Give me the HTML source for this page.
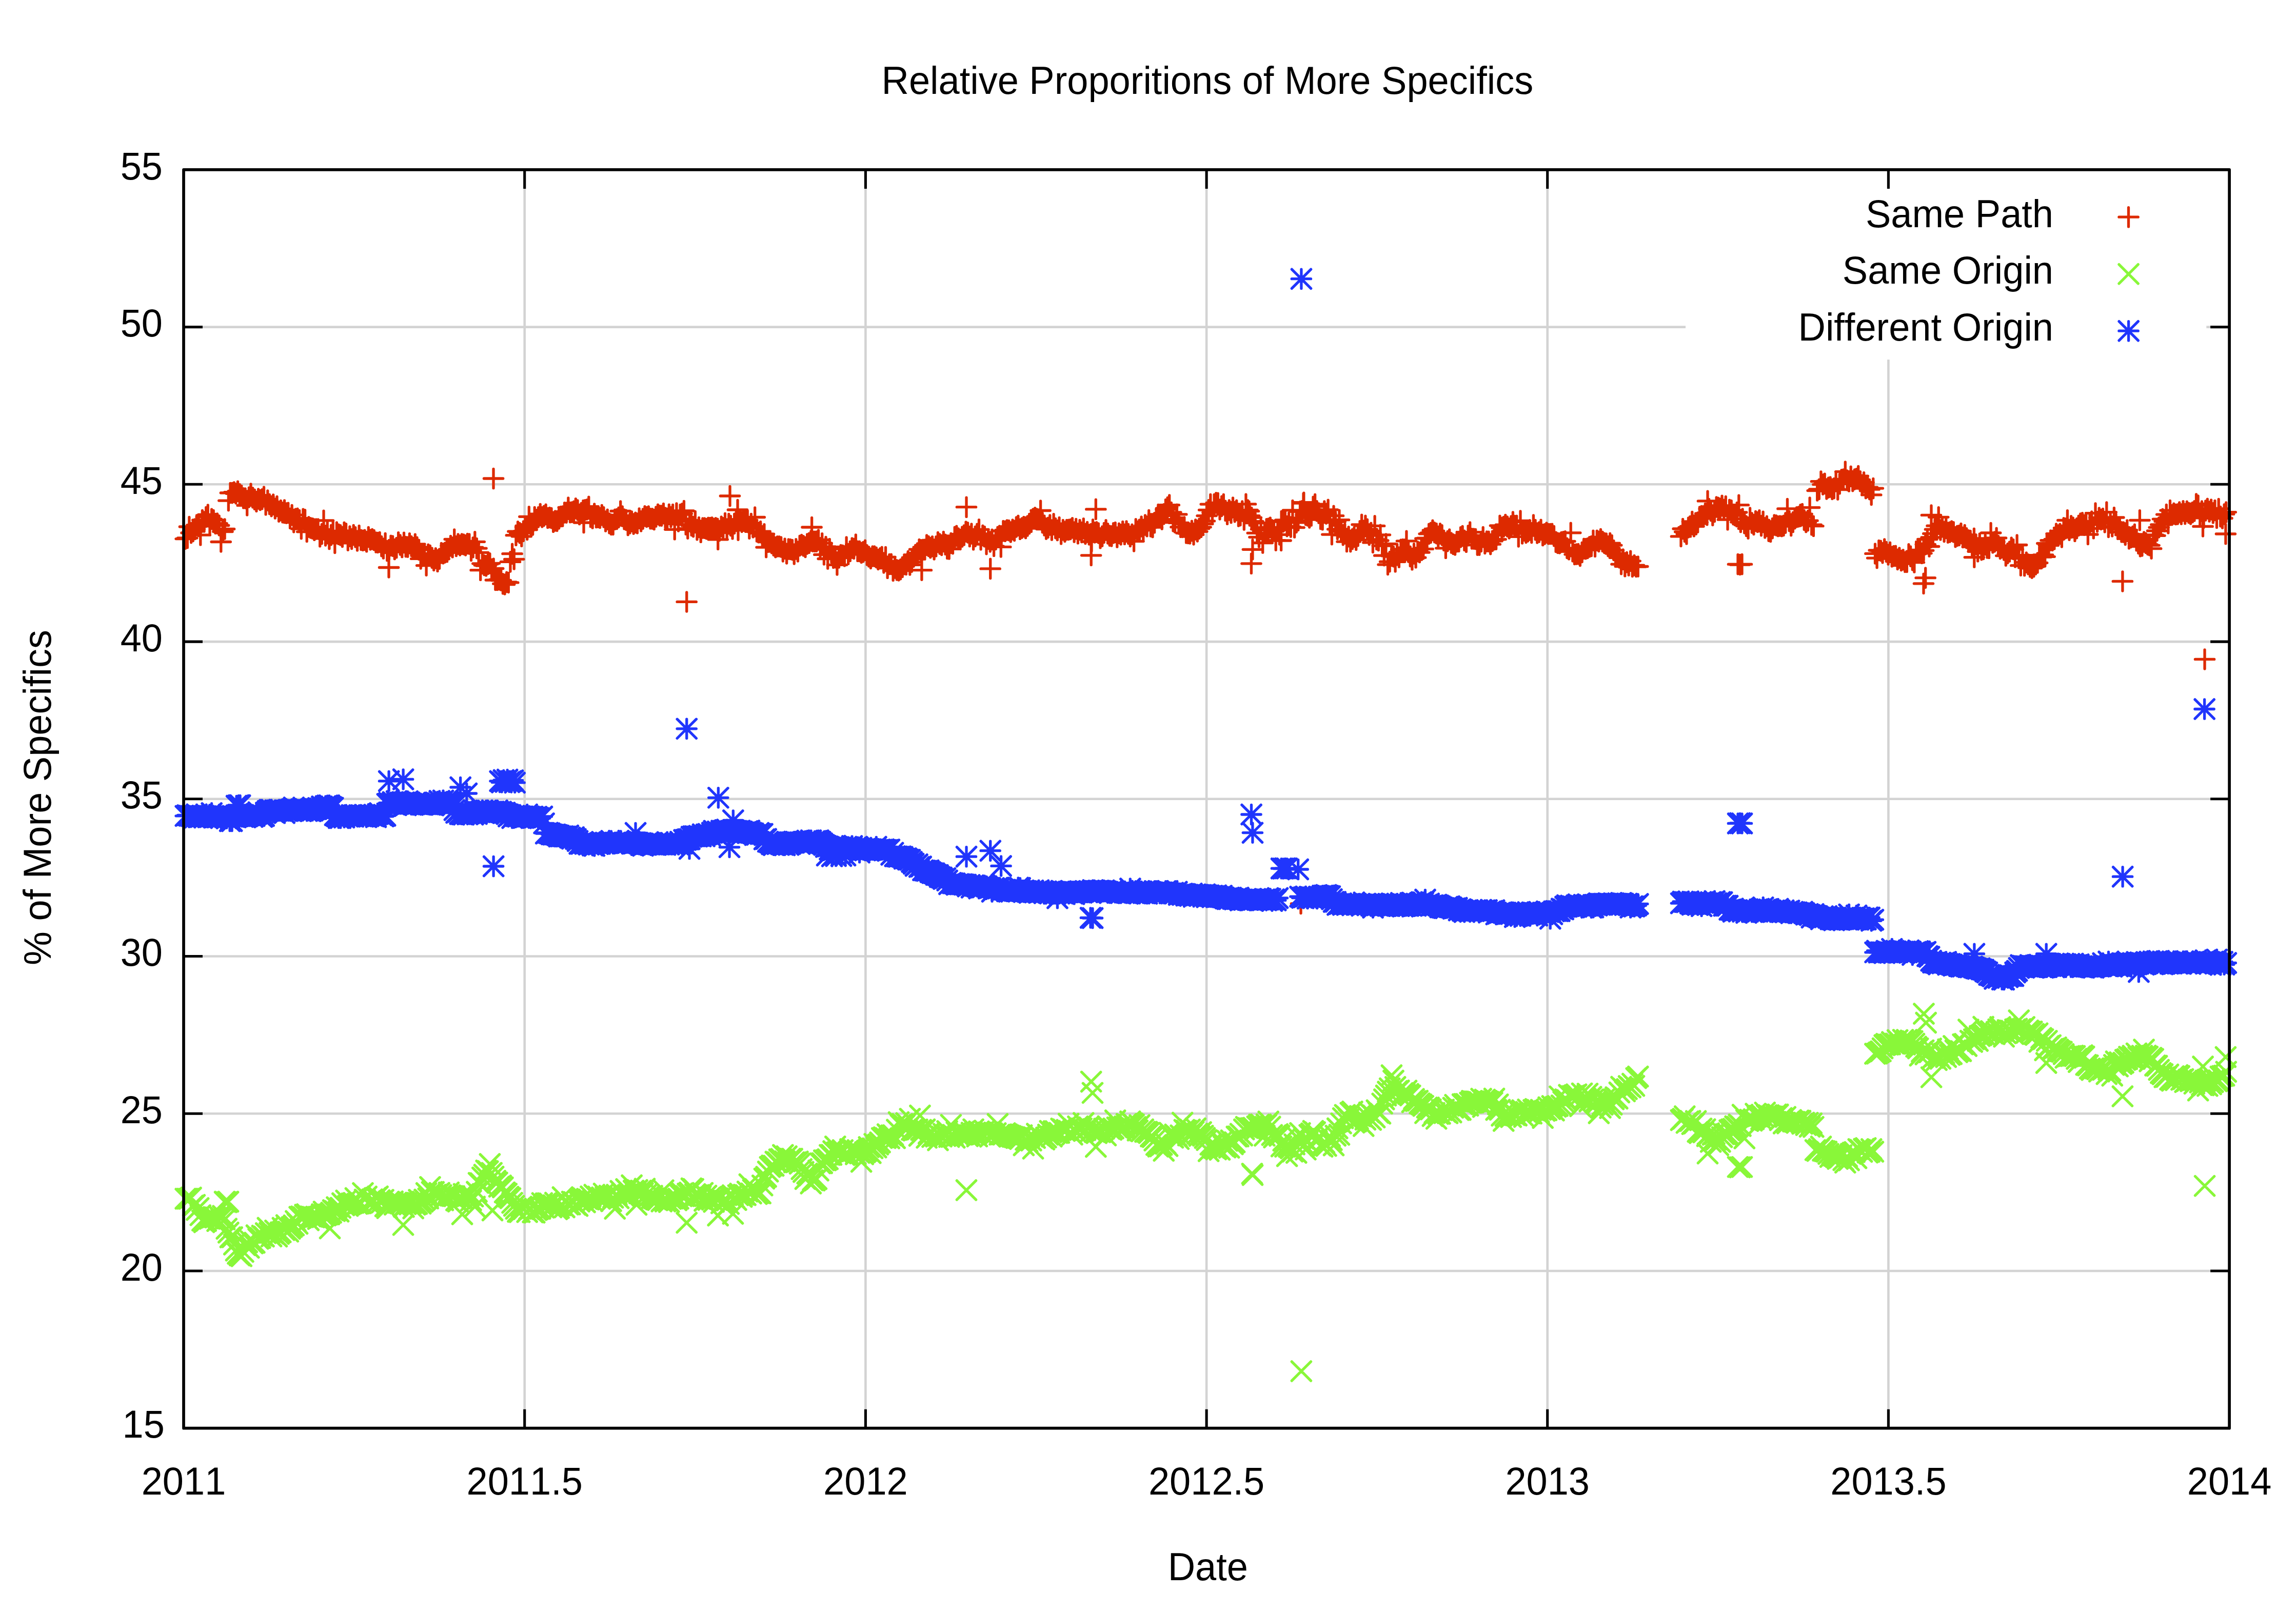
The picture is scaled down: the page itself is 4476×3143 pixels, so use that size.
<!DOCTYPE html>
<html><head><meta charset="utf-8"><title>Relative Proporitions of More Specifics</title>
<style>
html,body{margin:0;padding:0;background:#fff}
svg{display:block}
text{font-family:"Liberation Sans",sans-serif;fill:#000;font-kerning:none}
.m{fill:none;stroke-width:5.3;stroke-linecap:round;stroke-linejoin:round}
</style></head><body>
<svg width="4476" height="3143" viewBox="0 0 4476 3143">
<rect width="4476" height="3143" fill="#fff"/>
<path d="M358 2478H4346.1M358 2171.2H4346.1M358 1864.5H4346.1M358 1557.8H4346.1M358 1251.1H4346.1M358 944.3H4346.1M358 637.6H4346.1M1022.7 330.9V2784.7M1687.4 330.9V2784.7M2352.1 330.9V2784.7M3016.7 330.9V2784.7M3681.4 330.9V2784.7" stroke="#d3d3d3" stroke-width="4.6" fill="none"/>
<rect x="3286" y="368" width="1015.3" height="333.1" fill="#fff"/>
<path d="M358 2478h37M4346.1 2478h-37M358 2171.2h37M4346.1 2171.2h-37M358 1864.5h37M4346.1 1864.5h-37M358 1557.8h37M4346.1 1557.8h-37M358 1251.1h37M4346.1 1251.1h-37M358 944.3h37M4346.1 944.3h-37M358 637.6h37M4346.1 637.6h-37M1022.7 330.9v37M1022.7 2784.7v-37M1687.4 330.9v37M1687.4 2784.7v-37M2352.1 330.9v37M2352.1 2784.7v-37M3016.7 330.9v37M3016.7 2784.7v-37M3681.4 330.9v37M3681.4 2784.7v-37" stroke="#000" stroke-width="5.1" fill="none"/>
<path class="m" stroke="#dd2a00" d="M343 1050.6h37.3M361.6 1032v37.3M346.6 1049h37.3M365.3 1030.4v37.3M350.3 1027h37.3M368.9 1008.3v37.3M353.9 1039h37.3M372.6 1020.4v37.3M357.5 1036h37.3M376.2 1017.4v37.3M361.2 1031.6h37.3M379.8 1012.9v37.3M364.8 1023.7h37.3M383.5 1005v37.3M368.5 1025.9h37.3M387.1 1007.2v37.3M372.1 1043.2h37.3M390.8 1024.6v37.3M375.7 1013.9h37.3M394.4 995.3v37.3M379.4 1017.5h37.3M398 998.9v37.3M383 1007.9h37.3M401.7 989.3v37.3M386.7 1003.5h37.3M405.3 984.9v37.3M390.3 1022.5h37.3M409 1003.8v37.3M393.9 1011.9h37.3M412.6 993.2v37.3M397.6 1014h37.3M416.2 995.4v37.3M401.2 1020.9h37.3M419.9 1002.3v37.3M404.9 1020.6h37.3M423.5 1002v37.3M408.5 1024.5h37.3M427.2 1005.8v37.3M412.1 1056.5h37.3M430.8 1037.8v37.3M415.8 1036.5h37.3M434.4 1017.8v37.3M419.4 1031.5h37.3M438.1 1012.8v37.3M426.7 976.1h37.3M445.4 957.5v37.3M430.3 961h37.3M449 942.3v37.3M434 961.1h37.3M452.6 942.5v37.3M437.6 959.7h37.3M456.3 941v37.3M441.3 962.4h37.3M459.9 943.8v37.3M444.9 957.8h37.3M463.5 939.1v37.3M448.5 963.2h37.3M467.2 944.6v37.3M452.2 966h37.3M470.8 947.3v37.3M455.8 971.3h37.3M474.5 952.7v37.3M459.5 971.6h37.3M478.1 953v37.3M463.1 985.4h37.3M481.7 966.8v37.3M466.7 969.5h37.3M485.4 950.8v37.3M470.4 962.5h37.3M489 943.8v37.3M474 970.2h37.3M492.7 951.6v37.3M477.7 973.8h37.3M496.3 955.1v37.3M481.3 977.9h37.3M499.9 959.3v37.3M484.9 972.5h37.3M503.6 953.9v37.3M488.6 975h37.3M507.2 956.4v37.3M492.2 973.3h37.3M510.9 954.6v37.3M495.9 968.5h37.3M514.5 949.8v37.3M499.5 984.2h37.3M518.1 965.6v37.3M503.1 975.5h37.3M521.8 956.9v37.3M506.8 983.1h37.3M525.4 964.4v37.3M510.4 987.1h37.3M529.1 968.5v37.3M514.1 983.6h37.3M532.7 965v37.3M517.7 991.5h37.3M536.3 972.9v37.3M521.3 987h37.3M540 968.4v37.3M525 997.6h37.3M543.6 979v37.3M528.6 995.1h37.3M547.3 976.5v37.3M532.2 999.2h37.3M550.9 980.6v37.3M535.9 994.5h37.3M554.5 975.9v37.3M539.5 1000.7h37.3M558.2 982v37.3M543.2 999.7h37.3M561.8 981.1v37.3M546.8 1010.7h37.3M565.5 992.1v37.3M550.4 1004.1h37.3M569.1 985.5v37.3M554.1 1018.5h37.3M572.7 999.8v37.3M557.7 1011.5h37.3M576.4 992.8v37.3M561.4 1010.7h37.3M580 992.1v37.3M565 1014.1h37.3M583.7 995.4v37.3M568.6 1031.1h37.3M587.3 1012.4v37.3M572.3 1011.7h37.3M590.9 993.1v37.3M575.9 1013.2h37.3M594.6 994.6v37.3M579.6 1036.8h37.3M598.2 1018.1v37.3M583.2 1027.3h37.3M601.9 1008.7v37.3M586.8 1029.2h37.3M605.5 1010.6v37.3M590.5 1030.6h37.3M609.1 1011.9v37.3M594.1 1033.8h37.3M612.8 1015.1v37.3M597.8 1031.5h37.3M616.4 1012.9v37.3M601.4 1031.4h37.3M620.1 1012.8v37.3M605 1046.3h37.3M623.7 1027.6v37.3M608.7 1041.1h37.3M627.3 1022.5v37.3M612.3 1014.8h37.3M631 996.2v37.3M616 1044.4h37.3M634.6 1025.7v37.3M619.6 1036.6h37.3M638.2 1018v37.3M623.2 1051.1h37.3M641.9 1032.4v37.3M626.9 1043.1h37.3M645.5 1024.5v37.3M630.5 1035.4h37.3M649.2 1016.7v37.3M634.2 1058.9h37.3M652.8 1040.2v37.3M637.8 1037.4h37.3M656.4 1018.8v37.3M641.4 1041.8h37.3M660.1 1023.1v37.3M645.1 1043.3h37.3M663.7 1024.6v37.3M648.7 1046.8h37.3M667.4 1028.2v37.3M652.4 1037.7h37.3M671 1019.1v37.3M656 1040.2h37.3M674.6 1021.6v37.3M659.6 1053.7h37.3M678.3 1035v37.3M663.3 1045.6h37.3M681.9 1027v37.3M666.9 1050.9h37.3M685.6 1032.3v37.3M670.6 1042.9h37.3M689.2 1024.3v37.3M674.2 1047.3h37.3M692.8 1028.6v37.3M677.8 1054.4h37.3M696.5 1035.8v37.3M681.5 1044.1h37.3M700.1 1025.5v37.3M685.1 1052.8h37.3M703.8 1034.2v37.3M688.8 1053.7h37.3M707.4 1035.1v37.3M692.4 1052.9h37.3M711 1034.2v37.3M696 1056.3h37.3M714.7 1037.6v37.3M699.7 1047.1h37.3M718.3 1028.4v37.3M703.3 1052.5h37.3M722 1033.8v37.3M707 1051.2h37.3M725.6 1032.5v37.3M710.6 1053.1h37.3M729.2 1034.4v37.3M714.2 1057.6h37.3M732.9 1038.9v37.3M717.9 1058h37.3M736.5 1039.3v37.3M721.5 1056.9h37.3M740.2 1038.3v37.3M725.1 1065.1h37.3M743.8 1046.5v37.3M728.8 1069.6h37.3M747.4 1050.9v37.3M732.4 1059h37.3M751.1 1040.3v37.3M736.1 1074.1h37.3M754.7 1055.4v37.3M739.7 1071.9h37.3M758.4 1053.3v37.3M743.3 1063.8h37.3M762 1045.1v37.3M747 1064.6h37.3M765.6 1046v37.3M750.6 1071h37.3M769.3 1052.4v37.3M754.3 1068h37.3M772.9 1049.4v37.3M757.9 1057.4h37.3M776.6 1038.7v37.3M761.5 1062.4h37.3M780.2 1043.8v37.3M765.2 1067.1h37.3M783.8 1048.4v37.3M768.8 1057.9h37.3M787.5 1039.2v37.3M772.5 1066h37.3M791.1 1047.4v37.3M776.1 1066.6h37.3M794.8 1047.9v37.3M779.7 1059.4h37.3M798.4 1040.7v37.3M783.4 1065h37.3M802 1046.3v37.3M787 1068.1h37.3M805.7 1049.4v37.3M790.7 1060.8h37.3M809.3 1042.2v37.3M794.3 1066.8h37.3M813 1048.2v37.3M797.9 1071.8h37.3M816.6 1053.1v37.3M801.6 1089.4h37.3M820.2 1070.7v37.3M805.2 1084.2h37.3M823.9 1065.5v37.3M808.9 1079.5h37.3M827.5 1060.9v37.3M812.5 1102.6h37.3M831.1 1084v37.3M816.1 1080.7h37.3M834.8 1062.1v37.3M819.8 1082.8h37.3M838.4 1064.1v37.3M823.4 1087.6h37.3M842.1 1069v37.3M827.1 1093h37.3M845.7 1074.3v37.3M830.7 1088.3h37.3M849.3 1069.7v37.3M834.3 1094.7h37.3M853 1076.1v37.3M838 1089.7h37.3M856.6 1071v37.3M841.6 1078.2h37.3M860.3 1059.5v37.3M845.3 1079.2h37.3M863.9 1060.6v37.3M848.9 1077.4h37.3M867.5 1058.8v37.3M852.5 1073.6h37.3M871.2 1054.9v37.3M856.2 1071.4h37.3M874.8 1052.8v37.3M859.8 1064.1h37.3M878.5 1045.5v37.3M863.5 1067.3h37.3M882.1 1048.6v37.3M867.1 1051.5h37.3M885.7 1032.9v37.3M870.7 1064.9h37.3M889.4 1046.3v37.3M874.4 1060.7h37.3M893 1042v37.3M878 1063.5h37.3M896.7 1044.8v37.3M881.7 1060.7h37.3M900.3 1042v37.3M885.3 1061.6h37.3M903.9 1042.9v37.3M888.9 1063.4h37.3M907.6 1044.7v37.3M892.6 1060h37.3M911.2 1041.3v37.3M896.2 1060.5h37.3M914.9 1041.9v37.3M899.8 1073.7h37.3M918.5 1055.1v37.3M903.5 1067.2h37.3M922.1 1048.6v37.3M907.1 1056.3h37.3M925.8 1037.6v37.3M910.8 1069.1h37.3M929.4 1050.5v37.3M914.4 1077.3h37.3M933.1 1058.7v37.3M918 1111.7h37.3M936.7 1093.1v37.3M921.7 1098.8h37.3M940.3 1080.2v37.3M925.3 1102.1h37.3M944 1083.4v37.3M929 1103.2h37.3M947.6 1084.6v37.3M932.6 1099.9h37.3M951.3 1081.3v37.3M936.2 1098.4h37.3M954.9 1079.7v37.3M939.9 1109.9h37.3M958.5 1091.2v37.3M943.5 1108.5h37.3M962.2 1089.8v37.3M947.2 1131h37.3M965.8 1112.3v37.3M950.8 1130.8h37.3M969.5 1112.2v37.3M954.4 1130.2h37.3M973.1 1111.5v37.3M958.1 1131.5h37.3M976.7 1112.9v37.3M961.7 1138.2h37.3M980.4 1119.6v37.3M965.4 1139.5h37.3M984 1120.8v37.3M969 1134.9h37.3M987.7 1116.2v37.3M972.6 1135.9h37.3M991.3 1117.3v37.3M976.3 1095.4h37.3M994.9 1076.7v37.3M979.9 1079.7h37.3M998.6 1061.1v37.3M983.6 1090.3h37.3M1002.2 1071.7v37.3M987.2 1043.7h37.3M1005.9 1025.1v37.3M990.8 1036.2h37.3M1009.5 1017.6v37.3M994.5 1039.1h37.3M1013.1 1020.5v37.3M998.1 1045.8h37.3M1016.8 1027.1v37.3M1001.8 1035.6h37.3M1020.4 1017v37.3M1005.4 1027.7h37.3M1024 1009.1v37.3M1009 1032.8h37.3M1027.7 1014.1v37.3M1012.7 1007.3h37.3M1031.3 988.6v37.3M1016.3 1022.7h37.3M1035 1004.1v37.3M1020 1023.5h37.3M1038.6 1004.8v37.3M1023.6 1008h37.3M1042.2 989.4v37.3M1027.2 1013.2h37.3M1045.9 994.6v37.3M1030.9 1008.4h37.3M1049.5 989.7v37.3M1034.5 1002.1h37.3M1053.2 983.4v37.3M1038.2 1008.2h37.3M1056.8 989.6v37.3M1041.8 1005.8h37.3M1060.4 987.2v37.3M1045.4 1002.9h37.3M1064.1 984.2v37.3M1049.1 1010h37.3M1067.7 991.3v37.3M1052.7 1009h37.3M1071.4 990.4v37.3M1056.4 1010.2h37.3M1075 991.5v37.3M1060 1017.8h37.3M1078.6 999.1v37.3M1063.6 1015.4h37.3M1082.3 996.8v37.3M1067.3 1016h37.3M1085.9 997.3v37.3M1070.9 1011.4h37.3M1089.6 992.7v37.3M1074.6 1007.1h37.3M1093.2 988.4v37.3M1078.2 1006.7h37.3M1096.8 988v37.3M1081.8 999.4h37.3M1100.5 980.7v37.3M1085.5 999.6h37.3M1104.1 981v37.3M1089.1 989.5h37.3M1107.8 970.9v37.3M1092.7 999.1h37.3M1111.4 980.5v37.3M1096.4 998.6h37.3M1115 980v37.3M1100 996.8h37.3M1118.7 978.1v37.3M1103.7 991.2h37.3M1122.3 972.6v37.3M1107.3 994.5h37.3M1126 975.8v37.3M1110.9 1003.1h37.3M1129.6 984.4v37.3M1114.6 1000.2h37.3M1133.2 981.5v37.3M1118.2 995h37.3M1136.9 976.3v37.3M1121.9 994.3h37.3M1140.5 975.6v37.3M1125.5 993.3h37.3M1144.2 974.7v37.3M1129.1 987.7h37.3M1147.8 969.1v37.3M1132.8 1008h37.3M1151.4 989.4v37.3M1136.4 1010.6h37.3M1155.1 991.9v37.3M1140.1 1001.5h37.3M1158.7 982.8v37.3M1143.7 1009h37.3M1162.4 990.4v37.3M1147.3 1008.6h37.3M1166 990v37.3M1151 1009.9h37.3M1169.6 991.2v37.3M1154.6 1004h37.3M1173.3 985.3v37.3M1158.3 1008.3h37.3M1176.9 989.7v37.3M1161.9 1016.5h37.3M1180.6 997.9v37.3M1165.5 1012.7h37.3M1184.2 994.1v37.3M1169.2 1020.5h37.3M1187.8 1001.8v37.3M1172.8 1022.8h37.3M1191.5 1004.2v37.3M1176.5 1022.8h37.3M1195.1 1004.2v37.3M1180.1 1012.7h37.3M1198.7 994.1v37.3M1183.7 1012h37.3M1202.4 993.4v37.3M1187.4 1008.9h37.3M1206 990.2v37.3M1191 996.5h37.3M1209.7 977.8v37.3M1194.7 1006.6h37.3M1213.3 987.9v37.3M1198.3 1012.5h37.3M1216.9 993.8v37.3M1201.9 1013.9h37.3M1220.6 995.2v37.3M1205.6 1024h37.3M1224.2 1005.4v37.3M1209.2 1020.5h37.3M1227.9 1001.9v37.3M1212.9 1016.6h37.3M1231.5 998v37.3M1216.5 1021.7h37.3M1235.1 1003v37.3M1220.1 1018.8h37.3M1238.8 1000.2v37.3M1223.8 1020.5h37.3M1242.4 1001.8v37.3M1227.4 1010.7h37.3M1246.1 992v37.3M1231.1 1016.3h37.3M1249.7 997.7v37.3M1234.7 1011.7h37.3M1253.3 993v37.3M1238.3 1006.2h37.3M1257 987.6v37.3M1242 1007.9h37.3M1260.6 989.3v37.3M1245.6 1006.6h37.3M1264.3 988v37.3M1249.3 1011.2h37.3M1267.9 992.6v37.3M1252.9 1011.3h37.3M1271.5 992.7v37.3M1256.5 1013h37.3M1275.2 994.4v37.3M1260.2 1007.6h37.3M1278.8 988.9v37.3M1263.8 1002.9h37.3M1282.5 984.2v37.3M1267.4 1005.4h37.3M1286.1 986.7v37.3M1271.1 1005.6h37.3M1289.7 987v37.3M1274.7 1001.1h37.3M1293.4 982.5v37.3M1278.4 1009.6h37.3M1297 990.9v37.3M1282 1010.9h37.3M1300.7 992.2v37.3M1285.6 1002.7h37.3M1304.3 984.1v37.3M1289.3 1008.1h37.3M1307.9 989.5v37.3M1292.9 1003.1h37.3M1311.6 984.5v37.3M1296.6 1032.3h37.3M1315.2 1013.6v37.3M1300.2 1000.6h37.3M1318.9 982v37.3M1303.8 1016.5h37.3M1322.5 997.9v37.3M1307.5 1003.2h37.3M1326.1 984.5v37.3M1311.1 1001.4h37.3M1329.8 982.7v37.3M1314.8 996h37.3M1333.4 977.3v37.3M1318.4 1022.7h37.3M1337.1 1004.1v37.3M1322 1030.7h37.3M1340.7 1012v37.3M1325.7 1016.5h37.3M1344.3 997.8v37.3M1329.3 1024.9h37.3M1348 1006.3v37.3M1333 1027.2h37.3M1351.6 1008.5v37.3M1336.6 1016h37.3M1355.3 997.4v37.3M1340.2 1033.2h37.3M1358.9 1014.5v37.3M1343.9 1028h37.3M1362.5 1009.3v37.3M1347.5 1037.7h37.3M1366.2 1019.1v37.3M1351.2 1029.6h37.3M1369.8 1010.9v37.3M1354.8 1029.7h37.3M1373.5 1011v37.3M1358.4 1031.1h37.3M1377.1 1012.5v37.3M1362.1 1028.8h37.3M1380.7 1010.1v37.3M1365.7 1028.9h37.3M1384.4 1010.3v37.3M1369.4 1028.3h37.3M1388 1009.6v37.3M1373 1030.8h37.3M1391.6 1012.1v37.3M1376.6 1029.4h37.3M1395.3 1010.7v37.3M1380.3 1030.8h37.3M1398.9 1012.2v37.3M1383.9 1034.9h37.3M1402.6 1016.3v37.3M1387.6 1026.5h37.3M1406.2 1007.8v37.3M1391.2 1029.3h37.3M1409.8 1010.6v37.3M1394.8 1019.9h37.3M1413.5 1001.3v37.3M1398.5 1031.5h37.3M1417.1 1012.8v37.3M1402.1 1021.2h37.3M1420.8 1002.5v37.3M1405.8 1025h37.3M1424.4 1006.3v37.3M1409.4 1031.3h37.3M1428 1012.6v37.3M1413 1020.8h37.3M1431.7 1002.2v37.3M1416.7 1016.1h37.3M1435.3 997.4v37.3M1420.3 1033.6h37.3M1439 1015v37.3M1424 1013.4h37.3M1442.6 994.8v37.3M1427.6 1017.9h37.3M1446.2 999.3v37.3M1431.2 1015.7h37.3M1449.9 997v37.3M1434.9 1017.7h37.3M1453.5 999.1v37.3M1438.5 1014.2h37.3M1457.2 995.6v37.3M1442.2 1030.6h37.3M1460.8 1012v37.3M1445.8 1021.1h37.3M1464.4 1002.4v37.3M1449.4 1028.4h37.3M1468.1 1009.7v37.3M1453.1 1008.5h37.3M1471.7 989.9v37.3M1456.7 1036.5h37.3M1475.4 1017.9v37.3M1460.3 1038.3h37.3M1479 1019.6v37.3M1464 1036.1h37.3M1482.6 1017.4v37.3M1467.6 1045.1h37.3M1486.3 1026.5v37.3M1471.3 1041.2h37.3M1489.9 1022.6v37.3M1474.9 1067.1h37.3M1493.6 1048.5v37.3M1478.5 1056.7h37.3M1497.2 1038.1v37.3M1482.2 1056.5h37.3M1500.8 1037.9v37.3M1485.8 1059.2h37.3M1504.5 1040.6v37.3M1489.5 1063.6h37.3M1508.1 1045v37.3M1493.1 1067.2h37.3M1511.8 1048.5v37.3M1496.7 1065.3h37.3M1515.4 1046.7v37.3M1500.4 1065.3h37.3M1519 1046.7v37.3M1504 1066.4h37.3M1522.7 1047.8v37.3M1507.7 1075.5h37.3M1526.3 1056.8v37.3M1511.3 1069.6h37.3M1530 1051v37.3M1514.9 1079.4h37.3M1533.6 1060.8v37.3M1518.6 1070.6h37.3M1537.2 1051.9v37.3M1522.2 1070.9h37.3M1540.9 1052.3v37.3M1525.9 1072h37.3M1544.5 1053.3v37.3M1529.5 1080.4h37.3M1548.2 1061.8v37.3M1533.1 1070.3h37.3M1551.8 1051.7v37.3M1536.8 1075.5h37.3M1555.4 1056.8v37.3M1540.4 1063.8h37.3M1559.1 1045.2v37.3M1544.1 1062.1h37.3M1562.7 1043.4v37.3M1547.7 1064.3h37.3M1566.3 1045.6v37.3M1551.3 1066.8h37.3M1570 1048.2v37.3M1555 1060.4h37.3M1573.6 1041.8v37.3M1558.6 1058.7h37.3M1577.3 1040.1v37.3M1562.3 1054.5h37.3M1580.9 1035.9v37.3M1565.9 1055.5h37.3M1584.5 1036.9v37.3M1569.5 1055.8h37.3M1588.2 1037.1v37.3M1573.2 1055.6h37.3M1591.8 1037v37.3M1576.8 1052.5h37.3M1595.5 1033.8v37.3M1580.5 1068.2h37.3M1599.1 1049.6v37.3M1584.1 1059.2h37.3M1602.7 1040.6v37.3M1587.7 1081.4h37.3M1606.4 1062.7v37.3M1591.4 1066h37.3M1610 1047.3v37.3M1595 1089.5h37.3M1613.7 1070.9v37.3M1598.7 1070.1h37.3M1617.3 1051.4v37.3M1602.3 1077.6h37.3M1620.9 1058.9v37.3M1605.9 1087.7h37.3M1624.6 1069.1v37.3M1609.6 1087.2h37.3M1628.2 1068.5v37.3M1613.2 1101.4h37.3M1631.9 1082.7v37.3M1616.9 1087.5h37.3M1635.5 1068.8v37.3M1620.5 1082.1h37.3M1639.1 1063.4v37.3M1624.1 1082.8h37.3M1642.8 1064.1v37.3M1627.8 1084.3h37.3M1646.4 1065.6v37.3M1631.4 1066.5h37.3M1650.1 1047.9v37.3M1635.1 1080.8h37.3M1653.7 1062.1v37.3M1638.7 1074.8h37.3M1657.3 1056.1v37.3M1642.3 1068.5h37.3M1661 1049.8v37.3M1646 1069.8h37.3M1664.6 1051.2v37.3M1649.6 1061.5h37.3M1668.3 1042.8v37.3M1653.2 1074.7h37.3M1671.9 1056.1v37.3M1656.9 1074.9h37.3M1675.5 1056.2v37.3M1660.5 1077.8h37.3M1679.2 1059.1v37.3M1664.2 1076.1h37.3M1682.8 1057.5v37.3M1667.8 1072.7h37.3M1686.5 1054.1v37.3M1671.4 1082.3h37.3M1690.1 1063.6v37.3M1675.1 1085.2h37.3M1693.7 1066.6v37.3M1678.7 1088.9h37.3M1697.4 1070.2v37.3M1682.4 1084.4h37.3M1701 1065.8v37.3M1686 1084.7h37.3M1704.7 1066v37.3M1689.6 1086.8h37.3M1708.3 1068.2v37.3M1693.3 1091h37.3M1711.9 1072.3v37.3M1696.9 1088.3h37.3M1715.6 1069.7v37.3M1700.6 1085.9h37.3M1719.2 1067.2v37.3M1704.2 1097.5h37.3M1722.9 1078.8v37.3M1707.8 1086.1h37.3M1726.5 1067.4v37.3M1711.5 1107.7h37.3M1730.1 1089.1v37.3M1715.1 1100h37.3M1733.8 1081.4v37.3M1718.8 1099.9h37.3M1737.4 1081.2v37.3M1722.4 1112.8h37.3M1741.1 1094.1v37.3M1726 1107.5h37.3M1744.7 1088.8v37.3M1729.7 1111.4h37.3M1748.3 1092.7v37.3M1733.3 1112.3h37.3M1752 1093.7v37.3M1737 1110.1h37.3M1755.6 1091.5v37.3M1740.6 1105.7h37.3M1759.2 1087.1v37.3M1744.2 1100.3h37.3M1762.9 1081.6v37.3M1747.9 1101h37.3M1766.5 1082.3v37.3M1751.5 1093.9h37.3M1770.2 1075.3v37.3M1755.2 1101.3h37.3M1773.8 1082.7v37.3M1758.8 1095.8h37.3M1777.4 1077.1v37.3M1762.4 1085.6h37.3M1781.1 1067v37.3M1766.1 1081.7h37.3M1784.7 1063.1v37.3M1769.7 1078.5h37.3M1788.4 1059.9v37.3M1773.4 1071.1h37.3M1792 1052.5v37.3M1777 1072.2h37.3M1795.6 1053.6v37.3M1780.6 1071.8h37.3M1799.3 1053.2v37.3M1784.3 1071.6h37.3M1802.9 1053v37.3M1787.9 1062.7h37.3M1806.6 1044v37.3M1791.6 1065h37.3M1810.2 1046.3v37.3M1795.2 1068h37.3M1813.8 1049.4v37.3M1798.8 1065.2h37.3M1817.5 1046.6v37.3M1802.5 1071.4h37.3M1821.1 1052.7v37.3M1806.1 1065.2h37.3M1824.8 1046.6v37.3M1809.8 1057h37.3M1828.4 1038.3v37.3M1813.4 1060.5h37.3M1832 1041.9v37.3M1817 1062.9h37.3M1835.7 1044.3v37.3M1820.7 1056h37.3M1839.3 1037.3v37.3M1824.3 1061.8h37.3M1843 1043.1v37.3M1827.9 1069.9h37.3M1846.6 1051.3v37.3M1831.6 1070.4h37.3M1850.2 1051.8v37.3M1835.2 1059.1h37.3M1853.9 1040.4v37.3M1838.9 1060.1h37.3M1857.5 1041.5v37.3M1842.5 1046.8h37.3M1861.2 1028.2v37.3M1846.1 1044.9h37.3M1864.8 1026.2v37.3M1849.8 1049.6h37.3M1868.4 1031v37.3M1853.4 1052h37.3M1872.1 1033.3v37.3M1857.1 1046.5h37.3M1875.7 1027.9v37.3M1860.7 1043.5h37.3M1879.4 1024.8v37.3M1864.3 1036.5h37.3M1883 1017.8v37.3M1868 1038.4h37.3M1886.6 1019.7v37.3M1871.6 1046h37.3M1890.3 1027.4v37.3M1875.3 1040.5h37.3M1893.9 1021.9v37.3M1878.9 1052.2h37.3M1897.6 1033.6v37.3M1882.5 1045.7h37.3M1901.2 1027.1v37.3M1886.2 1040.9h37.3M1904.8 1022.2v37.3M1889.8 1032.4h37.3M1908.5 1013.7v37.3M1893.5 1052.2h37.3M1912.1 1033.6v37.3M1897.1 1043.9h37.3M1915.8 1025.2v37.3M1900.7 1046.1h37.3M1919.4 1027.5v37.3M1904.4 1061.2h37.3M1923 1042.5v37.3M1908 1051h37.3M1926.7 1032.4v37.3M1911.7 1056.5h37.3M1930.3 1037.8v37.3M1915.3 1051.9h37.3M1934 1033.2v37.3M1918.9 1064.8h37.3M1937.6 1046.1v37.3M1922.6 1052h37.3M1941.2 1033.3v37.3M1926.2 1046.9h37.3M1944.9 1028.2v37.3M1929.9 1044.5h37.3M1948.5 1025.9v37.3M1933.5 1045.3h37.3M1952.1 1026.7v37.3M1937.1 1035.2h37.3M1955.8 1016.5v37.3M1940.8 1035.8h37.3M1959.4 1017.1v37.3M1944.4 1033.5h37.3M1963.1 1014.8v37.3M1948.1 1034.1h37.3M1966.7 1015.5v37.3M1951.7 1037.5h37.3M1970.3 1018.8v37.3M1955.3 1032.6h37.3M1974 1013.9v37.3M1959 1034.8h37.3M1977.6 1016.2v37.3M1962.6 1027.5h37.3M1981.3 1008.8v37.3M1966.3 1024.7h37.3M1984.9 1006.1v37.3M1969.9 1031.7h37.3M1988.5 1013.1v37.3M1973.5 1029.6h37.3M1992.2 1010.9v37.3M1977.2 1026.9h37.3M1995.8 1008.3v37.3M1980.8 1030.1h37.3M1999.5 1011.4v37.3M1984.5 1025.5h37.3M2003.1 1006.8v37.3M1988.1 1021.1h37.3M2006.7 1002.5v37.3M1991.7 1017.8h37.3M2010.4 999.1v37.3M1995.4 1011.4h37.3M2014 992.8v37.3M1999 1009.4h37.3M2017.7 990.7v37.3M2002.7 1011.6h37.3M2021.3 992.9v37.3M2006.3 1012.4h37.3M2024.9 993.8v37.3M2009.9 995.5h37.3M2028.6 976.8v37.3M2013.6 1019.2h37.3M2032.2 1000.5v37.3M2017.2 1024.5h37.3M2035.9 1005.9v37.3M2020.8 1031.5h37.3M2039.5 1012.9v37.3M2024.5 1028.9h37.3M2043.1 1010.2v37.3M2028.1 1023.5h37.3M2046.8 1004.9v37.3M2031.8 1033.6h37.3M2050.4 1014.9v37.3M2035.4 1021.2h37.3M2054.1 1002.6v37.3M2039 1030.1h37.3M2057.7 1011.5v37.3M2042.7 1034h37.3M2061.3 1015.4v37.3M2046.3 1028h37.3M2065 1009.3v37.3M2050 1041.3h37.3M2068.6 1022.6v37.3M2053.6 1033.1h37.3M2072.3 1014.5v37.3M2057.2 1036.8h37.3M2075.9 1018.1v37.3M2060.9 1032.9h37.3M2079.5 1014.3v37.3M2064.5 1032.9h37.3M2083.2 1014.2v37.3M2068.2 1032h37.3M2086.8 1013.4v37.3M2071.8 1029.3h37.3M2090.5 1010.6v37.3M2075.4 1037.6h37.3M2094.1 1018.9v37.3M2079.1 1031.2h37.3M2097.7 1012.5v37.3M2082.7 1040.2h37.3M2101.4 1021.6v37.3M2086.4 1033.1h37.3M2105 1014.4v37.3M2090 1038.1h37.3M2108.7 1019.4v37.3M2093.6 1030.4h37.3M2112.3 1011.7v37.3M2097.3 1040.8h37.3M2115.9 1022.2v37.3M2100.9 1037h37.3M2119.6 1018.4v37.3M2104.6 1042.4h37.3M2123.2 1023.8v37.3M2108.2 1041h37.3M2126.8 1022.4v37.3M2111.8 1032.2h37.3M2130.5 1013.6v37.3M2115.5 1038.4h37.3M2134.1 1019.7v37.3M2119.1 1037.3h37.3M2137.8 1018.7v37.3M2122.8 1039.4h37.3M2141.4 1020.8v37.3M2126.4 1049.3h37.3M2145 1030.6v37.3M2130 1045.7h37.3M2148.7 1027v37.3M2133.7 1039h37.3M2152.3 1020.3v37.3M2137.3 1033.3h37.3M2156 1014.7v37.3M2141 1040.4h37.3M2159.6 1021.7v37.3M2144.6 1044.7h37.3M2163.2 1026v37.3M2148.2 1045.3h37.3M2166.9 1026.7v37.3M2151.9 1039.2h37.3M2170.5 1020.6v37.3M2155.5 1038.1h37.3M2174.2 1019.4v37.3M2159.2 1047.6h37.3M2177.8 1028.9v37.3M2162.8 1039.7h37.3M2181.4 1021.1v37.3M2166.4 1042.3h37.3M2185.1 1023.7v37.3M2170.1 1036h37.3M2188.7 1017.4v37.3M2173.7 1041.8h37.3M2192.4 1023.1v37.3M2177.4 1035.7h37.3M2196 1017v37.3M2181 1041h37.3M2199.6 1022.3v37.3M2184.6 1046h37.3M2203.3 1027.4v37.3M2188.3 1041.8h37.3M2206.9 1023.1v37.3M2191.9 1055.3h37.3M2210.6 1036.7v37.3M2195.5 1031.3h37.3M2214.2 1012.6v37.3M2199.2 1036.2h37.3M2217.8 1017.5v37.3M2202.8 1032.4h37.3M2221.5 1013.8v37.3M2206.5 1026.5h37.3M2225.1 1007.8v37.3M2210.1 1033.6h37.3M2228.8 1015v37.3M2213.7 1023.5h37.3M2232.4 1004.9v37.3M2217.4 1026.2h37.3M2236 1007.6v37.3M2221 1014.1h37.3M2239.7 995.5v37.3M2224.7 1026.5h37.3M2243.3 1007.9v37.3M2228.3 1028.1h37.3M2247 1009.4v37.3M2231.9 1019.2h37.3M2250.6 1000.6v37.3M2235.6 1009.8h37.3M2254.2 991.1v37.3M2239.2 1003h37.3M2257.9 984.4v37.3M2242.9 1005.3h37.3M2261.5 986.7v37.3M2246.5 1012.6h37.3M2265.2 993.9v37.3M2250.1 1002.3h37.3M2268.8 983.6v37.3M2253.8 993.2h37.3M2272.4 974.5v37.3M2257.4 989.2h37.3M2276.1 970.5v37.3M2261.1 984.7h37.3M2279.7 966v37.3M2264.7 998.9h37.3M2283.4 980.3v37.3M2268.3 1016.4h37.3M2287 997.8v37.3M2272 1018.7h37.3M2290.6 1000.1v37.3M2275.6 1002.9h37.3M2294.3 984.2v37.3M2279.3 1019.4h37.3M2297.9 1000.7v37.3M2282.9 1027.7h37.3M2301.6 1009.1v37.3M2286.5 1027.9h37.3M2305.2 1009.3v37.3M2290.2 1027.6h37.3M2308.8 1008.9v37.3M2293.8 1039.4h37.3M2312.5 1020.7v37.3M2297.5 1040h37.3M2316.1 1021.3v37.3M2301.1 1040.3h37.3M2319.7 1021.7v37.3M2304.7 1034.8h37.3M2323.4 1016.2v37.3M2308.4 1042.5h37.3M2327 1023.8v37.3M2312 1032.3h37.3M2330.7 1013.7v37.3M2315.7 1036.3h37.3M2334.3 1017.7v37.3M2319.3 1030.7h37.3M2337.9 1012v37.3M2322.9 1027.8h37.3M2341.6 1009.1v37.3M2326.6 1021.5h37.3M2345.2 1002.8v37.3M2330.2 1015.9h37.3M2348.9 997.3v37.3M2333.9 1005.6h37.3M2352.5 986.9v37.3M2337.5 994.3h37.3M2356.1 975.6v37.3M2341.1 983.1h37.3M2359.8 964.5v37.3M2344.8 999.2h37.3M2363.4 980.6v37.3M2348.4 983.1h37.3M2367.1 964.4v37.3M2352.1 980.3h37.3M2370.7 961.7v37.3M2355.7 980.8h37.3M2374.3 962.1v37.3M2359.3 993.4h37.3M2378 974.8v37.3M2363 986.9h37.3M2381.6 968.2v37.3M2366.6 983.2h37.3M2385.3 964.5v37.3M2370.3 995.8h37.3M2388.9 977.1v37.3M2373.9 1002.7h37.3M2392.5 984.1v37.3M2377.5 994.4h37.3M2396.2 975.8v37.3M2381.2 998h37.3M2399.8 979.3v37.3M2384.8 989.7h37.3M2403.5 971v37.3M2388.4 998.1h37.3M2407.1 979.5v37.3M2392.1 994.8h37.3M2410.7 976.1v37.3M2395.7 1006.5h37.3M2414.4 987.9v37.3M2399.4 1005.1h37.3M2418 986.5v37.3M2403 996.5h37.3M2421.7 977.8v37.3M2406.6 1013.5h37.3M2425.3 994.9v37.3M2410.3 982.9h37.3M2428.9 964.2v37.3M2413.9 994.4h37.3M2432.6 975.8v37.3M2417.6 1005.6h37.3M2436.2 986.9v37.3M2421.2 1009.2h37.3M2439.9 990.5v37.3M2424.8 1016.6h37.3M2443.5 998v37.3M2428.5 1019.6h37.3M2447.1 1001v37.3M2432.1 1039.3h37.3M2450.8 1020.7v37.3M2435.8 1047.3h37.3M2454.4 1028.6v37.3M2439.4 1031.8h37.3M2458.1 1013.2v37.3M2443 1058.5h37.3M2461.7 1039.9v37.3M2446.7 1039.5h37.3M2465.3 1020.8v37.3M2450.3 1031.4h37.3M2469 1012.7v37.3M2454 1030.4h37.3M2472.6 1011.8v37.3M2457.6 1028.5h37.3M2476.3 1009.9v37.3M2461.2 1033.4h37.3M2479.9 1014.7v37.3M2464.9 1035.3h37.3M2483.5 1016.7v37.3M2468.5 1053.6h37.3M2487.2 1035v37.3M2472.2 1033.1h37.3M2490.8 1014.4v37.3M2475.8 1042.4h37.3M2494.4 1023.8v37.3M2479.4 1016h37.3M2498.1 997.4v37.3M2483.1 1017.2h37.3M2501.7 998.5v37.3M2486.7 1013.9h37.3M2505.4 995.3v37.3M2490.4 1026.1h37.3M2509 1007.5v37.3M2494 1018.8h37.3M2512.6 1000.1v37.3M2497.6 1027.5h37.3M2516.3 1008.9v37.3M2501.3 994.9h37.3M2519.9 976.3v37.3M2504.9 1028.6h37.3M2523.6 1009.9v37.3M2508.6 1018.9h37.3M2527.2 1000.3v37.3M2512.2 1014.9h37.3M2530.8 996.3v37.3M2515.8 997.3h37.3M2534.5 978.6v37.3M2519.5 996.3h37.3M2538.1 977.7v37.3M2523.1 979.7h37.3M2541.8 961.1v37.3M2526.8 1004.1h37.3M2545.4 985.4v37.3M2530.4 1005.4h37.3M2549 986.7v37.3M2534 1009.4h37.3M2552.7 990.7v37.3M2537.7 1005.6h37.3M2556.3 986.9v37.3M2541.3 987.7h37.3M2560 969.1v37.3M2545 983.1h37.3M2563.6 964.5v37.3M2548.6 996.2h37.3M2567.2 977.6v37.3M2552.2 1000.6h37.3M2570.9 981.9v37.3M2555.9 1012h37.3M2574.5 993.4v37.3M2559.5 1013.2h37.3M2578.2 994.6v37.3M2563.2 996.4h37.3M2581.8 977.8v37.3M2566.8 1001.6h37.3M2585.4 982.9v37.3M2570.4 993.9h37.3M2589.1 975.2v37.3M2574.1 1018.7h37.3M2592.7 1000.1v37.3M2577.7 1042.1h37.3M2596.4 1023.5v37.3M2581.3 1005.7h37.3M2600 987.1v37.3M2585 1017.2h37.3M2603.6 998.6v37.3M2588.6 1031.9h37.3M2607.3 1013.3v37.3M2592.3 1013.7h37.3M2610.9 995.1v37.3M2595.9 1036h37.3M2614.6 1017.3v37.3M2599.5 1043.1h37.3M2618.2 1024.5v37.3M2603.2 1040.3h37.3M2621.8 1021.7v37.3M2606.8 1056.1h37.3M2625.5 1037.4v37.3M2610.5 1046.2h37.3M2629.1 1027.6v37.3M2614.1 1056.1h37.3M2632.8 1037.5v37.3M2617.7 1051h37.3M2636.4 1032.4v37.3M2621.4 1046.8h37.3M2640 1028.2v37.3M2625 1052.7h37.3M2643.7 1034.1v37.3M2628.7 1045.1h37.3M2647.3 1026.5v37.3M2632.3 1035.2h37.3M2651 1016.6v37.3M2635.9 1022.8h37.3M2654.6 1004.1v37.3M2639.6 1034.6h37.3M2658.2 1015.9v37.3M2643.2 1024.9h37.3M2661.9 1006.2v37.3M2646.9 1031.8h37.3M2665.5 1013.1v37.3M2650.5 1043h37.3M2669.2 1024.3v37.3M2654.1 1038.8h37.3M2672.8 1020.1v37.3M2657.8 1057.9h37.3M2676.4 1039.3v37.3M2661.4 1025.4h37.3M2680.1 1006.7v37.3M2665.1 1052h37.3M2683.7 1033.4v37.3M2668.7 1054h37.3M2687.3 1035.4v37.3M2672.3 1042.8h37.3M2691 1024.1v37.3M2676 1064.1h37.3M2694.6 1045.5v37.3M2679.6 1083.2h37.3M2698.3 1064.5v37.3M2683.3 1060.5h37.3M2701.9 1041.8v37.3M2686.9 1100.8h37.3M2705.5 1082.2v37.3M2690.5 1095.2h37.3M2709.2 1076.5v37.3M2694.2 1083.9h37.3M2712.8 1065.2v37.3M2697.8 1085.1h37.3M2716.5 1066.5v37.3M2701.5 1095.3h37.3M2720.1 1076.6v37.3M2705.1 1079.9h37.3M2723.7 1061.2v37.3M2708.7 1086.7h37.3M2727.4 1068v37.3M2712.4 1071.4h37.3M2731 1052.8v37.3M2716 1071h37.3M2734.7 1052.3v37.3M2719.7 1071.3h37.3M2738.3 1052.6v37.3M2723.3 1054.8h37.3M2741.9 1036.2v37.3M2726.9 1076.5h37.3M2745.6 1057.8v37.3M2730.6 1084.8h37.3M2749.2 1066.2v37.3M2734.2 1091.2h37.3M2752.9 1072.6v37.3M2737.9 1079.3h37.3M2756.5 1060.7v37.3M2741.5 1087.2h37.3M2760.1 1068.6v37.3M2745.1 1075.2h37.3M2763.8 1056.6v37.3M2748.8 1077.1h37.3M2767.4 1058.4v37.3M2752.4 1070.4h37.3M2771.1 1051.8v37.3M2756 1070.4h37.3M2774.7 1051.8v37.3M2759.7 1049.8h37.3M2778.3 1031.1v37.3M2763.3 1049.2h37.3M2782 1030.6v37.3M2767 1040.8h37.3M2785.6 1022.1v37.3M2770.6 1038.9h37.3M2789.3 1020.2v37.3M2774.2 1033.9h37.3M2792.9 1015.2v37.3M2777.9 1038.2h37.3M2796.5 1019.6v37.3M2781.5 1040.1h37.3M2800.2 1021.5v37.3M2785.2 1045.7h37.3M2803.8 1027.1v37.3M2788.8 1040.4h37.3M2807.5 1021.7v37.3M2792.4 1043.4h37.3M2811.1 1024.7v37.3M2796.1 1053.7h37.3M2814.7 1035.1v37.3M2799.7 1068.8h37.3M2818.4 1050.1v37.3M2803.4 1055.1h37.3M2822 1036.5v37.3M2807 1051.6h37.3M2825.7 1033v37.3M2810.6 1058.6h37.3M2829.3 1039.9v37.3M2814.3 1060.9h37.3M2832.9 1042.3v37.3M2817.9 1062.4h37.3M2836.6 1043.8v37.3M2821.6 1056.1h37.3M2840.2 1037.5v37.3M2825.2 1055.9h37.3M2843.9 1037.3v37.3M2828.8 1047.3h37.3M2847.5 1028.6v37.3M2832.5 1045.1h37.3M2851.1 1026.4v37.3M2836.1 1053.7h37.3M2854.8 1035.1v37.3M2839.8 1056.8h37.3M2858.4 1038.1v37.3M2843.4 1044.3h37.3M2862.1 1025.6v37.3M2847 1037.6h37.3M2865.7 1019v37.3M2850.7 1050.4h37.3M2869.3 1031.7v37.3M2854.3 1050.5h37.3M2873 1031.9v37.3M2858 1051h37.3M2876.6 1032.4v37.3M2861.6 1062.6h37.3M2880.2 1044v37.3M2865.2 1062.7h37.3M2883.9 1044v37.3M2868.9 1055.9h37.3M2887.5 1037.3v37.3M2872.5 1047.2h37.3M2891.2 1028.5v37.3M2876.2 1059.9h37.3M2894.8 1041.2v37.3M2879.8 1055.6h37.3M2898.4 1037v37.3M2883.4 1055.7h37.3M2902.1 1037.1v37.3M2887.1 1061.2h37.3M2905.7 1042.5v37.3M2890.7 1054.9h37.3M2909.4 1036.2v37.3M2894.4 1052.1h37.3M2913 1033.5v37.3M2898 1051.6h37.3M2916.6 1033v37.3M2901.6 1042.6h37.3M2920.3 1024v37.3M2905.3 1024.8h37.3M2923.9 1006.1v37.3M2908.9 1028.8h37.3M2927.6 1010.1v37.3M2912.6 1027.1h37.3M2931.2 1008.4v37.3M2916.2 1023.2h37.3M2934.8 1004.5v37.3M2919.8 1026.5h37.3M2938.5 1007.9v37.3M2923.5 1030.4h37.3M2942.1 1011.7v37.3M2927.1 1025.5h37.3M2945.8 1006.8v37.3M2930.8 1017.6h37.3M2949.4 998.9v37.3M2934.4 1025.1h37.3M2953 1006.4v37.3M2938 1024.7h37.3M2956.7 1006.1v37.3M2941.7 1046.4h37.3M2960.3 1027.7v37.3M2945.3 1015.5h37.3M2964 996.9v37.3M2948.9 1040.4h37.3M2967.6 1021.7v37.3M2952.6 1034.6h37.3M2971.2 1016v37.3M2956.2 1039h37.3M2974.9 1020.3v37.3M2959.9 1036.4h37.3M2978.5 1017.7v37.3M2963.5 1033.3h37.3M2982.2 1014.7v37.3M2967.1 1038.9h37.3M2985.8 1020.3v37.3M2970.8 1023.6h37.3M2989.4 1005v37.3M2974.4 1033.2h37.3M2993.1 1014.5v37.3M2978.1 1039.5h37.3M2996.7 1020.8v37.3M2981.7 1037.5h37.3M3000.4 1018.9v37.3M2985.3 1032.8h37.3M3004 1014.2v37.3M2989 1044.1h37.3M3007.6 1025.4v37.3M2992.6 1041.4h37.3M3011.3 1022.7v37.3M2996.3 1038.5h37.3M3014.9 1019.9v37.3M2999.9 1041.2h37.3M3018.6 1022.5v37.3M3003.5 1041h37.3M3022.2 1022.3v37.3M3007.2 1040.9h37.3M3025.8 1022.2v37.3M3010.8 1045.2h37.3M3029.5 1026.5v37.3M3014.5 1056.9h37.3M3033.1 1038.2v37.3M3018.1 1058.9h37.3M3036.8 1040.2v37.3M3021.7 1059.4h37.3M3040.4 1040.8v37.3M3025.4 1057.1h37.3M3044 1038.4v37.3M3029 1056.4h37.3M3047.7 1037.7v37.3M3032.7 1055.4h37.3M3051.3 1036.7v37.3M3036.3 1068.9h37.3M3054.9 1050.2v37.3M3039.9 1071.2h37.3M3058.6 1052.6v37.3M3043.6 1038.8h37.3M3062.2 1020.1v37.3M3047.2 1075.3h37.3M3065.9 1056.6v37.3M3050.9 1080.9h37.3M3069.5 1062.3v37.3M3054.5 1080.5h37.3M3073.1 1061.9v37.3M3058.1 1080.1h37.3M3076.8 1061.5v37.3M3061.8 1083.9h37.3M3080.4 1065.2v37.3M3065.4 1076.9h37.3M3084.1 1058.2v37.3M3069.1 1069.8h37.3M3087.7 1051.1v37.3M3072.7 1070.1h37.3M3091.3 1051.5v37.3M3076.3 1069h37.3M3095 1050.3v37.3M3080 1066.2h37.3M3098.6 1047.6v37.3M3083.6 1065h37.3M3102.3 1046.4v37.3M3087.3 1053.8h37.3M3105.9 1035.1v37.3M3090.9 1065.8h37.3M3109.5 1047.1v37.3M3094.5 1053.8h37.3M3113.2 1035.1v37.3M3098.2 1055.8h37.3M3116.8 1037.2v37.3M3101.8 1051h37.3M3120.5 1032.4v37.3M3105.5 1055.9h37.3M3124.1 1037.3v37.3M3109.1 1058.8h37.3M3127.7 1040.2v37.3M3112.7 1059.7h37.3M3131.4 1041v37.3M3116.4 1065h37.3M3135 1046.4v37.3M3120 1059.1h37.3M3138.7 1040.5v37.3M3123.6 1063.1h37.3M3142.3 1044.5v37.3M3127.3 1072.9h37.3M3145.9 1054.3v37.3M3130.9 1079.2h37.3M3149.6 1060.6v37.3M3134.6 1082h37.3M3153.2 1063.3v37.3M3138.2 1087.3h37.3M3156.9 1068.6v37.3M3141.8 1100.1h37.3M3160.5 1081.5v37.3M3145.5 1090.6h37.3M3164.1 1072v37.3M3149.1 1104.3h37.3M3167.8 1085.6v37.3M3152.8 1096.2h37.3M3171.4 1077.5v37.3M3156.4 1102.5h37.3M3175.1 1083.9v37.3M3160 1093.8h37.3M3178.7 1075.1v37.3M3163.7 1104.9h37.3M3182.3 1086.2v37.3M3167.3 1102.2h37.3M3186 1083.5v37.3M3171 1105h37.3M3189.6 1086.3v37.3M3174.6 1104.5h37.3M3193.3 1085.9v37.3M3258.3 1045.9h37.3M3277 1027.2v37.3M3262 1031h37.3M3280.6 1012.4v37.3M3265.6 1037h37.3M3284.2 1018.3v37.3M3269.2 1041.2h37.3M3287.9 1022.6v37.3M3272.9 1028.5h37.3M3291.5 1009.8v37.3M3276.5 1026.2h37.3M3295.2 1007.6v37.3M3280.2 1016.9h37.3M3298.8 998.3v37.3M3283.8 1026.3h37.3M3302.4 1007.6v37.3M3287.4 1020.8h37.3M3306.1 1002.1v37.3M3291.1 1018.6h37.3M3309.7 1000v37.3M3294.7 1007.5h37.3M3313.4 988.9v37.3M3298.4 1006h37.3M3317 987.4v37.3M3302 1006.3h37.3M3320.6 987.6v37.3M3305.6 1001.1h37.3M3324.3 982.5v37.3M3309.3 1004.1h37.3M3327.9 985.5v37.3M3312.9 992.2h37.3M3331.6 973.5v37.3M3316.5 996h37.3M3335.2 977.3v37.3M3320.2 1004.9h37.3M3338.8 986.2v37.3M3323.8 997.9h37.3M3342.5 979.3v37.3M3327.5 988.4h37.3M3346.1 969.8v37.3M3331.1 989.7h37.3M3349.8 971.1v37.3M3334.7 991.5h37.3M3353.4 972.9v37.3M3338.4 985.9h37.3M3357 967.2v37.3M3342 993.7h37.3M3360.7 975.1v37.3M3345.7 987.2h37.3M3364.3 968.5v37.3M3349.3 1013.2h37.3M3368 994.6v37.3M3352.9 993.8h37.3M3371.6 975.1v37.3M3356.6 995h37.3M3375.2 976.4v37.3M3360.2 1003.1h37.3M3378.9 984.5v37.3M3363.9 1005h37.3M3382.5 986.4v37.3M3367.5 999h37.3M3386.2 980.4v37.3M3371.1 984.7h37.3M3389.8 966.1v37.3M3374.8 1018.1h37.3M3393.4 999.4v37.3M3378.4 1011.5h37.3M3397.1 992.8v37.3M3382.1 1020.4h37.3M3400.7 1001.8v37.3M3385.7 1025.7h37.3M3404.4 1007.1v37.3M3389.3 1030.6h37.3M3408 1012v37.3M3393 1009.7h37.3M3411.6 991v37.3M3396.6 1019.5h37.3M3415.3 1000.9v37.3M3400.3 1022.9h37.3M3418.9 1004.3v37.3M3403.9 1016h37.3M3422.5 997.4v37.3M3407.5 1018h37.3M3426.2 999.3v37.3M3411.2 1014.2h37.3M3429.8 995.6v37.3M3414.8 1025.2h37.3M3433.5 1006.5v37.3M3418.5 1016.9h37.3M3437.1 998.2v37.3M3422.1 1029.2h37.3M3440.7 1010.6v37.3M3425.7 1025.9h37.3M3444.4 1007.2v37.3M3429.4 1035.6h37.3M3448 1017v37.3M3433 1036.8h37.3M3451.7 1018.1v37.3M3436.7 1030.1h37.3M3455.3 1011.5v37.3M3440.3 1023.5h37.3M3458.9 1004.8v37.3M3443.9 1024.3h37.3M3462.6 1005.7v37.3M3447.6 1026h37.3M3466.2 1007.4v37.3M3451.2 1025.5h37.3M3469.9 1006.8v37.3M3454.9 1026.1h37.3M3473.5 1007.5v37.3M3458.5 1024.9h37.3M3477.1 1006.2v37.3M3462.1 1019.6h37.3M3480.8 1001v37.3M3465.8 991.9h37.3M3484.4 973.3v37.3M3469.4 1016.2h37.3M3488.1 997.5v37.3M3473.1 1025h37.3M3491.7 1006.4v37.3M3476.7 1018h37.3M3495.3 999.4v37.3M3480.3 1011.1h37.3M3499 992.5v37.3M3484 1008.2h37.3M3502.6 989.6v37.3M3487.6 1007.4h37.3M3506.3 988.8v37.3M3491.3 1003.2h37.3M3509.9 984.6v37.3M3494.9 1002.1h37.3M3513.5 983.5v37.3M3498.5 1014h37.3M3517.2 995.3v37.3M3502.2 1018.2h37.3M3520.8 999.5v37.3M3505.8 1015.2h37.3M3524.5 996.5v37.3M3509.4 989.6h37.3M3528.1 970.9v37.3M3513.1 1023.2h37.3M3531.7 1004.6v37.3M3516.7 1025.7h37.3M3535.4 1007.1v37.3M3524 956.6h37.3M3542.7 937.9v37.3M3527.6 953.8h37.3M3546.3 935.2v37.3M3531.3 938.7h37.3M3549.9 920v37.3M3534.9 944.7h37.3M3553.6 926v37.3M3538.6 942.9h37.3M3557.2 924.2v37.3M3542.2 953.4h37.3M3560.9 934.8v37.3M3545.8 950.6h37.3M3564.5 932v37.3M3549.5 949.5h37.3M3568.1 930.8v37.3M3553.1 953.9h37.3M3571.8 935.2v37.3M3556.8 952.1h37.3M3575.4 933.5v37.3M3560.4 938.6h37.3M3579.1 919.9v37.3M3564 954.7h37.3M3582.7 936v37.3M3567.7 943.3h37.3M3586.3 924.6v37.3M3571.3 935.3h37.3M3590 916.6v37.3M3575 934.5h37.3M3593.6 915.9v37.3M3578.6 919.7h37.3M3597.3 901v37.3M3582.2 936.5h37.3M3600.9 917.8v37.3M3585.9 938.5h37.3M3604.5 919.9v37.3M3589.5 928.7h37.3M3608.2 910.1v37.3M3593.2 938.2h37.3M3611.8 919.5v37.3M3596.8 934.6h37.3M3615.4 916v37.3M3600.4 933.3h37.3M3619.1 914.6v37.3M3604.1 928.1h37.3M3622.7 909.4v37.3M3607.7 938.3h37.3M3626.4 919.6v37.3M3611.4 945.8h37.3M3630 927.1v37.3M3615 940.4h37.3M3633.6 921.7v37.3M3618.6 952.1h37.3M3637.3 933.5v37.3M3622.3 950.2h37.3M3640.9 931.5v37.3M3625.9 954.2h37.3M3644.6 935.5v37.3M3629.6 964.9h37.3M3648.2 946.2v37.3M3633.2 952.1h37.3M3651.8 933.5v37.3M3636.8 1079.4h37.3M3655.5 1060.8v37.3M3640.5 1088.1h37.3M3659.1 1069.4v37.3M3644.1 1073h37.3M3662.8 1054.3v37.3M3647.8 1073.8h37.3M3666.4 1055.2v37.3M3651.4 1078.1h37.3M3670 1059.5v37.3M3655 1070.5h37.3M3673.7 1051.8v37.3M3658.7 1075.9h37.3M3677.3 1057.3v37.3M3662.3 1081.5h37.3M3681 1062.8v37.3M3666 1076.7h37.3M3684.6 1058.1v37.3M3669.6 1085.4h37.3M3688.2 1066.8v37.3M3673.2 1084.1h37.3M3691.9 1065.5v37.3M3676.9 1083.8h37.3M3695.5 1065.2v37.3M3680.5 1090.9h37.3M3699.2 1072.2v37.3M3684.1 1087.6h37.3M3702.8 1069v37.3M3687.8 1093h37.3M3706.4 1074.4v37.3M3691.4 1091.3h37.3M3710.1 1072.6v37.3M3695.1 1095.9h37.3M3713.7 1077.3v37.3M3698.7 1095.8h37.3M3717.4 1077.2v37.3M3702.3 1080.3h37.3M3721 1061.7v37.3M3706 1084.7h37.3M3724.6 1066v37.3M3709.6 1092.1h37.3M3728.3 1073.5v37.3M3713.3 1096.6h37.3M3731.9 1077.9v37.3M3716.9 1075.1h37.3M3735.6 1056.5v37.3M3720.5 1073.6h37.3M3739.2 1055v37.3M3724.2 1072.4h37.3M3742.8 1053.8v37.3M3727.8 1078.8h37.3M3746.5 1060.1v37.3M3731.5 1073.3h37.3M3750.1 1054.7v37.3M3735.1 1061.4h37.3M3753.8 1042.7v37.3M3738.7 1051.5h37.3M3757.4 1032.8v37.3M3742.4 1065.5h37.3M3761 1046.9v37.3M3746 1047.9h37.3M3764.7 1029.2v37.3M3749.7 1040.4h37.3M3768.3 1021.7v37.3M3753.3 1032.2h37.3M3772 1013.5v37.3M3756.9 1025.2h37.3M3775.6 1006.5v37.3M3760.6 1008.3h37.3M3779.2 989.7v37.3M3764.2 1033.3h37.3M3782.9 1014.6v37.3M3767.9 1027.2h37.3M3786.5 1008.6v37.3M3771.5 1036.9h37.3M3790.1 1018.2v37.3M3775.1 1029.9h37.3M3793.8 1011.2v37.3M3778.8 1038.7h37.3M3797.4 1020v37.3M3782.4 1037.5h37.3M3801.1 1018.9v37.3M3786.1 1035.6h37.3M3804.7 1016.9v37.3M3789.7 1037.2h37.3M3808.3 1018.6v37.3M3793.3 1047h37.3M3812 1028.4v37.3M3797 1044.8h37.3M3815.6 1026.1v37.3M3800.6 1043.9h37.3M3819.3 1025.3v37.3M3804.3 1040.1h37.3M3822.9 1021.4v37.3M3807.9 1047.9h37.3M3826.5 1029.2v37.3M3811.5 1043h37.3M3830.2 1024.4v37.3M3815.2 1049.2h37.3M3833.8 1030.6v37.3M3818.8 1053.3h37.3M3837.5 1034.7v37.3M3822.5 1054h37.3M3841.1 1035.4v37.3M3826.1 1066.2h37.3M3844.7 1047.5v37.3M3829.7 1049.8h37.3M3848.4 1031.1v37.3M3833.4 1061.3h37.3M3852 1042.6v37.3M3837 1075.3h37.3M3855.7 1056.6v37.3M3840.7 1059.7h37.3M3859.3 1041v37.3M3844.3 1072.1h37.3M3862.9 1053.5v37.3M3847.9 1070.9h37.3M3866.6 1052.2v37.3M3851.6 1062h37.3M3870.2 1043.4v37.3M3855.2 1068.3h37.3M3873.9 1049.7v37.3M3858.9 1068.7h37.3M3877.5 1050.1v37.3M3862.5 1039h37.3M3881.1 1020.3v37.3M3866.1 1058.3h37.3M3884.8 1039.6v37.3M3869.8 1056.4h37.3M3888.4 1037.8v37.3M3873.4 1048.9h37.3M3892.1 1030.2v37.3M3877 1064.2h37.3M3895.7 1045.5v37.3M3880.7 1069.8h37.3M3899.3 1051.2v37.3M3884.3 1067.7h37.3M3903 1049v37.3M3888 1072.4h37.3M3906.6 1053.7v37.3M3891.6 1083.6h37.3M3910.3 1064.9v37.3M3895.2 1079h37.3M3913.9 1060.3v37.3M3898.9 1075.6h37.3M3917.5 1056.9v37.3M3902.5 1067.7h37.3M3921.2 1049v37.3M3906.2 1071h37.3M3924.8 1052.3v37.3M3909.8 1086.2h37.3M3928.5 1067.6v37.3M3913.4 1062.5h37.3M3932.1 1043.8v37.3M3917.1 1088.3h37.3M3935.7 1069.6v37.3M3920.7 1102.7h37.3M3939.4 1084v37.3M3924.4 1082.6h37.3M3943 1063.9v37.3M3928 1103h37.3M3946.7 1084.4v37.3M3931.6 1096.7h37.3M3950.3 1078v37.3M3935.3 1100.3h37.3M3953.9 1081.6v37.3M3938.9 1105.2h37.3M3957.6 1086.6v37.3M3942.6 1107.6h37.3M3961.2 1089v37.3M3946.2 1105.1h37.3M3964.9 1086.4v37.3M3949.8 1100.5h37.3M3968.5 1081.9v37.3M3953.5 1097.4h37.3M3972.1 1078.8v37.3M3957.1 1085.7h37.3M3975.8 1067.1v37.3M3960.8 1086.2h37.3M3979.4 1067.5v37.3M3964.4 1081.9h37.3M3983 1063.2v37.3M3968 1085.3h37.3M3986.7 1066.7v37.3M3971.7 1059.5h37.3M3990.3 1040.9v37.3M3975.3 1063.3h37.3M3994 1044.7v37.3M3979 1053.6h37.3M3997.6 1034.9v37.3M3982.6 1053.9h37.3M4001.2 1035.2v37.3M3986.2 1051.3h37.3M4004.9 1032.7v37.3M3989.9 1040.6h37.3M4008.5 1022v37.3M3993.5 1043.6h37.3M4012.2 1024.9v37.3M3997.2 1040.9h37.3M4015.8 1022.2v37.3M4000.8 1047.5h37.3M4019.4 1028.8v37.3M4004.4 1029.4h37.3M4023.1 1010.7v37.3M4008.1 1030.2h37.3M4026.7 1011.6v37.3M4011.7 1014.4h37.3M4030.4 995.7v37.3M4015.4 1033.7h37.3M4034 1015v37.3M4019 1025.4h37.3M4037.6 1006.7v37.3M4022.6 1028.5h37.3M4041.3 1009.9v37.3M4026.3 1035.7h37.3M4044.9 1017.1v37.3M4029.9 1030.2h37.3M4048.6 1011.5v37.3M4033.6 1024.8h37.3M4052.2 1006.2v37.3M4037.2 1020.7h37.3M4055.8 1002v37.3M4040.8 1019.4h37.3M4059.5 1000.7v37.3M4044.5 1023.8h37.3M4063.1 1005.1v37.3M4048.1 1022.9h37.3M4066.8 1004.3v37.3M4051.7 1042h37.3M4070.4 1023.3v37.3M4055.4 1019.5h37.3M4074 1000.8v37.3M4059 1016.5h37.3M4077.7 997.8v37.3M4062.7 1030.3h37.3M4081.3 1011.6v37.3M4066.3 1000.6h37.3M4085 982v37.3M4069.9 1017.4h37.3M4088.6 998.7v37.3M4073.6 1009.5h37.3M4092.2 990.9v37.3M4077.2 1012.9h37.3M4095.9 994.3v37.3M4080.9 1011h37.3M4099.5 992.4v37.3M4084.5 1018.4h37.3M4103.2 999.7v37.3M4088.1 998.6h37.3M4106.8 979.9v37.3M4091.8 1028h37.3M4110.4 1009.3v37.3M4095.4 1019.2h37.3M4114.1 1000.5v37.3M4099.1 1026.4h37.3M4117.7 1007.7v37.3M4102.7 1009h37.3M4121.4 990.4v37.3M4106.3 1020.8h37.3M4125 1002.1v37.3M4110 1031.7h37.3M4128.6 1013.1v37.3M4113.6 1028.3h37.3M4132.3 1009.7v37.3M4117.3 1037.2h37.3M4135.9 1018.6v37.3M4120.9 1037.6h37.3M4139.6 1018.9v37.3M4124.5 1042.8h37.3M4143.2 1024.2v37.3M4128.2 1033.4h37.3M4146.8 1014.8v37.3M4131.8 1050.3h37.3M4150.5 1031.6v37.3M4135.5 1048h37.3M4154.1 1029.4v37.3M4139.1 1045.8h37.3M4157.8 1027.2v37.3M4142.7 1041.9h37.3M4161.4 1023.2v37.3M4146.4 1054.3h37.3M4165 1035.6v37.3M4150 1059.8h37.3M4168.7 1041.2v37.3M4153.7 1065.3h37.3M4172.3 1046.6v37.3M4157.3 1064.4h37.3M4175.9 1045.8v37.3M4160.9 1056.5h37.3M4179.6 1037.8v37.3M4164.6 1058.8h37.3M4183.2 1040.2v37.3M4168.2 1061.8h37.3M4186.9 1043.2v37.3M4171.9 1063.3h37.3M4190.5 1044.6v37.3M4175.5 1069.7h37.3M4194.1 1051v37.3M4179.1 1042.8h37.3M4197.8 1024.1v37.3M4182.8 1044.3h37.3M4201.4 1025.7v37.3M4186.4 1035h37.3M4205.1 1016.3v37.3M4190.1 1028.4h37.3M4208.7 1009.7v37.3M4193.7 1022.9h37.3M4212.3 1004.3v37.3M4197.3 1012.1h37.3M4216 993.4v37.3M4201 1016.7h37.3M4219.6 998.1v37.3M4204.6 1003.1h37.3M4223.3 984.4v37.3M4208.3 1020.4h37.3M4226.9 1001.7v37.3M4211.9 995.1h37.3M4230.5 976.4v37.3M4215.5 1004h37.3M4234.2 985.4v37.3M4219.2 1000.8h37.3M4237.8 982.2v37.3M4222.8 1003h37.3M4241.5 984.4v37.3M4226.5 1002.6h37.3M4245.1 983.9v37.3M4230.1 998.4h37.3M4248.7 979.8v37.3M4233.7 1002.6h37.3M4252.4 984v37.3M4237.4 996.3h37.3M4256 977.6v37.3M4241 1002.1h37.3M4259.7 983.4v37.3M4244.6 996.9h37.3M4263.3 978.2v37.3M4248.3 1000.1h37.3M4266.9 981.4v37.3M4251.9 1002.4h37.3M4270.6 983.8v37.3M4255.6 999.1h37.3M4274.2 980.4v37.3M4259.2 996.3h37.3M4277.9 977.7v37.3M4262.8 982.5h37.3M4281.5 963.8v37.3M4266.5 985.6h37.3M4285.1 966.9v37.3M4270.1 1006.9h37.3M4288.8 988.3v37.3M4273.8 996.6h37.3M4292.4 978v37.3M4277.4 1009.8h37.3M4296.1 991.1v37.3M4281 995.5h37.3M4299.7 976.9v37.3M4284.7 991.7h37.3M4303.3 973.1v37.3M4288.3 997.6h37.3M4307 978.9v37.3M4292 993.6h37.3M4310.6 974.9v37.3M4295.6 1000.2h37.3M4314.3 981.6v37.3M4299.2 994.9h37.3M4317.9 976.3v37.3M4302.9 1009.8h37.3M4321.5 991.1v37.3M4306.5 991.9h37.3M4325.2 973.3v37.3M4310.2 1007.2h37.3M4328.8 988.5v37.3M4313.8 1010.5h37.3M4332.5 991.9v37.3M4317.4 1002.4h37.3M4336.1 983.8v37.3M4321.1 998.6h37.3M4339.7 980v37.3M943.4 933h37.3M962 914.4v37.3M739.4 1106.5h37.3M758 1087.8v37.3M1320 1173.4h37.3M1338.7 1154.8v37.3M1404.3 967h37.3M1423 948.4v37.3M1419.3 994h37.3M1438 975.4v37.3M1381 1051.8h37.3M1399.7 1033.1v37.3M1563.9 1028h37.3M1582.6 1009.4v37.3M1865.3 988.7h37.3M1884 970.1v37.3M1778.2 1111.7h37.3M1796.9 1093v37.3M1119.3 1019h37.3M1138 1000.4v37.3M1912 1108.9h37.3M1930.7 1090.2v37.3M1932.6 1066.4h37.3M1951.3 1047.8v37.3M2117.7 992.9h37.3M2136.3 974.2v37.3M2108.5 1082.8h37.3M2127.2 1064.1v37.3M2109.3 1056h37.3M2128 1037.3v37.3M2423.2 1071.3h37.3M2441.9 1052.6v37.3M2420.8 1098.8h37.3M2439.4 1080.1v37.3M2522.3 981h37.3M2541 962.4v37.3M2381.3 1000h37.3M2400 981.4v37.3M2416.3 996.7h37.3M2435 978.1v37.3M2478.9 1054h37.3M2497.6 1035.3v37.3M3369.3 1100.2h37.3M3388 1081.5v37.3M3373.3 1101h37.3M3392 1082.3v37.3M3377.3 1100.2h37.3M3396 1081.5v37.3M3310.3 976.9h37.3M3329 958.2v37.3M3746.3 1004.4h37.3M3765 985.8v37.3M3735 1126.7h37.3M3753.7 1108v37.3M3731.3 1137.8h37.3M3750 1119.1v37.3M3830.2 1086.6h37.3M3848.8 1067.9v37.3M4119.2 1133.4h37.3M4137.9 1114.8v37.3M4279.4 1285.4h37.3M4298 1266.8v37.3M4320.2 1041h37.3M4338.9 1022.4v37.3M4275.9 1026.4h37.3M4294.5 1007.8v37.3M4152.8 1014.3h37.3M4171.4 995.6v37.3M2517.3 1762h37.3M2536 1743.3v37.3"/>
<path class="m" stroke="#89f739" d="M343 2318.5l37.3 37.3M343 2355.8l37.3 -37.3M346.6 2318.5l37.3 37.3M346.6 2355.8l37.3 -37.3M350.3 2318.6l37.3 37.3M350.3 2355.9l37.3 -37.3M353.9 2316.3l37.3 37.3M353.9 2353.6l37.3 -37.3M357.5 2332l37.3 37.3M357.5 2369.3l37.3 -37.3M361.2 2330.5l37.3 37.3M361.2 2367.8l37.3 -37.3M364.8 2340.4l37.3 37.3M364.8 2377.7l37.3 -37.3M368.5 2336.9l37.3 37.3M368.5 2374.2l37.3 -37.3M372.1 2350.7l37.3 37.3M372.1 2388l37.3 -37.3M375.7 2361.2l37.3 37.3M375.7 2398.5l37.3 -37.3M379.4 2364.4l37.3 37.3M379.4 2401.7l37.3 -37.3M383 2361.9l37.3 37.3M383 2399.2l37.3 -37.3M386.7 2356.8l37.3 37.3M386.7 2394.1l37.3 -37.3M390.3 2357.6l37.3 37.3M390.3 2394.9l37.3 -37.3M393.9 2355.7l37.3 37.3M393.9 2393l37.3 -37.3M397.6 2354.4l37.3 37.3M397.6 2391.7l37.3 -37.3M401.2 2355.1l37.3 37.3M401.2 2392.4l37.3 -37.3M404.9 2362l37.3 37.3M404.9 2399.3l37.3 -37.3M408.5 2352.5l37.3 37.3M408.5 2389.8l37.3 -37.3M412.1 2357.3l37.3 37.3M412.1 2394.6l37.3 -37.3M415.8 2352.1l37.3 37.3M415.8 2389.4l37.3 -37.3M419.4 2358.8l37.3 37.3M419.4 2396.1l37.3 -37.3M423.1 2377l37.3 37.3M423.1 2414.3l37.3 -37.3M426.7 2384.6l37.3 37.3M426.7 2421.9l37.3 -37.3M430.3 2393.9l37.3 37.3M430.3 2431.2l37.3 -37.3M434 2393.6l37.3 37.3M434 2430.9l37.3 -37.3M437.6 2407.8l37.3 37.3M437.6 2445.1l37.3 -37.3M441.3 2419.6l37.3 37.3M441.3 2456.9l37.3 -37.3M444.9 2425.9l37.3 37.3M444.9 2463.2l37.3 -37.3M448.5 2429.1l37.3 37.3M448.5 2466.4l37.3 -37.3M452.2 2430.7l37.3 37.3M452.2 2468l37.3 -37.3M455.8 2422.2l37.3 37.3M455.8 2459.5l37.3 -37.3M459.5 2409.1l37.3 37.3M459.5 2446.4l37.3 -37.3M463.1 2403.5l37.3 37.3M463.1 2440.8l37.3 -37.3M466.7 2414.2l37.3 37.3M466.7 2451.5l37.3 -37.3M470.4 2401.5l37.3 37.3M470.4 2438.8l37.3 -37.3M474 2405.5l37.3 37.3M474 2442.8l37.3 -37.3M477.7 2404.4l37.3 37.3M477.7 2441.7l37.3 -37.3M481.3 2389.9l37.3 37.3M481.3 2427.2l37.3 -37.3M484.9 2396.6l37.3 37.3M484.9 2433.9l37.3 -37.3M488.6 2395l37.3 37.3M488.6 2432.3l37.3 -37.3M492.2 2390.5l37.3 37.3M492.2 2427.8l37.3 -37.3M495.9 2392.3l37.3 37.3M495.9 2429.6l37.3 -37.3M499.5 2385.7l37.3 37.3M499.5 2423l37.3 -37.3M503.1 2375.3l37.3 37.3M503.1 2412.6l37.3 -37.3M506.8 2385l37.3 37.3M506.8 2422.3l37.3 -37.3M510.4 2392.1l37.3 37.3M510.4 2429.4l37.3 -37.3M514.1 2386.6l37.3 37.3M514.1 2423.9l37.3 -37.3M517.7 2380.5l37.3 37.3M517.7 2417.8l37.3 -37.3M521.3 2392.3l37.3 37.3M521.3 2429.6l37.3 -37.3M525 2387l37.3 37.3M525 2424.3l37.3 -37.3M528.6 2384l37.3 37.3M528.6 2421.3l37.3 -37.3M532.2 2375.3l37.3 37.3M532.2 2412.6l37.3 -37.3M535.9 2379.7l37.3 37.3M535.9 2417l37.3 -37.3M539.5 2370.1l37.3 37.3M539.5 2407.4l37.3 -37.3M543.2 2382.7l37.3 37.3M543.2 2420l37.3 -37.3M546.8 2377.1l37.3 37.3M546.8 2414.4l37.3 -37.3M550.4 2373.7l37.3 37.3M550.4 2411l37.3 -37.3M554.1 2370.5l37.3 37.3M554.1 2407.8l37.3 -37.3M557.7 2362l37.3 37.3M557.7 2399.3l37.3 -37.3M561.4 2367.4l37.3 37.3M561.4 2404.7l37.3 -37.3M565 2353.9l37.3 37.3M565 2391.2l37.3 -37.3M568.6 2353l37.3 37.3M568.6 2390.3l37.3 -37.3M572.3 2354.5l37.3 37.3M572.3 2391.8l37.3 -37.3M575.9 2349.8l37.3 37.3M575.9 2387.1l37.3 -37.3M579.6 2348.8l37.3 37.3M579.6 2386.1l37.3 -37.3M583.2 2360.5l37.3 37.3M583.2 2397.8l37.3 -37.3M586.8 2353l37.3 37.3M586.8 2390.3l37.3 -37.3M590.5 2353.8l37.3 37.3M590.5 2391.1l37.3 -37.3M594.1 2354.9l37.3 37.3M594.1 2392.2l37.3 -37.3M597.8 2353.6l37.3 37.3M597.8 2390.9l37.3 -37.3M601.4 2358l37.3 37.3M601.4 2395.3l37.3 -37.3M605 2355.9l37.3 37.3M605 2393.2l37.3 -37.3M608.7 2348.9l37.3 37.3M608.7 2386.2l37.3 -37.3M612.3 2343.7l37.3 37.3M612.3 2381l37.3 -37.3M616 2351.2l37.3 37.3M616 2388.5l37.3 -37.3M619.6 2349.3l37.3 37.3M619.6 2386.6l37.3 -37.3M623.2 2349l37.3 37.3M623.2 2386.3l37.3 -37.3M626.9 2345.9l37.3 37.3M626.9 2383.2l37.3 -37.3M630.5 2340.8l37.3 37.3M630.5 2378.1l37.3 -37.3M634.2 2342.6l37.3 37.3M634.2 2379.9l37.3 -37.3M637.8 2335l37.3 37.3M637.8 2372.3l37.3 -37.3M641.4 2343.6l37.3 37.3M641.4 2380.9l37.3 -37.3M645.1 2336.2l37.3 37.3M645.1 2373.5l37.3 -37.3M648.7 2327.4l37.3 37.3M648.7 2364.7l37.3 -37.3M652.4 2331.4l37.3 37.3M652.4 2368.7l37.3 -37.3M656 2322l37.3 37.3M656 2359.3l37.3 -37.3M659.6 2332.5l37.3 37.3M659.6 2369.8l37.3 -37.3M663.3 2329.5l37.3 37.3M663.3 2366.8l37.3 -37.3M666.9 2327.7l37.3 37.3M666.9 2365l37.3 -37.3M670.6 2326.7l37.3 37.3M670.6 2364l37.3 -37.3M674.2 2317.3l37.3 37.3M674.2 2354.6l37.3 -37.3M677.8 2328.5l37.3 37.3M677.8 2365.8l37.3 -37.3M681.5 2327.9l37.3 37.3M681.5 2365.2l37.3 -37.3M685.1 2327.4l37.3 37.3M685.1 2364.7l37.3 -37.3M688.8 2307.5l37.3 37.3M688.8 2344.8l37.3 -37.3M692.4 2320.2l37.3 37.3M692.4 2357.5l37.3 -37.3M696 2314.3l37.3 37.3M696 2351.6l37.3 -37.3M699.7 2326.3l37.3 37.3M699.7 2363.6l37.3 -37.3M703.3 2322.7l37.3 37.3M703.3 2360l37.3 -37.3M707 2319.8l37.3 37.3M707 2357.1l37.3 -37.3M710.6 2323.1l37.3 37.3M710.6 2360.4l37.3 -37.3M714.2 2316.5l37.3 37.3M714.2 2353.8l37.3 -37.3M717.9 2314.1l37.3 37.3M717.9 2351.4l37.3 -37.3M721.5 2321.6l37.3 37.3M721.5 2358.9l37.3 -37.3M725.1 2326l37.3 37.3M725.1 2363.3l37.3 -37.3M728.8 2320.7l37.3 37.3M728.8 2358l37.3 -37.3M732.4 2333.3l37.3 37.3M732.4 2370.6l37.3 -37.3M736.1 2336.9l37.3 37.3M736.1 2374.2l37.3 -37.3M739.7 2324.3l37.3 37.3M739.7 2361.6l37.3 -37.3M743.3 2326.2l37.3 37.3M743.3 2363.5l37.3 -37.3M747 2323.9l37.3 37.3M747 2361.2l37.3 -37.3M750.6 2330l37.3 37.3M750.6 2367.3l37.3 -37.3M754.3 2326.3l37.3 37.3M754.3 2363.6l37.3 -37.3M757.9 2326.5l37.3 37.3M757.9 2363.8l37.3 -37.3M761.5 2327.6l37.3 37.3M761.5 2364.9l37.3 -37.3M765.2 2328.1l37.3 37.3M765.2 2365.4l37.3 -37.3M768.8 2334.5l37.3 37.3M768.8 2371.8l37.3 -37.3M772.5 2329.1l37.3 37.3M772.5 2366.4l37.3 -37.3M776.1 2324.8l37.3 37.3M776.1 2362.1l37.3 -37.3M779.7 2329.5l37.3 37.3M779.7 2366.8l37.3 -37.3M783.4 2327l37.3 37.3M783.4 2364.3l37.3 -37.3M787 2337.4l37.3 37.3M787 2374.7l37.3 -37.3M790.7 2330.2l37.3 37.3M790.7 2367.5l37.3 -37.3M794.3 2328.7l37.3 37.3M794.3 2366l37.3 -37.3M797.9 2320.7l37.3 37.3M797.9 2358l37.3 -37.3M801.6 2328.2l37.3 37.3M801.6 2365.5l37.3 -37.3M805.2 2324.4l37.3 37.3M805.2 2361.7l37.3 -37.3M808.9 2320.2l37.3 37.3M808.9 2357.5l37.3 -37.3M812.5 2307.6l37.3 37.3M812.5 2344.9l37.3 -37.3M816.1 2318l37.3 37.3M816.1 2355.3l37.3 -37.3M819.8 2295.7l37.3 37.3M819.8 2333l37.3 -37.3M823.4 2305.4l37.3 37.3M823.4 2342.7l37.3 -37.3M827.1 2305.3l37.3 37.3M827.1 2342.6l37.3 -37.3M830.7 2310.9l37.3 37.3M830.7 2348.2l37.3 -37.3M834.3 2310l37.3 37.3M834.3 2347.3l37.3 -37.3M838 2307.2l37.3 37.3M838 2344.5l37.3 -37.3M841.6 2311.5l37.3 37.3M841.6 2348.8l37.3 -37.3M845.3 2321.6l37.3 37.3M845.3 2358.9l37.3 -37.3M848.9 2315.5l37.3 37.3M848.9 2352.8l37.3 -37.3M852.5 2313.2l37.3 37.3M852.5 2350.5l37.3 -37.3M856.2 2306.4l37.3 37.3M856.2 2343.7l37.3 -37.3M859.8 2312.6l37.3 37.3M859.8 2349.9l37.3 -37.3M863.5 2313.3l37.3 37.3M863.5 2350.6l37.3 -37.3M867.1 2313.6l37.3 37.3M867.1 2350.9l37.3 -37.3M870.7 2321.8l37.3 37.3M870.7 2359.1l37.3 -37.3M874.4 2324l37.3 37.3M874.4 2361.3l37.3 -37.3M878 2318.1l37.3 37.3M878 2355.4l37.3 -37.3M881.7 2316.5l37.3 37.3M881.7 2353.8l37.3 -37.3M885.3 2309.2l37.3 37.3M885.3 2346.5l37.3 -37.3M888.9 2315l37.3 37.3M888.9 2352.3l37.3 -37.3M892.6 2313.7l37.3 37.3M892.6 2351l37.3 -37.3M896.2 2311.8l37.3 37.3M896.2 2349.1l37.3 -37.3M899.8 2321.8l37.3 37.3M899.8 2359.1l37.3 -37.3M903.5 2314.2l37.3 37.3M903.5 2351.5l37.3 -37.3M907.1 2334l37.3 37.3M907.1 2371.3l37.3 -37.3M910.8 2305.1l37.3 37.3M910.8 2342.4l37.3 -37.3M914.4 2287.7l37.3 37.3M914.4 2325l37.3 -37.3M918 2288.3l37.3 37.3M918 2325.6l37.3 -37.3M921.7 2277.2l37.3 37.3M921.7 2314.5l37.3 -37.3M925.3 2271.9l37.3 37.3M925.3 2309.2l37.3 -37.3M929 2263.5l37.3 37.3M929 2300.8l37.3 -37.3M932.6 2264.9l37.3 37.3M932.6 2302.2l37.3 -37.3M936.2 2250.9l37.3 37.3M936.2 2288.2l37.3 -37.3M939.9 2268.2l37.3 37.3M939.9 2305.5l37.3 -37.3M943.5 2275.5l37.3 37.3M943.5 2312.8l37.3 -37.3M947.2 2283.5l37.3 37.3M947.2 2320.8l37.3 -37.3M950.8 2287l37.3 37.3M950.8 2324.3l37.3 -37.3M954.4 2295l37.3 37.3M954.4 2332.3l37.3 -37.3M958.1 2292.9l37.3 37.3M958.1 2330.2l37.3 -37.3M961.7 2296.4l37.3 37.3M961.7 2333.7l37.3 -37.3M965.4 2306.2l37.3 37.3M965.4 2343.5l37.3 -37.3M969 2308.7l37.3 37.3M969 2346l37.3 -37.3M972.6 2314.7l37.3 37.3M972.6 2352l37.3 -37.3M976.3 2317.5l37.3 37.3M976.3 2354.8l37.3 -37.3M979.9 2326.5l37.3 37.3M979.9 2363.8l37.3 -37.3M983.6 2332.4l37.3 37.3M983.6 2369.7l37.3 -37.3M987.2 2338l37.3 37.3M987.2 2375.3l37.3 -37.3M990.8 2344l37.3 37.3M990.8 2381.3l37.3 -37.3M994.5 2344.7l37.3 37.3M994.5 2382l37.3 -37.3M998.1 2334l37.3 37.3M998.1 2371.3l37.3 -37.3M1001.8 2339l37.3 37.3M1001.8 2376.3l37.3 -37.3M1005.4 2332.8l37.3 37.3M1005.4 2370.1l37.3 -37.3M1009 2344.5l37.3 37.3M1009 2381.8l37.3 -37.3M1012.7 2339.2l37.3 37.3M1012.7 2376.5l37.3 -37.3M1016.3 2338.2l37.3 37.3M1016.3 2375.5l37.3 -37.3M1020 2345.1l37.3 37.3M1020 2382.4l37.3 -37.3M1023.6 2345.7l37.3 37.3M1023.6 2383l37.3 -37.3M1027.2 2340.7l37.3 37.3M1027.2 2378l37.3 -37.3M1030.9 2337.8l37.3 37.3M1030.9 2375.1l37.3 -37.3M1034.5 2338.1l37.3 37.3M1034.5 2375.4l37.3 -37.3M1038.2 2327l37.3 37.3M1038.2 2364.3l37.3 -37.3M1041.8 2335.9l37.3 37.3M1041.8 2373.2l37.3 -37.3M1045.4 2327.5l37.3 37.3M1045.4 2364.8l37.3 -37.3M1049.1 2327.4l37.3 37.3M1049.1 2364.7l37.3 -37.3M1052.7 2327.8l37.3 37.3M1052.7 2365.1l37.3 -37.3M1056.4 2335.4l37.3 37.3M1056.4 2372.7l37.3 -37.3M1060 2331.3l37.3 37.3M1060 2368.6l37.3 -37.3M1063.6 2326.3l37.3 37.3M1063.6 2363.6l37.3 -37.3M1067.3 2339.1l37.3 37.3M1067.3 2376.4l37.3 -37.3M1070.9 2336.6l37.3 37.3M1070.9 2373.9l37.3 -37.3M1074.6 2331.4l37.3 37.3M1074.6 2368.7l37.3 -37.3M1078.2 2315.6l37.3 37.3M1078.2 2352.9l37.3 -37.3M1081.8 2335.3l37.3 37.3M1081.8 2372.6l37.3 -37.3M1085.5 2323.5l37.3 37.3M1085.5 2360.8l37.3 -37.3M1089.1 2329.9l37.3 37.3M1089.1 2367.2l37.3 -37.3M1092.7 2329.7l37.3 37.3M1092.7 2367l37.3 -37.3M1096.4 2324.2l37.3 37.3M1096.4 2361.5l37.3 -37.3M1100 2325l37.3 37.3M1100 2362.3l37.3 -37.3M1103.7 2330.5l37.3 37.3M1103.7 2367.8l37.3 -37.3M1107.3 2332.6l37.3 37.3M1107.3 2369.9l37.3 -37.3M1110.9 2324.1l37.3 37.3M1110.9 2361.4l37.3 -37.3M1114.6 2320.7l37.3 37.3M1114.6 2358l37.3 -37.3M1118.2 2317.5l37.3 37.3M1118.2 2354.8l37.3 -37.3M1121.9 2325.5l37.3 37.3M1121.9 2362.8l37.3 -37.3M1125.5 2318.8l37.3 37.3M1125.5 2356.1l37.3 -37.3M1129.1 2320l37.3 37.3M1129.1 2357.3l37.3 -37.3M1132.8 2314l37.3 37.3M1132.8 2351.3l37.3 -37.3M1136.4 2323.1l37.3 37.3M1136.4 2360.4l37.3 -37.3M1140.1 2310.8l37.3 37.3M1140.1 2348.1l37.3 -37.3M1143.7 2314l37.3 37.3M1143.7 2351.3l37.3 -37.3M1147.3 2314.4l37.3 37.3M1147.3 2351.7l37.3 -37.3M1151 2318.6l37.3 37.3M1151 2355.9l37.3 -37.3M1154.6 2316.1l37.3 37.3M1154.6 2353.4l37.3 -37.3M1158.3 2308.5l37.3 37.3M1158.3 2345.8l37.3 -37.3M1161.9 2315.1l37.3 37.3M1161.9 2352.4l37.3 -37.3M1165.5 2315.2l37.3 37.3M1165.5 2352.5l37.3 -37.3M1169.2 2312.6l37.3 37.3M1169.2 2349.9l37.3 -37.3M1172.8 2323.3l37.3 37.3M1172.8 2360.6l37.3 -37.3M1176.5 2316.5l37.3 37.3M1176.5 2353.8l37.3 -37.3M1180.1 2338l37.3 37.3M1180.1 2375.3l37.3 -37.3M1183.7 2310.8l37.3 37.3M1183.7 2348.1l37.3 -37.3M1187.4 2317.6l37.3 37.3M1187.4 2354.9l37.3 -37.3M1191 2303.3l37.3 37.3M1191 2340.6l37.3 -37.3M1194.7 2309l37.3 37.3M1194.7 2346.3l37.3 -37.3M1198.3 2313.8l37.3 37.3M1198.3 2351.1l37.3 -37.3M1201.9 2299.9l37.3 37.3M1201.9 2337.2l37.3 -37.3M1205.6 2311.2l37.3 37.3M1205.6 2348.5l37.3 -37.3M1209.2 2307.9l37.3 37.3M1209.2 2345.2l37.3 -37.3M1212.9 2292.4l37.3 37.3M1212.9 2329.7l37.3 -37.3M1216.5 2302.8l37.3 37.3M1216.5 2340.1l37.3 -37.3M1220.1 2306.8l37.3 37.3M1220.1 2344.1l37.3 -37.3M1223.8 2301.6l37.3 37.3M1223.8 2338.9l37.3 -37.3M1227.4 2307.8l37.3 37.3M1227.4 2345.1l37.3 -37.3M1231.1 2302.8l37.3 37.3M1231.1 2340.1l37.3 -37.3M1234.7 2307.6l37.3 37.3M1234.7 2344.9l37.3 -37.3M1238.3 2299l37.3 37.3M1238.3 2336.3l37.3 -37.3M1242 2309.9l37.3 37.3M1242 2347.2l37.3 -37.3M1245.6 2315l37.3 37.3M1245.6 2352.3l37.3 -37.3M1249.3 2320.2l37.3 37.3M1249.3 2357.5l37.3 -37.3M1252.9 2312.9l37.3 37.3M1252.9 2350.2l37.3 -37.3M1256.5 2317.9l37.3 37.3M1256.5 2355.2l37.3 -37.3M1260.2 2320l37.3 37.3M1260.2 2357.3l37.3 -37.3M1263.8 2321l37.3 37.3M1263.8 2358.3l37.3 -37.3M1267.4 2309.1l37.3 37.3M1267.4 2346.4l37.3 -37.3M1271.1 2323.9l37.3 37.3M1271.1 2361.2l37.3 -37.3M1274.7 2302l37.3 37.3M1274.7 2339.3l37.3 -37.3M1278.4 2323.8l37.3 37.3M1278.4 2361.1l37.3 -37.3M1282 2321.7l37.3 37.3M1282 2359l37.3 -37.3M1285.6 2325l37.3 37.3M1285.6 2362.3l37.3 -37.3M1289.3 2318.8l37.3 37.3M1289.3 2356.1l37.3 -37.3M1292.9 2318.1l37.3 37.3M1292.9 2355.4l37.3 -37.3M1296.6 2317.2l37.3 37.3M1296.6 2354.5l37.3 -37.3M1300.2 2321.5l37.3 37.3M1300.2 2358.8l37.3 -37.3M1303.8 2318.5l37.3 37.3M1303.8 2355.8l37.3 -37.3M1307.5 2310.9l37.3 37.3M1307.5 2348.2l37.3 -37.3M1311.1 2308.4l37.3 37.3M1311.1 2345.7l37.3 -37.3M1314.8 2313.5l37.3 37.3M1314.8 2350.8l37.3 -37.3M1318.4 2313.4l37.3 37.3M1318.4 2350.7l37.3 -37.3M1322 2308.6l37.3 37.3M1322 2345.9l37.3 -37.3M1325.7 2306.6l37.3 37.3M1325.7 2343.9l37.3 -37.3M1329.3 2298.4l37.3 37.3M1329.3 2335.7l37.3 -37.3M1333 2299.5l37.3 37.3M1333 2336.8l37.3 -37.3M1336.6 2309.5l37.3 37.3M1336.6 2346.8l37.3 -37.3M1340.2 2311.8l37.3 37.3M1340.2 2349.1l37.3 -37.3M1343.9 2311.4l37.3 37.3M1343.9 2348.7l37.3 -37.3M1347.5 2313.6l37.3 37.3M1347.5 2350.9l37.3 -37.3M1351.2 2307.2l37.3 37.3M1351.2 2344.5l37.3 -37.3M1354.8 2322.6l37.3 37.3M1354.8 2359.9l37.3 -37.3M1358.4 2312.5l37.3 37.3M1358.4 2349.8l37.3 -37.3M1362.1 2320.8l37.3 37.3M1362.1 2358.1l37.3 -37.3M1365.7 2316.4l37.3 37.3M1365.7 2353.7l37.3 -37.3M1369.4 2320.4l37.3 37.3M1369.4 2357.7l37.3 -37.3M1373 2324.7l37.3 37.3M1373 2362l37.3 -37.3M1376.6 2318l37.3 37.3M1376.6 2355.3l37.3 -37.3M1380.3 2317.9l37.3 37.3M1380.3 2355.2l37.3 -37.3M1383.9 2318.8l37.3 37.3M1383.9 2356.1l37.3 -37.3M1387.6 2327.4l37.3 37.3M1387.6 2364.7l37.3 -37.3M1391.2 2322.8l37.3 37.3M1391.2 2360.1l37.3 -37.3M1394.8 2322.6l37.3 37.3M1394.8 2359.9l37.3 -37.3M1398.5 2321.6l37.3 37.3M1398.5 2358.9l37.3 -37.3M1402.1 2328.7l37.3 37.3M1402.1 2366l37.3 -37.3M1405.8 2314.6l37.3 37.3M1405.8 2351.9l37.3 -37.3M1409.4 2311.8l37.3 37.3M1409.4 2349.1l37.3 -37.3M1413 2316.5l37.3 37.3M1413 2353.8l37.3 -37.3M1416.7 2321l37.3 37.3M1416.7 2358.3l37.3 -37.3M1420.3 2311.7l37.3 37.3M1420.3 2349l37.3 -37.3M1424 2308.6l37.3 37.3M1424 2345.9l37.3 -37.3M1427.6 2314.9l37.3 37.3M1427.6 2352.2l37.3 -37.3M1431.2 2310.7l37.3 37.3M1431.2 2348l37.3 -37.3M1434.9 2311.5l37.3 37.3M1434.9 2348.8l37.3 -37.3M1438.5 2304.6l37.3 37.3M1438.5 2341.9l37.3 -37.3M1442.2 2290.4l37.3 37.3M1442.2 2327.7l37.3 -37.3M1445.8 2308.3l37.3 37.3M1445.8 2345.6l37.3 -37.3M1449.4 2301.2l37.3 37.3M1449.4 2338.5l37.3 -37.3M1453.1 2299.5l37.3 37.3M1453.1 2336.8l37.3 -37.3M1456.7 2309.4l37.3 37.3M1456.7 2346.7l37.3 -37.3M1460.3 2307.5l37.3 37.3M1460.3 2344.8l37.3 -37.3M1464 2308.2l37.3 37.3M1464 2345.5l37.3 -37.3M1467.6 2292.7l37.3 37.3M1467.6 2330l37.3 -37.3M1471.3 2279.3l37.3 37.3M1471.3 2316.6l37.3 -37.3M1474.9 2275.8l37.3 37.3M1474.9 2313.1l37.3 -37.3M1478.5 2265.6l37.3 37.3M1478.5 2302.9l37.3 -37.3M1482.2 2256.6l37.3 37.3M1482.2 2293.9l37.3 -37.3M1485.8 2253.8l37.3 37.3M1485.8 2291.1l37.3 -37.3M1489.5 2254.4l37.3 37.3M1489.5 2291.7l37.3 -37.3M1493.1 2246.3l37.3 37.3M1493.1 2283.6l37.3 -37.3M1496.7 2247.2l37.3 37.3M1496.7 2284.5l37.3 -37.3M1500.4 2241.8l37.3 37.3M1500.4 2279.1l37.3 -37.3M1504 2241l37.3 37.3M1504 2278.3l37.3 -37.3M1507.7 2233.2l37.3 37.3M1507.7 2270.5l37.3 -37.3M1511.3 2245.5l37.3 37.3M1511.3 2282.8l37.3 -37.3M1514.9 2235.9l37.3 37.3M1514.9 2273.2l37.3 -37.3M1518.6 2245.4l37.3 37.3M1518.6 2282.7l37.3 -37.3M1522.2 2240.6l37.3 37.3M1522.2 2277.9l37.3 -37.3M1525.9 2240.6l37.3 37.3M1525.9 2277.9l37.3 -37.3M1529.5 2247.6l37.3 37.3M1529.5 2284.9l37.3 -37.3M1533.1 2247.5l37.3 37.3M1533.1 2284.8l37.3 -37.3M1536.8 2246l37.3 37.3M1536.8 2283.3l37.3 -37.3M1540.4 2250.2l37.3 37.3M1540.4 2287.5l37.3 -37.3M1544.1 2260.8l37.3 37.3M1544.1 2298.1l37.3 -37.3M1547.7 2266.3l37.3 37.3M1547.7 2303.6l37.3 -37.3M1551.3 2280.1l37.3 37.3M1551.3 2317.4l37.3 -37.3M1555 2269.5l37.3 37.3M1555 2306.8l37.3 -37.3M1558.6 2273.5l37.3 37.3M1558.6 2310.8l37.3 -37.3M1562.3 2269.4l37.3 37.3M1562.3 2306.7l37.3 -37.3M1565.9 2282.5l37.3 37.3M1565.9 2319.8l37.3 -37.3M1569.5 2283l37.3 37.3M1569.5 2320.3l37.3 -37.3M1573.2 2280.3l37.3 37.3M1573.2 2317.6l37.3 -37.3M1576.8 2263.6l37.3 37.3M1576.8 2300.9l37.3 -37.3M1580.5 2249.5l37.3 37.3M1580.5 2286.8l37.3 -37.3M1584.1 2249.3l37.3 37.3M1584.1 2286.6l37.3 -37.3M1587.7 2243.7l37.3 37.3M1587.7 2281l37.3 -37.3M1591.4 2243.6l37.3 37.3M1591.4 2280.9l37.3 -37.3M1595 2241.5l37.3 37.3M1595 2278.8l37.3 -37.3M1598.7 2233.2l37.3 37.3M1598.7 2270.5l37.3 -37.3M1602.3 2233l37.3 37.3M1602.3 2270.3l37.3 -37.3M1605.9 2225.8l37.3 37.3M1605.9 2263.1l37.3 -37.3M1609.6 2216.7l37.3 37.3M1609.6 2254l37.3 -37.3M1613.2 2228.1l37.3 37.3M1613.2 2265.4l37.3 -37.3M1616.9 2226.2l37.3 37.3M1616.9 2263.5l37.3 -37.3M1620.5 2230.1l37.3 37.3M1620.5 2267.4l37.3 -37.3M1624.1 2223.8l37.3 37.3M1624.1 2261.1l37.3 -37.3M1627.8 2233.3l37.3 37.3M1627.8 2270.6l37.3 -37.3M1631.4 2232.7l37.3 37.3M1631.4 2270l37.3 -37.3M1635.1 2231.5l37.3 37.3M1635.1 2268.8l37.3 -37.3M1638.7 2221.9l37.3 37.3M1638.7 2259.2l37.3 -37.3M1642.3 2223.2l37.3 37.3M1642.3 2260.5l37.3 -37.3M1646 2223.7l37.3 37.3M1646 2261l37.3 -37.3M1649.6 2231.9l37.3 37.3M1649.6 2269.2l37.3 -37.3M1653.2 2223.9l37.3 37.3M1653.2 2261.2l37.3 -37.3M1656.9 2229.2l37.3 37.3M1656.9 2266.5l37.3 -37.3M1660.5 2246.5l37.3 37.3M1660.5 2283.8l37.3 -37.3M1664.2 2231.8l37.3 37.3M1664.2 2269.1l37.3 -37.3M1667.8 2227.8l37.3 37.3M1667.8 2265.1l37.3 -37.3M1671.4 2225.1l37.3 37.3M1671.4 2262.4l37.3 -37.3M1675.1 2217.8l37.3 37.3M1675.1 2255.1l37.3 -37.3M1678.7 2229.6l37.3 37.3M1678.7 2266.9l37.3 -37.3M1682.4 2220.2l37.3 37.3M1682.4 2257.5l37.3 -37.3M1686 2211.7l37.3 37.3M1686 2249l37.3 -37.3M1689.6 2218.6l37.3 37.3M1689.6 2255.9l37.3 -37.3M1693.3 2212.8l37.3 37.3M1693.3 2250.1l37.3 -37.3M1696.9 2208.8l37.3 37.3M1696.9 2246.1l37.3 -37.3M1700.6 2200.2l37.3 37.3M1700.6 2237.5l37.3 -37.3M1704.2 2198.9l37.3 37.3M1704.2 2236.2l37.3 -37.3M1707.8 2200.4l37.3 37.3M1707.8 2237.7l37.3 -37.3M1711.5 2192.8l37.3 37.3M1711.5 2230.1l37.3 -37.3M1715.1 2200.9l37.3 37.3M1715.1 2238.2l37.3 -37.3M1718.8 2195.1l37.3 37.3M1718.8 2232.4l37.3 -37.3M1722.4 2194.7l37.3 37.3M1722.4 2232l37.3 -37.3M1726 2200.5l37.3 37.3M1726 2237.8l37.3 -37.3M1729.7 2184l37.3 37.3M1729.7 2221.3l37.3 -37.3M1733.3 2169.3l37.3 37.3M1733.3 2206.6l37.3 -37.3M1737 2174.5l37.3 37.3M1737 2211.8l37.3 -37.3M1740.6 2172.8l37.3 37.3M1740.6 2210.1l37.3 -37.3M1744.2 2175.7l37.3 37.3M1744.2 2213l37.3 -37.3M1747.9 2171.1l37.3 37.3M1747.9 2208.4l37.3 -37.3M1751.5 2180.5l37.3 37.3M1751.5 2217.8l37.3 -37.3M1755.2 2162.7l37.3 37.3M1755.2 2200l37.3 -37.3M1758.8 2184.2l37.3 37.3M1758.8 2221.5l37.3 -37.3M1762.4 2185.7l37.3 37.3M1762.4 2223l37.3 -37.3M1766.1 2184.3l37.3 37.3M1766.1 2221.6l37.3 -37.3M1769.7 2183.5l37.3 37.3M1769.7 2220.8l37.3 -37.3M1773.4 2195.8l37.3 37.3M1773.4 2233.1l37.3 -37.3M1777 2184.4l37.3 37.3M1777 2221.7l37.3 -37.3M1780.6 2186.2l37.3 37.3M1780.6 2223.5l37.3 -37.3M1784.3 2183.3l37.3 37.3M1784.3 2220.6l37.3 -37.3M1787.9 2199.7l37.3 37.3M1787.9 2237l37.3 -37.3M1791.6 2191.6l37.3 37.3M1791.6 2228.9l37.3 -37.3M1795.2 2191.3l37.3 37.3M1795.2 2228.6l37.3 -37.3M1798.8 2198.2l37.3 37.3M1798.8 2235.5l37.3 -37.3M1802.5 2194.5l37.3 37.3M1802.5 2231.8l37.3 -37.3M1806.1 2197.4l37.3 37.3M1806.1 2234.7l37.3 -37.3M1809.8 2204.5l37.3 37.3M1809.8 2241.8l37.3 -37.3M1813.4 2195.3l37.3 37.3M1813.4 2232.6l37.3 -37.3M1817 2197.3l37.3 37.3M1817 2234.6l37.3 -37.3M1820.7 2192.1l37.3 37.3M1820.7 2229.4l37.3 -37.3M1824.3 2196.4l37.3 37.3M1824.3 2233.7l37.3 -37.3M1827.9 2186.7l37.3 37.3M1827.9 2224l37.3 -37.3M1831.6 2198.2l37.3 37.3M1831.6 2235.5l37.3 -37.3M1835.2 2174.5l37.3 37.3M1835.2 2211.8l37.3 -37.3M1838.9 2194.1l37.3 37.3M1838.9 2231.4l37.3 -37.3M1842.5 2199.6l37.3 37.3M1842.5 2236.9l37.3 -37.3M1846.1 2188.6l37.3 37.3M1846.1 2225.9l37.3 -37.3M1849.8 2194.7l37.3 37.3M1849.8 2232l37.3 -37.3M1853.4 2193.7l37.3 37.3M1853.4 2231l37.3 -37.3M1857.1 2193.6l37.3 37.3M1857.1 2230.9l37.3 -37.3M1860.7 2187.3l37.3 37.3M1860.7 2224.6l37.3 -37.3M1864.3 2193.1l37.3 37.3M1864.3 2230.4l37.3 -37.3M1868 2196.6l37.3 37.3M1868 2233.9l37.3 -37.3M1871.6 2194.5l37.3 37.3M1871.6 2231.8l37.3 -37.3M1875.3 2189.9l37.3 37.3M1875.3 2227.2l37.3 -37.3M1878.9 2183.2l37.3 37.3M1878.9 2220.5l37.3 -37.3M1882.5 2189.5l37.3 37.3M1882.5 2226.8l37.3 -37.3M1886.2 2197.1l37.3 37.3M1886.2 2234.4l37.3 -37.3M1889.8 2187.4l37.3 37.3M1889.8 2224.7l37.3 -37.3M1893.5 2189.6l37.3 37.3M1893.5 2226.9l37.3 -37.3M1897.1 2192.9l37.3 37.3M1897.1 2230.2l37.3 -37.3M1900.7 2185.9l37.3 37.3M1900.7 2223.2l37.3 -37.3M1904.4 2190.6l37.3 37.3M1904.4 2227.9l37.3 -37.3M1908 2189.4l37.3 37.3M1908 2226.7l37.3 -37.3M1911.7 2197.7l37.3 37.3M1911.7 2235l37.3 -37.3M1915.3 2191l37.3 37.3M1915.3 2228.3l37.3 -37.3M1918.9 2193.7l37.3 37.3M1918.9 2231l37.3 -37.3M1922.6 2190.9l37.3 37.3M1922.6 2228.2l37.3 -37.3M1926.2 2172.9l37.3 37.3M1926.2 2210.2l37.3 -37.3M1929.9 2193.7l37.3 37.3M1929.9 2231l37.3 -37.3M1933.5 2193.1l37.3 37.3M1933.5 2230.4l37.3 -37.3M1937.1 2193.5l37.3 37.3M1937.1 2230.8l37.3 -37.3M1940.8 2190.9l37.3 37.3M1940.8 2228.2l37.3 -37.3M1944.4 2193.1l37.3 37.3M1944.4 2230.4l37.3 -37.3M1948.1 2195l37.3 37.3M1948.1 2232.3l37.3 -37.3M1951.7 2196.4l37.3 37.3M1951.7 2233.7l37.3 -37.3M1955.3 2197.8l37.3 37.3M1955.3 2235.1l37.3 -37.3M1959 2198.5l37.3 37.3M1959 2235.8l37.3 -37.3M1962.6 2200.1l37.3 37.3M1962.6 2237.4l37.3 -37.3M1966.3 2199.8l37.3 37.3M1966.3 2237.1l37.3 -37.3M1969.9 2202.2l37.3 37.3M1969.9 2239.5l37.3 -37.3M1973.5 2194.8l37.3 37.3M1973.5 2232.1l37.3 -37.3M1977.2 2214.4l37.3 37.3M1977.2 2251.7l37.3 -37.3M1980.8 2203.7l37.3 37.3M1980.8 2241l37.3 -37.3M1984.5 2207.5l37.3 37.3M1984.5 2244.8l37.3 -37.3M1988.1 2196.9l37.3 37.3M1988.1 2234.2l37.3 -37.3M1991.7 2205.1l37.3 37.3M1991.7 2242.4l37.3 -37.3M1995.4 2220.9l37.3 37.3M1995.4 2258.2l37.3 -37.3M1999 2200.1l37.3 37.3M1999 2237.4l37.3 -37.3M2002.7 2191.8l37.3 37.3M2002.7 2229.1l37.3 -37.3M2006.3 2194.8l37.3 37.3M2006.3 2232.1l37.3 -37.3M2009.9 2197.7l37.3 37.3M2009.9 2235l37.3 -37.3M2013.6 2200.8l37.3 37.3M2013.6 2238.1l37.3 -37.3M2017.2 2203.2l37.3 37.3M2017.2 2240.5l37.3 -37.3M2020.8 2199.2l37.3 37.3M2020.8 2236.5l37.3 -37.3M2024.5 2193.6l37.3 37.3M2024.5 2230.9l37.3 -37.3M2028.1 2186.3l37.3 37.3M2028.1 2223.6l37.3 -37.3M2031.8 2197.3l37.3 37.3M2031.8 2234.6l37.3 -37.3M2035.4 2186.8l37.3 37.3M2035.4 2224.1l37.3 -37.3M2039 2186.9l37.3 37.3M2039 2224.2l37.3 -37.3M2042.7 2190.3l37.3 37.3M2042.7 2227.6l37.3 -37.3M2046.3 2190.1l37.3 37.3M2046.3 2227.4l37.3 -37.3M2050 2181.7l37.3 37.3M2050 2219l37.3 -37.3M2053.6 2183.2l37.3 37.3M2053.6 2220.5l37.3 -37.3M2057.2 2186.4l37.3 37.3M2057.2 2223.7l37.3 -37.3M2060.9 2184.4l37.3 37.3M2060.9 2221.7l37.3 -37.3M2064.5 2172.3l37.3 37.3M2064.5 2209.6l37.3 -37.3M2068.2 2188.9l37.3 37.3M2068.2 2226.2l37.3 -37.3M2071.8 2193.5l37.3 37.3M2071.8 2230.8l37.3 -37.3M2075.4 2182.7l37.3 37.3M2075.4 2220l37.3 -37.3M2079.1 2188.8l37.3 37.3M2079.1 2226.1l37.3 -37.3M2082.7 2177.5l37.3 37.3M2082.7 2214.8l37.3 -37.3M2086.4 2184.6l37.3 37.3M2086.4 2221.9l37.3 -37.3M2090 2181.5l37.3 37.3M2090 2218.8l37.3 -37.3M2093.6 2170.9l37.3 37.3M2093.6 2208.2l37.3 -37.3M2097.3 2184.6l37.3 37.3M2097.3 2221.9l37.3 -37.3M2100.9 2180.3l37.3 37.3M2100.9 2217.6l37.3 -37.3M2104.6 2179.4l37.3 37.3M2104.6 2216.7l37.3 -37.3M2108.2 2186.8l37.3 37.3M2108.2 2224.1l37.3 -37.3M2111.8 2184.1l37.3 37.3M2111.8 2221.4l37.3 -37.3M2115.5 2188.7l37.3 37.3M2115.5 2226l37.3 -37.3M2119.1 2190.6l37.3 37.3M2119.1 2227.9l37.3 -37.3M2122.8 2187.7l37.3 37.3M2122.8 2225l37.3 -37.3M2126.4 2188.9l37.3 37.3M2126.4 2226.2l37.3 -37.3M2130 2186.9l37.3 37.3M2130 2224.2l37.3 -37.3M2133.7 2182.1l37.3 37.3M2133.7 2219.4l37.3 -37.3M2137.3 2195.2l37.3 37.3M2137.3 2232.5l37.3 -37.3M2141 2177.2l37.3 37.3M2141 2214.5l37.3 -37.3M2144.6 2182.4l37.3 37.3M2144.6 2219.7l37.3 -37.3M2148.2 2184.1l37.3 37.3M2148.2 2221.4l37.3 -37.3M2151.9 2181.5l37.3 37.3M2151.9 2218.8l37.3 -37.3M2155.5 2165.8l37.3 37.3M2155.5 2203.1l37.3 -37.3M2159.2 2179.5l37.3 37.3M2159.2 2216.8l37.3 -37.3M2162.8 2179.5l37.3 37.3M2162.8 2216.8l37.3 -37.3M2166.4 2185.6l37.3 37.3M2166.4 2222.9l37.3 -37.3M2170.1 2180l37.3 37.3M2170.1 2217.3l37.3 -37.3M2173.7 2177.6l37.3 37.3M2173.7 2214.9l37.3 -37.3M2177.4 2172.7l37.3 37.3M2177.4 2210l37.3 -37.3M2181 2174.4l37.3 37.3M2181 2211.7l37.3 -37.3M2184.6 2167.8l37.3 37.3M2184.6 2205.1l37.3 -37.3M2188.3 2171.4l37.3 37.3M2188.3 2208.7l37.3 -37.3M2191.9 2173.9l37.3 37.3M2191.9 2211.2l37.3 -37.3M2195.5 2178.9l37.3 37.3M2195.5 2216.2l37.3 -37.3M2199.2 2185.5l37.3 37.3M2199.2 2222.8l37.3 -37.3M2202.8 2175l37.3 37.3M2202.8 2212.3l37.3 -37.3M2206.5 2187.1l37.3 37.3M2206.5 2224.4l37.3 -37.3M2210.1 2183.3l37.3 37.3M2210.1 2220.6l37.3 -37.3M2213.7 2188.1l37.3 37.3M2213.7 2225.4l37.3 -37.3M2217.4 2188l37.3 37.3M2217.4 2225.3l37.3 -37.3M2221 2190.3l37.3 37.3M2221 2227.6l37.3 -37.3M2224.7 2197l37.3 37.3M2224.7 2234.3l37.3 -37.3M2228.3 2198.4l37.3 37.3M2228.3 2235.7l37.3 -37.3M2231.9 2205l37.3 37.3M2231.9 2242.3l37.3 -37.3M2235.6 2213.7l37.3 37.3M2235.6 2251l37.3 -37.3M2239.2 2216.8l37.3 37.3M2239.2 2254.1l37.3 -37.3M2242.9 2216.3l37.3 37.3M2242.9 2253.6l37.3 -37.3M2246.5 2213.5l37.3 37.3M2246.5 2250.8l37.3 -37.3M2250.1 2225l37.3 37.3M2250.1 2262.3l37.3 -37.3M2253.8 2211.4l37.3 37.3M2253.8 2248.7l37.3 -37.3M2257.4 2215.8l37.3 37.3M2257.4 2253.1l37.3 -37.3M2261.1 2190l37.3 37.3M2261.1 2227.3l37.3 -37.3M2264.7 2196.5l37.3 37.3M2264.7 2233.8l37.3 -37.3M2268.3 2199.5l37.3 37.3M2268.3 2236.8l37.3 -37.3M2272 2193.3l37.3 37.3M2272 2230.6l37.3 -37.3M2275.6 2196.7l37.3 37.3M2275.6 2234l37.3 -37.3M2279.3 2202.2l37.3 37.3M2279.3 2239.5l37.3 -37.3M2282.9 2195l37.3 37.3M2282.9 2232.3l37.3 -37.3M2286.5 2170.3l37.3 37.3M2286.5 2207.6l37.3 -37.3M2290.2 2184.4l37.3 37.3M2290.2 2221.7l37.3 -37.3M2293.8 2185.7l37.3 37.3M2293.8 2223l37.3 -37.3M2297.5 2195.2l37.3 37.3M2297.5 2232.5l37.3 -37.3M2301.1 2183.5l37.3 37.3M2301.1 2220.8l37.3 -37.3M2304.7 2192.9l37.3 37.3M2304.7 2230.2l37.3 -37.3M2308.4 2187.9l37.3 37.3M2308.4 2225.2l37.3 -37.3M2312 2181.3l37.3 37.3M2312 2218.6l37.3 -37.3M2315.7 2191.7l37.3 37.3M2315.7 2229l37.3 -37.3M2319.3 2196l37.3 37.3M2319.3 2233.3l37.3 -37.3M2322.9 2188.7l37.3 37.3M2322.9 2226l37.3 -37.3M2326.6 2195.7l37.3 37.3M2326.6 2233l37.3 -37.3M2330.2 2200.1l37.3 37.3M2330.2 2237.4l37.3 -37.3M2333.9 2204.2l37.3 37.3M2333.9 2241.5l37.3 -37.3M2337.5 2225.9l37.3 37.3M2337.5 2263.2l37.3 -37.3M2341.1 2213l37.3 37.3M2341.1 2250.3l37.3 -37.3M2344.8 2214.4l37.3 37.3M2344.8 2251.7l37.3 -37.3M2348.4 2219.7l37.3 37.3M2348.4 2257l37.3 -37.3M2352.1 2222.3l37.3 37.3M2352.1 2259.6l37.3 -37.3M2355.7 2219.5l37.3 37.3M2355.7 2256.8l37.3 -37.3M2359.3 2223l37.3 37.3M2359.3 2260.3l37.3 -37.3M2363 2207.7l37.3 37.3M2363 2245l37.3 -37.3M2366.6 2216.1l37.3 37.3M2366.6 2253.4l37.3 -37.3M2370.3 2218.6l37.3 37.3M2370.3 2255.9l37.3 -37.3M2373.9 2205.7l37.3 37.3M2373.9 2243l37.3 -37.3M2377.5 2219.1l37.3 37.3M2377.5 2256.4l37.3 -37.3M2381.2 2204.8l37.3 37.3M2381.2 2242.1l37.3 -37.3M2384.8 2212.4l37.3 37.3M2384.8 2249.7l37.3 -37.3M2388.4 2208.5l37.3 37.3M2388.4 2245.8l37.3 -37.3M2392.1 2197.3l37.3 37.3M2392.1 2234.6l37.3 -37.3M2395.7 2197.1l37.3 37.3M2395.7 2234.4l37.3 -37.3M2399.4 2192l37.3 37.3M2399.4 2229.3l37.3 -37.3M2403 2195.3l37.3 37.3M2403 2232.6l37.3 -37.3M2406.6 2183.4l37.3 37.3M2406.6 2220.7l37.3 -37.3M2410.3 2178.5l37.3 37.3M2410.3 2215.8l37.3 -37.3M2413.9 2180.6l37.3 37.3M2413.9 2217.9l37.3 -37.3M2417.6 2181.4l37.3 37.3M2417.6 2218.7l37.3 -37.3M2421.2 2180.9l37.3 37.3M2421.2 2218.2l37.3 -37.3M2424.8 2180.4l37.3 37.3M2424.8 2217.7l37.3 -37.3M2428.5 2184.6l37.3 37.3M2428.5 2221.9l37.3 -37.3M2432.1 2177.5l37.3 37.3M2432.1 2214.8l37.3 -37.3M2435.8 2174l37.3 37.3M2435.8 2211.3l37.3 -37.3M2439.4 2173.8l37.3 37.3M2439.4 2211.1l37.3 -37.3M2443 2177.1l37.3 37.3M2443 2214.4l37.3 -37.3M2446.7 2195.7l37.3 37.3M2446.7 2233l37.3 -37.3M2450.3 2173.6l37.3 37.3M2450.3 2210.9l37.3 -37.3M2454 2168.1l37.3 37.3M2454 2205.4l37.3 -37.3M2457.6 2178.1l37.3 37.3M2457.6 2215.4l37.3 -37.3M2461.2 2194.3l37.3 37.3M2461.2 2231.6l37.3 -37.3M2464.9 2199.1l37.3 37.3M2464.9 2236.4l37.3 -37.3M2468.5 2194.8l37.3 37.3M2468.5 2232.1l37.3 -37.3M2472.2 2192.6l37.3 37.3M2472.2 2229.9l37.3 -37.3M2475.8 2195.8l37.3 37.3M2475.8 2233.1l37.3 -37.3M2479.4 2216.5l37.3 37.3M2479.4 2253.8l37.3 -37.3M2483.1 2205.4l37.3 37.3M2483.1 2242.7l37.3 -37.3M2486.7 2217.2l37.3 37.3M2486.7 2254.5l37.3 -37.3M2490.4 2235.5l37.3 37.3M2490.4 2272.8l37.3 -37.3M2494 2217.4l37.3 37.3M2494 2254.7l37.3 -37.3M2497.6 2220.1l37.3 37.3M2497.6 2257.4l37.3 -37.3M2501.3 2226.7l37.3 37.3M2501.3 2264l37.3 -37.3M2504.9 2212.6l37.3 37.3M2504.9 2249.9l37.3 -37.3M2508.6 2229l37.3 37.3M2508.6 2266.3l37.3 -37.3M2512.2 2200.5l37.3 37.3M2512.2 2237.8l37.3 -37.3M2515.8 2190.5l37.3 37.3M2515.8 2227.8l37.3 -37.3M2519.5 2208.7l37.3 37.3M2519.5 2246l37.3 -37.3M2523.1 2201.9l37.3 37.3M2523.1 2239.2l37.3 -37.3M2526.8 2222.7l37.3 37.3M2526.8 2260l37.3 -37.3M2530.4 2207.4l37.3 37.3M2530.4 2244.7l37.3 -37.3M2534 2194.2l37.3 37.3M2534 2231.5l37.3 -37.3M2537.7 2191.2l37.3 37.3M2537.7 2228.5l37.3 -37.3M2541.3 2186.4l37.3 37.3M2541.3 2223.7l37.3 -37.3M2545 2188.9l37.3 37.3M2545 2226.2l37.3 -37.3M2548.6 2206.2l37.3 37.3M2548.6 2243.5l37.3 -37.3M2552.2 2198.1l37.3 37.3M2552.2 2235.4l37.3 -37.3M2555.9 2215l37.3 37.3M2555.9 2252.3l37.3 -37.3M2559.5 2217l37.3 37.3M2559.5 2254.3l37.3 -37.3M2563.2 2209.5l37.3 37.3M2563.2 2246.8l37.3 -37.3M2566.8 2215.5l37.3 37.3M2566.8 2252.8l37.3 -37.3M2570.4 2202.7l37.3 37.3M2570.4 2240l37.3 -37.3M2574.1 2197.1l37.3 37.3M2574.1 2234.4l37.3 -37.3M2577.7 2204.4l37.3 37.3M2577.7 2241.7l37.3 -37.3M2581.3 2214.5l37.3 37.3M2581.3 2251.8l37.3 -37.3M2585 2195.6l37.3 37.3M2585 2232.9l37.3 -37.3M2588.6 2181.4l37.3 37.3M2588.6 2218.7l37.3 -37.3M2592.3 2193.8l37.3 37.3M2592.3 2231.1l37.3 -37.3M2595.9 2171.7l37.3 37.3M2595.9 2209l37.3 -37.3M2599.5 2161.5l37.3 37.3M2599.5 2198.8l37.3 -37.3M2603.2 2155.2l37.3 37.3M2603.2 2192.5l37.3 -37.3M2606.8 2158l37.3 37.3M2606.8 2195.3l37.3 -37.3M2610.5 2163.6l37.3 37.3M2610.5 2200.9l37.3 -37.3M2614.1 2151l37.3 37.3M2614.1 2188.3l37.3 -37.3M2617.7 2148.6l37.3 37.3M2617.7 2185.9l37.3 -37.3M2621.4 2170.2l37.3 37.3M2621.4 2207.5l37.3 -37.3M2625 2168l37.3 37.3M2625 2205.3l37.3 -37.3M2628.7 2162.9l37.3 37.3M2628.7 2200.2l37.3 -37.3M2632.3 2157.4l37.3 37.3M2632.3 2194.7l37.3 -37.3M2635.9 2158.3l37.3 37.3M2635.9 2195.6l37.3 -37.3M2639.6 2176.8l37.3 37.3M2639.6 2214.1l37.3 -37.3M2643.2 2164.4l37.3 37.3M2643.2 2201.7l37.3 -37.3M2646.9 2157.5l37.3 37.3M2646.9 2194.8l37.3 -37.3M2650.5 2150.3l37.3 37.3M2650.5 2187.6l37.3 -37.3M2654.1 2164.9l37.3 37.3M2654.1 2202.2l37.3 -37.3M2657.8 2156.1l37.3 37.3M2657.8 2193.4l37.3 -37.3M2661.4 2160.1l37.3 37.3M2661.4 2197.4l37.3 -37.3M2665.1 2146.1l37.3 37.3M2665.1 2183.4l37.3 -37.3M2668.7 2151l37.3 37.3M2668.7 2188.3l37.3 -37.3M2672.3 2152.6l37.3 37.3M2672.3 2189.9l37.3 -37.3M2676 2133l37.3 37.3M2676 2170.3l37.3 -37.3M2679.6 2124.8l37.3 37.3M2679.6 2162.1l37.3 -37.3M2683.3 2117.3l37.3 37.3M2683.3 2154.6l37.3 -37.3M2686.9 2109.9l37.3 37.3M2686.9 2147.2l37.3 -37.3M2690.5 2103.3l37.3 37.3M2690.5 2140.6l37.3 -37.3M2694.2 2077.8l37.3 37.3M2694.2 2115.1l37.3 -37.3M2697.8 2088.4l37.3 37.3M2697.8 2125.7l37.3 -37.3M2701.5 2100.6l37.3 37.3M2701.5 2137.9l37.3 -37.3M2705.1 2108.5l37.3 37.3M2705.1 2145.8l37.3 -37.3M2708.7 2107.5l37.3 37.3M2708.7 2144.8l37.3 -37.3M2712.4 2119.6l37.3 37.3M2712.4 2156.9l37.3 -37.3M2716 2112.5l37.3 37.3M2716 2149.8l37.3 -37.3M2719.7 2114.5l37.3 37.3M2719.7 2151.8l37.3 -37.3M2723.3 2107.9l37.3 37.3M2723.3 2145.2l37.3 -37.3M2726.9 2114.4l37.3 37.3M2726.9 2151.7l37.3 -37.3M2730.6 2117.2l37.3 37.3M2730.6 2154.5l37.3 -37.3M2734.2 2130.3l37.3 37.3M2734.2 2167.6l37.3 -37.3M2737.9 2124l37.3 37.3M2737.9 2161.3l37.3 -37.3M2741.5 2128.2l37.3 37.3M2741.5 2165.5l37.3 -37.3M2745.1 2127.5l37.3 37.3M2745.1 2164.8l37.3 -37.3M2748.8 2132.7l37.3 37.3M2748.8 2170l37.3 -37.3M2752.4 2134.7l37.3 37.3M2752.4 2172l37.3 -37.3M2756 2137.5l37.3 37.3M2756 2174.8l37.3 -37.3M2759.7 2151.7l37.3 37.3M2759.7 2189l37.3 -37.3M2763.3 2140.8l37.3 37.3M2763.3 2178.1l37.3 -37.3M2767 2140.8l37.3 37.3M2767 2178.1l37.3 -37.3M2770.6 2144.3l37.3 37.3M2770.6 2181.6l37.3 -37.3M2774.2 2157.3l37.3 37.3M2774.2 2194.6l37.3 -37.3M2777.9 2151.4l37.3 37.3M2777.9 2188.7l37.3 -37.3M2781.5 2162.7l37.3 37.3M2781.5 2200l37.3 -37.3M2785.2 2153.2l37.3 37.3M2785.2 2190.5l37.3 -37.3M2788.8 2152.9l37.3 37.3M2788.8 2190.2l37.3 -37.3M2792.4 2145.9l37.3 37.3M2792.4 2183.2l37.3 -37.3M2796.1 2144.8l37.3 37.3M2796.1 2182.1l37.3 -37.3M2799.7 2149.7l37.3 37.3M2799.7 2187l37.3 -37.3M2803.4 2151.9l37.3 37.3M2803.4 2189.2l37.3 -37.3M2807 2147.1l37.3 37.3M2807 2184.4l37.3 -37.3M2810.6 2150.3l37.3 37.3M2810.6 2187.6l37.3 -37.3M2814.3 2141.2l37.3 37.3M2814.3 2178.5l37.3 -37.3M2817.9 2135.5l37.3 37.3M2817.9 2172.8l37.3 -37.3M2821.6 2140.1l37.3 37.3M2821.6 2177.4l37.3 -37.3M2825.2 2145.7l37.3 37.3M2825.2 2183l37.3 -37.3M2828.8 2145.4l37.3 37.3M2828.8 2182.7l37.3 -37.3M2832.5 2134.4l37.3 37.3M2832.5 2171.7l37.3 -37.3M2836.1 2133.7l37.3 37.3M2836.1 2171l37.3 -37.3M2839.8 2133.8l37.3 37.3M2839.8 2171.1l37.3 -37.3M2843.4 2137.2l37.3 37.3M2843.4 2174.5l37.3 -37.3M2847 2131.2l37.3 37.3M2847 2168.5l37.3 -37.3M2850.7 2127.7l37.3 37.3M2850.7 2165l37.3 -37.3M2854.3 2128.8l37.3 37.3M2854.3 2166.1l37.3 -37.3M2858 2128.9l37.3 37.3M2858 2166.2l37.3 -37.3M2861.6 2129.1l37.3 37.3M2861.6 2166.4l37.3 -37.3M2865.2 2130.1l37.3 37.3M2865.2 2167.4l37.3 -37.3M2868.9 2123.6l37.3 37.3M2868.9 2160.9l37.3 -37.3M2872.5 2139.6l37.3 37.3M2872.5 2176.9l37.3 -37.3M2876.2 2125.3l37.3 37.3M2876.2 2162.6l37.3 -37.3M2879.8 2127.8l37.3 37.3M2879.8 2165.1l37.3 -37.3M2883.4 2129.7l37.3 37.3M2883.4 2167l37.3 -37.3M2887.1 2131.5l37.3 37.3M2887.1 2168.8l37.3 -37.3M2890.7 2131l37.3 37.3M2890.7 2168.3l37.3 -37.3M2894.4 2123.3l37.3 37.3M2894.4 2160.6l37.3 -37.3M2898 2145.4l37.3 37.3M2898 2182.7l37.3 -37.3M2901.6 2134.7l37.3 37.3M2901.6 2172l37.3 -37.3M2905.3 2145l37.3 37.3M2905.3 2182.3l37.3 -37.3M2908.9 2156.6l37.3 37.3M2908.9 2193.9l37.3 -37.3M2912.6 2166.9l37.3 37.3M2912.6 2204.2l37.3 -37.3M2916.2 2157.2l37.3 37.3M2916.2 2194.5l37.3 -37.3M2919.8 2154.9l37.3 37.3M2919.8 2192.2l37.3 -37.3M2923.5 2154.2l37.3 37.3M2923.5 2191.5l37.3 -37.3M2927.1 2159.4l37.3 37.3M2927.1 2196.7l37.3 -37.3M2930.8 2151.4l37.3 37.3M2930.8 2188.7l37.3 -37.3M2934.4 2155.5l37.3 37.3M2934.4 2192.8l37.3 -37.3M2938 2156.3l37.3 37.3M2938 2193.6l37.3 -37.3M2941.7 2145.9l37.3 37.3M2941.7 2183.2l37.3 -37.3M2945.3 2150.3l37.3 37.3M2945.3 2187.6l37.3 -37.3M2948.9 2146l37.3 37.3M2948.9 2183.3l37.3 -37.3M2952.6 2159l37.3 37.3M2952.6 2196.3l37.3 -37.3M2956.2 2149.4l37.3 37.3M2956.2 2186.7l37.3 -37.3M2959.9 2144.5l37.3 37.3M2959.9 2181.8l37.3 -37.3M2963.5 2152.1l37.3 37.3M2963.5 2189.4l37.3 -37.3M2967.1 2152.5l37.3 37.3M2967.1 2189.8l37.3 -37.3M2970.8 2145.6l37.3 37.3M2970.8 2182.9l37.3 -37.3M2974.4 2143.6l37.3 37.3M2974.4 2180.9l37.3 -37.3M2978.1 2145.3l37.3 37.3M2978.1 2182.6l37.3 -37.3M2981.7 2150.4l37.3 37.3M2981.7 2187.7l37.3 -37.3M2985.3 2145.2l37.3 37.3M2985.3 2182.5l37.3 -37.3M2989 2161l37.3 37.3M2989 2198.3l37.3 -37.3M2992.6 2147.2l37.3 37.3M2992.6 2184.5l37.3 -37.3M2996.3 2146l37.3 37.3M2996.3 2183.3l37.3 -37.3M2999.9 2140.2l37.3 37.3M2999.9 2177.5l37.3 -37.3M3003.5 2143.9l37.3 37.3M3003.5 2181.2l37.3 -37.3M3007.2 2137.8l37.3 37.3M3007.2 2175.1l37.3 -37.3M3010.8 2146.6l37.3 37.3M3010.8 2183.9l37.3 -37.3M3014.5 2139.2l37.3 37.3M3014.5 2176.5l37.3 -37.3M3018.1 2137.7l37.3 37.3M3018.1 2175l37.3 -37.3M3021.7 2119l37.3 37.3M3021.7 2156.3l37.3 -37.3M3025.4 2136.7l37.3 37.3M3025.4 2174l37.3 -37.3M3029 2129.2l37.3 37.3M3029 2166.5l37.3 -37.3M3032.7 2124.8l37.3 37.3M3032.7 2162.1l37.3 -37.3M3036.3 2126.3l37.3 37.3M3036.3 2163.6l37.3 -37.3M3039.9 2116.1l37.3 37.3M3039.9 2153.4l37.3 -37.3M3043.6 2118.6l37.3 37.3M3043.6 2155.9l37.3 -37.3M3047.2 2118.2l37.3 37.3M3047.2 2155.5l37.3 -37.3M3050.9 2116.9l37.3 37.3M3050.9 2154.2l37.3 -37.3M3054.5 2115l37.3 37.3M3054.5 2152.3l37.3 -37.3M3058.1 2120.4l37.3 37.3M3058.1 2157.7l37.3 -37.3M3061.8 2138.1l37.3 37.3M3061.8 2175.4l37.3 -37.3M3065.4 2113.2l37.3 37.3M3065.4 2150.5l37.3 -37.3M3069.1 2124.2l37.3 37.3M3069.1 2161.5l37.3 -37.3M3072.7 2123.9l37.3 37.3M3072.7 2161.2l37.3 -37.3M3076.3 2113.7l37.3 37.3M3076.3 2151l37.3 -37.3M3080 2128.9l37.3 37.3M3080 2166.2l37.3 -37.3M3083.6 2119.8l37.3 37.3M3083.6 2157.1l37.3 -37.3M3087.3 2125.1l37.3 37.3M3087.3 2162.4l37.3 -37.3M3090.9 2130.2l37.3 37.3M3090.9 2167.5l37.3 -37.3M3094.5 2132.9l37.3 37.3M3094.5 2170.2l37.3 -37.3M3098.2 2151.9l37.3 37.3M3098.2 2189.2l37.3 -37.3M3101.8 2140.8l37.3 37.3M3101.8 2178.1l37.3 -37.3M3105.5 2135.1l37.3 37.3M3105.5 2172.4l37.3 -37.3M3109.1 2124.3l37.3 37.3M3109.1 2161.6l37.3 -37.3M3112.7 2132.7l37.3 37.3M3112.7 2170l37.3 -37.3M3116.4 2128.1l37.3 37.3M3116.4 2165.4l37.3 -37.3M3120 2141.9l37.3 37.3M3120 2179.2l37.3 -37.3M3123.6 2135l37.3 37.3M3123.6 2172.3l37.3 -37.3M3127.3 2124.7l37.3 37.3M3127.3 2162l37.3 -37.3M3130.9 2120.7l37.3 37.3M3130.9 2158l37.3 -37.3M3134.6 2123.3l37.3 37.3M3134.6 2160.6l37.3 -37.3M3138.2 2111.3l37.3 37.3M3138.2 2148.6l37.3 -37.3M3141.8 2100.4l37.3 37.3M3141.8 2137.7l37.3 -37.3M3145.5 2103.6l37.3 37.3M3145.5 2140.9l37.3 -37.3M3149.1 2109.2l37.3 37.3M3149.1 2146.5l37.3 -37.3M3152.8 2104.9l37.3 37.3M3152.8 2142.2l37.3 -37.3M3156.4 2098.9l37.3 37.3M3156.4 2136.2l37.3 -37.3M3160 2101.5l37.3 37.3M3160 2138.8l37.3 -37.3M3163.7 2094.3l37.3 37.3M3163.7 2131.6l37.3 -37.3M3167.3 2098.5l37.3 37.3M3167.3 2135.8l37.3 -37.3M3171 2083.3l37.3 37.3M3171 2120.6l37.3 -37.3M3174.6 2080.4l37.3 37.3M3174.6 2117.7l37.3 -37.3M3258.3 2165.4l37.3 37.3M3258.3 2202.7l37.3 -37.3M3262 2162.8l37.3 37.3M3262 2200.1l37.3 -37.3M3265.6 2157.8l37.3 37.3M3265.6 2195.1l37.3 -37.3M3269.2 2170.7l37.3 37.3M3269.2 2208l37.3 -37.3M3272.9 2167.7l37.3 37.3M3272.9 2205l37.3 -37.3M3276.5 2166.8l37.3 37.3M3276.5 2204.1l37.3 -37.3M3280.2 2173l37.3 37.3M3280.2 2210.3l37.3 -37.3M3283.8 2171.9l37.3 37.3M3283.8 2209.2l37.3 -37.3M3287.4 2167.1l37.3 37.3M3287.4 2204.4l37.3 -37.3M3291.1 2188.1l37.3 37.3M3291.1 2225.4l37.3 -37.3M3294.7 2190.7l37.3 37.3M3294.7 2228l37.3 -37.3M3298.4 2181.7l37.3 37.3M3298.4 2219l37.3 -37.3M3302 2189.2l37.3 37.3M3302 2226.5l37.3 -37.3M3305.6 2183l37.3 37.3M3305.6 2220.3l37.3 -37.3M3309.3 2196.5l37.3 37.3M3309.3 2233.8l37.3 -37.3M3312.9 2191l37.3 37.3M3312.9 2228.3l37.3 -37.3M3316.5 2207.7l37.3 37.3M3316.5 2245l37.3 -37.3M3320.2 2193.8l37.3 37.3M3320.2 2231.1l37.3 -37.3M3323.8 2192.5l37.3 37.3M3323.8 2229.8l37.3 -37.3M3327.5 2203l37.3 37.3M3327.5 2240.3l37.3 -37.3M3331.1 2214.2l37.3 37.3M3331.1 2251.5l37.3 -37.3M3334.7 2207.6l37.3 37.3M3334.7 2244.9l37.3 -37.3M3338.4 2198.5l37.3 37.3M3338.4 2235.8l37.3 -37.3M3342 2192.7l37.3 37.3M3342 2230l37.3 -37.3M3345.7 2192.8l37.3 37.3M3345.7 2230.1l37.3 -37.3M3349.3 2191.8l37.3 37.3M3349.3 2229.1l37.3 -37.3M3352.9 2185.1l37.3 37.3M3352.9 2222.4l37.3 -37.3M3356.6 2183.2l37.3 37.3M3356.6 2220.5l37.3 -37.3M3360.2 2182.3l37.3 37.3M3360.2 2219.6l37.3 -37.3M3363.9 2177.3l37.3 37.3M3363.9 2214.6l37.3 -37.3M3367.5 2178.4l37.3 37.3M3367.5 2215.7l37.3 -37.3M3371.1 2173.9l37.3 37.3M3371.1 2211.2l37.3 -37.3M3374.8 2176.8l37.3 37.3M3374.8 2214.1l37.3 -37.3M3378.4 2154.9l37.3 37.3M3378.4 2192.2l37.3 -37.3M3382.1 2200.9l37.3 37.3M3382.1 2238.2l37.3 -37.3M3385.7 2165.2l37.3 37.3M3385.7 2202.5l37.3 -37.3M3389.3 2167l37.3 37.3M3389.3 2204.3l37.3 -37.3M3393 2164.5l37.3 37.3M3393 2201.8l37.3 -37.3M3396.6 2166.4l37.3 37.3M3396.6 2203.7l37.3 -37.3M3400.3 2163.5l37.3 37.3M3400.3 2200.8l37.3 -37.3M3403.9 2152.8l37.3 37.3M3403.9 2190.1l37.3 -37.3M3407.5 2158.2l37.3 37.3M3407.5 2195.5l37.3 -37.3M3411.2 2156.9l37.3 37.3M3411.2 2194.2l37.3 -37.3M3414.8 2163.6l37.3 37.3M3414.8 2200.9l37.3 -37.3M3418.5 2158l37.3 37.3M3418.5 2195.3l37.3 -37.3M3422.1 2150.5l37.3 37.3M3422.1 2187.8l37.3 -37.3M3425.7 2155.7l37.3 37.3M3425.7 2193l37.3 -37.3M3429.4 2155.8l37.3 37.3M3429.4 2193.1l37.3 -37.3M3433 2157.7l37.3 37.3M3433 2195l37.3 -37.3M3436.7 2158.4l37.3 37.3M3436.7 2195.7l37.3 -37.3M3440.3 2159.4l37.3 37.3M3440.3 2196.7l37.3 -37.3M3443.9 2154.3l37.3 37.3M3443.9 2191.6l37.3 -37.3M3447.6 2154.4l37.3 37.3M3447.6 2191.7l37.3 -37.3M3451.2 2165.3l37.3 37.3M3451.2 2202.6l37.3 -37.3M3454.9 2161.4l37.3 37.3M3454.9 2198.7l37.3 -37.3M3458.5 2171.9l37.3 37.3M3458.5 2209.2l37.3 -37.3M3462.1 2159l37.3 37.3M3462.1 2196.3l37.3 -37.3M3465.8 2171.6l37.3 37.3M3465.8 2208.9l37.3 -37.3M3469.4 2168l37.3 37.3M3469.4 2205.3l37.3 -37.3M3473.1 2165l37.3 37.3M3473.1 2202.3l37.3 -37.3M3476.7 2168l37.3 37.3M3476.7 2205.3l37.3 -37.3M3480.3 2168.7l37.3 37.3M3480.3 2206l37.3 -37.3M3484 2170.7l37.3 37.3M3484 2208l37.3 -37.3M3487.6 2166.1l37.3 37.3M3487.6 2203.4l37.3 -37.3M3491.3 2166.6l37.3 37.3M3491.3 2203.9l37.3 -37.3M3494.9 2172.3l37.3 37.3M3494.9 2209.6l37.3 -37.3M3498.5 2170.3l37.3 37.3M3498.5 2207.6l37.3 -37.3M3502.2 2174.9l37.3 37.3M3502.2 2212.2l37.3 -37.3M3505.8 2170.5l37.3 37.3M3505.8 2207.8l37.3 -37.3M3509.4 2178.1l37.3 37.3M3509.4 2215.4l37.3 -37.3M3513.1 2171.6l37.3 37.3M3513.1 2208.9l37.3 -37.3M3516.7 2178.5l37.3 37.3M3516.7 2215.8l37.3 -37.3M3520.4 2223.7l37.3 37.3M3520.4 2261l37.3 -37.3M3524 2225.4l37.3 37.3M3524 2262.7l37.3 -37.3M3527.6 2221.9l37.3 37.3M3527.6 2259.2l37.3 -37.3M3531.3 2216.9l37.3 37.3M3531.3 2254.2l37.3 -37.3M3534.9 2224.8l37.3 37.3M3534.9 2262.1l37.3 -37.3M3538.6 2225.9l37.3 37.3M3538.6 2263.2l37.3 -37.3M3542.2 2226.9l37.3 37.3M3542.2 2264.2l37.3 -37.3M3545.8 2231.2l37.3 37.3M3545.8 2268.5l37.3 -37.3M3549.5 2237l37.3 37.3M3549.5 2274.3l37.3 -37.3M3553.1 2231.6l37.3 37.3M3553.1 2268.9l37.3 -37.3M3556.8 2234.9l37.3 37.3M3556.8 2272.2l37.3 -37.3M3560.4 2237.3l37.3 37.3M3560.4 2274.6l37.3 -37.3M3564 2240.9l37.3 37.3M3564 2278.2l37.3 -37.3M3567.7 2238.7l37.3 37.3M3567.7 2276l37.3 -37.3M3571.3 2233.9l37.3 37.3M3571.3 2271.2l37.3 -37.3M3575 2243.4l37.3 37.3M3575 2280.7l37.3 -37.3M3578.6 2248.2l37.3 37.3M3578.6 2285.5l37.3 -37.3M3582.2 2236.5l37.3 37.3M3582.2 2273.8l37.3 -37.3M3585.9 2243.6l37.3 37.3M3585.9 2280.9l37.3 -37.3M3589.5 2231l37.3 37.3M3589.5 2268.3l37.3 -37.3M3593.2 2228.9l37.3 37.3M3593.2 2266.2l37.3 -37.3M3596.8 2227.5l37.3 37.3M3596.8 2264.8l37.3 -37.3M3600.4 2239.5l37.3 37.3M3600.4 2276.8l37.3 -37.3M3604.1 2221.7l37.3 37.3M3604.1 2259l37.3 -37.3M3607.7 2223.3l37.3 37.3M3607.7 2260.6l37.3 -37.3M3611.4 2227.1l37.3 37.3M3611.4 2264.4l37.3 -37.3M3615 2221.4l37.3 37.3M3615 2258.7l37.3 -37.3M3618.6 2219.8l37.3 37.3M3618.6 2257.1l37.3 -37.3M3622.3 2228.5l37.3 37.3M3622.3 2265.8l37.3 -37.3M3625.9 2227l37.3 37.3M3625.9 2264.3l37.3 -37.3M3629.6 2221.8l37.3 37.3M3629.6 2259.1l37.3 -37.3M3633.2 2226.9l37.3 37.3M3633.2 2264.2l37.3 -37.3M3636.8 2035.9l37.3 37.3M3636.8 2073.2l37.3 -37.3M3640.5 2035.5l37.3 37.3M3640.5 2072.8l37.3 -37.3M3644.1 2033.2l37.3 37.3M3644.1 2070.5l37.3 -37.3M3647.8 2031.2l37.3 37.3M3647.8 2068.5l37.3 -37.3M3651.4 2025.3l37.3 37.3M3651.4 2062.6l37.3 -37.3M3655 2019.1l37.3 37.3M3655 2056.4l37.3 -37.3M3658.7 2016.6l37.3 37.3M3658.7 2053.9l37.3 -37.3M3662.3 2018l37.3 37.3M3662.3 2055.3l37.3 -37.3M3666 2017.5l37.3 37.3M3666 2054.8l37.3 -37.3M3669.6 2013.1l37.3 37.3M3669.6 2050.4l37.3 -37.3M3673.2 2016l37.3 37.3M3673.2 2053.3l37.3 -37.3M3676.9 2016l37.3 37.3M3676.9 2053.3l37.3 -37.3M3680.5 2009.2l37.3 37.3M3680.5 2046.5l37.3 -37.3M3684.1 2019.1l37.3 37.3M3684.1 2056.4l37.3 -37.3M3687.8 2018.6l37.3 37.3M3687.8 2055.9l37.3 -37.3M3691.4 2008.7l37.3 37.3M3691.4 2046l37.3 -37.3M3695.1 2017.8l37.3 37.3M3695.1 2055.1l37.3 -37.3M3698.7 2008.8l37.3 37.3M3698.7 2046.1l37.3 -37.3M3702.3 2013.1l37.3 37.3M3702.3 2050.4l37.3 -37.3M3706 2010.1l37.3 37.3M3706 2047.4l37.3 -37.3M3709.6 2011.2l37.3 37.3M3709.6 2048.5l37.3 -37.3M3713.3 2016.4l37.3 37.3M3713.3 2053.7l37.3 -37.3M3716.9 2022.1l37.3 37.3M3716.9 2059.4l37.3 -37.3M3720.5 2025.4l37.3 37.3M3720.5 2062.7l37.3 -37.3M3724.2 2039.5l37.3 37.3M3724.2 2076.8l37.3 -37.3M3727.8 2031.9l37.3 37.3M3727.8 2069.2l37.3 -37.3M3731.5 2029.2l37.3 37.3M3731.5 2066.5l37.3 -37.3M3735.1 2037.1l37.3 37.3M3735.1 2074.4l37.3 -37.3M3738.7 2033l37.3 37.3M3738.7 2070.3l37.3 -37.3M3742.4 2033l37.3 37.3M3742.4 2070.3l37.3 -37.3M3746 2025.8l37.3 37.3M3746 2063.1l37.3 -37.3M3749.7 2043.8l37.3 37.3M3749.7 2081.1l37.3 -37.3M3753.3 2041l37.3 37.3M3753.3 2078.3l37.3 -37.3M3756.9 2048.1l37.3 37.3M3756.9 2085.4l37.3 -37.3M3760.6 2040.9l37.3 37.3M3760.6 2078.2l37.3 -37.3M3764.2 2045.6l37.3 37.3M3764.2 2082.9l37.3 -37.3M3767.9 2036.7l37.3 37.3M3767.9 2074l37.3 -37.3M3771.5 2035.6l37.3 37.3M3771.5 2072.9l37.3 -37.3M3775.1 2042.4l37.3 37.3M3775.1 2079.7l37.3 -37.3M3778.8 2027.3l37.3 37.3M3778.8 2064.6l37.3 -37.3M3782.4 2038l37.3 37.3M3782.4 2075.3l37.3 -37.3M3786.1 2036.6l37.3 37.3M3786.1 2073.9l37.3 -37.3M3789.7 2020.7l37.3 37.3M3789.7 2058l37.3 -37.3M3793.3 2029.4l37.3 37.3M3793.3 2066.7l37.3 -37.3M3797 2032.8l37.3 37.3M3797 2070.1l37.3 -37.3M3800.6 2030l37.3 37.3M3800.6 2067.3l37.3 -37.3M3804.3 2030.9l37.3 37.3M3804.3 2068.2l37.3 -37.3M3807.9 2017.5l37.3 37.3M3807.9 2054.8l37.3 -37.3M3811.5 2016.5l37.3 37.3M3811.5 2053.8l37.3 -37.3M3815.2 2020.8l37.3 37.3M3815.2 2058.1l37.3 -37.3M3818.8 1988.8l37.3 37.3M3818.8 2026.1l37.3 -37.3M3822.5 2010.5l37.3 37.3M3822.5 2047.8l37.3 -37.3M3826.1 2012.8l37.3 37.3M3826.1 2050.1l37.3 -37.3M3829.7 2007.7l37.3 37.3M3829.7 2045l37.3 -37.3M3833.4 2005.8l37.3 37.3M3833.4 2043.1l37.3 -37.3M3837 2010.8l37.3 37.3M3837 2048.1l37.3 -37.3M3840.7 2001.4l37.3 37.3M3840.7 2038.7l37.3 -37.3M3844.3 1999.7l37.3 37.3M3844.3 2037l37.3 -37.3M3847.9 1983.4l37.3 37.3M3847.9 2020.7l37.3 -37.3M3851.6 2000.1l37.3 37.3M3851.6 2037.4l37.3 -37.3M3855.2 1994.1l37.3 37.3M3855.2 2031.4l37.3 -37.3M3858.9 1994.5l37.3 37.3M3858.9 2031.8l37.3 -37.3M3862.5 1991.7l37.3 37.3M3862.5 2029l37.3 -37.3M3866.1 1996.5l37.3 37.3M3866.1 2033.8l37.3 -37.3M3869.8 1997.7l37.3 37.3M3869.8 2035l37.3 -37.3M3873.4 1993.3l37.3 37.3M3873.4 2030.6l37.3 -37.3M3877 1988.2l37.3 37.3M3877 2025.5l37.3 -37.3M3880.7 1983.9l37.3 37.3M3880.7 2021.2l37.3 -37.3M3884.3 1991.3l37.3 37.3M3884.3 2028.6l37.3 -37.3M3888 2002.7l37.3 37.3M3888 2040l37.3 -37.3M3891.6 1995.8l37.3 37.3M3891.6 2033.1l37.3 -37.3M3895.2 1989.7l37.3 37.3M3895.2 2027l37.3 -37.3M3898.9 1990.5l37.3 37.3M3898.9 2027.8l37.3 -37.3M3902.5 1991.1l37.3 37.3M3902.5 2028.4l37.3 -37.3M3906.2 1997.3l37.3 37.3M3906.2 2034.6l37.3 -37.3M3909.8 1988.4l37.3 37.3M3909.8 2025.7l37.3 -37.3M3913.4 1987.1l37.3 37.3M3913.4 2024.4l37.3 -37.3M3917.1 1970.9l37.3 37.3M3917.1 2008.2l37.3 -37.3M3920.7 1987.7l37.3 37.3M3920.7 2025l37.3 -37.3M3924.4 1987.5l37.3 37.3M3924.4 2024.8l37.3 -37.3M3928 1983.7l37.3 37.3M3928 2021l37.3 -37.3M3931.6 1995.1l37.3 37.3M3931.6 2032.4l37.3 -37.3M3935.3 1990.5l37.3 37.3M3935.3 2027.8l37.3 -37.3M3938.9 1992.7l37.3 37.3M3938.9 2030l37.3 -37.3M3942.6 1992.6l37.3 37.3M3942.6 2029.9l37.3 -37.3M3946.2 1997.4l37.3 37.3M3946.2 2034.7l37.3 -37.3M3949.8 1999l37.3 37.3M3949.8 2036.3l37.3 -37.3M3953.5 1996l37.3 37.3M3953.5 2033.3l37.3 -37.3M3957.1 2012.6l37.3 37.3M3957.1 2049.9l37.3 -37.3M3960.8 2005.1l37.3 37.3M3960.8 2042.4l37.3 -37.3M3964.4 2007.5l37.3 37.3M3964.4 2044.8l37.3 -37.3M3968 2029.1l37.3 37.3M3968 2066.4l37.3 -37.3M3971.7 2010.7l37.3 37.3M3971.7 2048l37.3 -37.3M3975.3 2020.9l37.3 37.3M3975.3 2058.2l37.3 -37.3M3979 2019.2l37.3 37.3M3979 2056.5l37.3 -37.3M3982.6 2026.5l37.3 37.3M3982.6 2063.8l37.3 -37.3M3986.2 2025.6l37.3 37.3M3986.2 2062.9l37.3 -37.3M3989.9 2023.6l37.3 37.3M3989.9 2060.9l37.3 -37.3M3993.5 2027.8l37.3 37.3M3993.5 2065.1l37.3 -37.3M3997.2 2030.8l37.3 37.3M3997.2 2068.1l37.3 -37.3M4000.8 2032l37.3 37.3M4000.8 2069.3l37.3 -37.3M4004.4 2036.6l37.3 37.3M4004.4 2073.9l37.3 -37.3M4008.1 2043.7l37.3 37.3M4008.1 2081l37.3 -37.3M4011.7 2041.3l37.3 37.3M4011.7 2078.6l37.3 -37.3M4015.4 2040.3l37.3 37.3M4015.4 2077.6l37.3 -37.3M4019 2040.3l37.3 37.3M4019 2077.6l37.3 -37.3M4022.6 2039.6l37.3 37.3M4022.6 2076.9l37.3 -37.3M4026.3 2040.3l37.3 37.3M4026.3 2077.6l37.3 -37.3M4029.9 2045.8l37.3 37.3M4029.9 2083.1l37.3 -37.3M4033.6 2052l37.3 37.3M4033.6 2089.3l37.3 -37.3M4037.2 2040.9l37.3 37.3M4037.2 2078.2l37.3 -37.3M4040.8 2038.8l37.3 37.3M4040.8 2076.1l37.3 -37.3M4044.5 2041.3l37.3 37.3M4044.5 2078.6l37.3 -37.3M4048.1 2057.5l37.3 37.3M4048.1 2094.8l37.3 -37.3M4051.7 2058.5l37.3 37.3M4051.7 2095.8l37.3 -37.3M4055.4 2064.7l37.3 37.3M4055.4 2102l37.3 -37.3M4059 2067.5l37.3 37.3M4059 2104.8l37.3 -37.3M4062.7 2064.2l37.3 37.3M4062.7 2101.5l37.3 -37.3M4066.3 2064.5l37.3 37.3M4066.3 2101.8l37.3 -37.3M4069.9 2066l37.3 37.3M4069.9 2103.3l37.3 -37.3M4073.6 2070.5l37.3 37.3M4073.6 2107.8l37.3 -37.3M4077.2 2067.4l37.3 37.3M4077.2 2104.7l37.3 -37.3M4080.9 2067.2l37.3 37.3M4080.9 2104.5l37.3 -37.3M4084.5 2064.4l37.3 37.3M4084.5 2101.7l37.3 -37.3M4088.1 2075.5l37.3 37.3M4088.1 2112.8l37.3 -37.3M4091.8 2066.7l37.3 37.3M4091.8 2104l37.3 -37.3M4095.4 2069.2l37.3 37.3M4095.4 2106.5l37.3 -37.3M4099.1 2078.6l37.3 37.3M4099.1 2115.9l37.3 -37.3M4102.7 2057.7l37.3 37.3M4102.7 2095l37.3 -37.3M4106.3 2050.9l37.3 37.3M4106.3 2088.2l37.3 -37.3M4110 2060.5l37.3 37.3M4110 2097.8l37.3 -37.3M4113.6 2052.5l37.3 37.3M4113.6 2089.8l37.3 -37.3M4117.3 2055.9l37.3 37.3M4117.3 2093.2l37.3 -37.3M4120.9 2053.3l37.3 37.3M4120.9 2090.6l37.3 -37.3M4124.5 2047.8l37.3 37.3M4124.5 2085.1l37.3 -37.3M4128.2 2046.3l37.3 37.3M4128.2 2083.6l37.3 -37.3M4131.8 2041.7l37.3 37.3M4131.8 2079l37.3 -37.3M4135.5 2043.5l37.3 37.3M4135.5 2080.8l37.3 -37.3M4139.1 2039.8l37.3 37.3M4139.1 2077.1l37.3 -37.3M4142.7 2045.9l37.3 37.3M4142.7 2083.2l37.3 -37.3M4146.4 2035.2l37.3 37.3M4146.4 2072.5l37.3 -37.3M4150 2042.2l37.3 37.3M4150 2079.5l37.3 -37.3M4153.7 2044.5l37.3 37.3M4153.7 2081.8l37.3 -37.3M4157.3 2039.9l37.3 37.3M4157.3 2077.2l37.3 -37.3M4160.9 2027.9l37.3 37.3M4160.9 2065.2l37.3 -37.3M4164.6 2039.6l37.3 37.3M4164.6 2076.9l37.3 -37.3M4168.2 2041.5l37.3 37.3M4168.2 2078.8l37.3 -37.3M4171.9 2050.6l37.3 37.3M4171.9 2087.9l37.3 -37.3M4175.5 2043.7l37.3 37.3M4175.5 2081l37.3 -37.3M4179.1 2046l37.3 37.3M4179.1 2083.3l37.3 -37.3M4182.8 2058.8l37.3 37.3M4182.8 2096.1l37.3 -37.3M4186.4 2059.4l37.3 37.3M4186.4 2096.7l37.3 -37.3M4190.1 2067.3l37.3 37.3M4190.1 2104.6l37.3 -37.3M4193.7 2073.5l37.3 37.3M4193.7 2110.8l37.3 -37.3M4197.3 2075.9l37.3 37.3M4197.3 2113.2l37.3 -37.3M4201 2081.7l37.3 37.3M4201 2119l37.3 -37.3M4204.6 2081l37.3 37.3M4204.6 2118.3l37.3 -37.3M4208.3 2076.4l37.3 37.3M4208.3 2113.7l37.3 -37.3M4211.9 2086.2l37.3 37.3M4211.9 2123.5l37.3 -37.3M4215.5 2088.5l37.3 37.3M4215.5 2125.8l37.3 -37.3M4219.2 2079.7l37.3 37.3M4219.2 2117l37.3 -37.3M4222.8 2087.3l37.3 37.3M4222.8 2124.6l37.3 -37.3M4226.5 2077.6l37.3 37.3M4226.5 2114.9l37.3 -37.3M4230.1 2079.3l37.3 37.3M4230.1 2116.6l37.3 -37.3M4233.7 2086.7l37.3 37.3M4233.7 2124l37.3 -37.3M4237.4 2085.4l37.3 37.3M4237.4 2122.7l37.3 -37.3M4241 2091.2l37.3 37.3M4241 2128.5l37.3 -37.3M4244.6 2089.2l37.3 37.3M4244.6 2126.5l37.3 -37.3M4248.3 2086.2l37.3 37.3M4248.3 2123.5l37.3 -37.3M4251.9 2089.4l37.3 37.3M4251.9 2126.7l37.3 -37.3M4255.6 2087.5l37.3 37.3M4255.6 2124.8l37.3 -37.3M4259.2 2094.2l37.3 37.3M4259.2 2131.5l37.3 -37.3M4262.8 2087.6l37.3 37.3M4262.8 2124.9l37.3 -37.3M4266.5 2107.5l37.3 37.3M4266.5 2144.8l37.3 -37.3M4270.1 2091.9l37.3 37.3M4270.1 2129.2l37.3 -37.3M4273.8 2097l37.3 37.3M4273.8 2134.3l37.3 -37.3M4277.4 2097.4l37.3 37.3M4277.4 2134.7l37.3 -37.3M4281 2088.4l37.3 37.3M4281 2125.7l37.3 -37.3M4284.7 2098.7l37.3 37.3M4284.7 2136l37.3 -37.3M4288.3 2088.6l37.3 37.3M4288.3 2125.9l37.3 -37.3M4292 2095.4l37.3 37.3M4292 2132.7l37.3 -37.3M4295.6 2091.1l37.3 37.3M4295.6 2128.4l37.3 -37.3M4299.2 2085.3l37.3 37.3M4299.2 2122.6l37.3 -37.3M4302.9 2089.7l37.3 37.3M4302.9 2127l37.3 -37.3M4306.5 2087.7l37.3 37.3M4306.5 2125l37.3 -37.3M4310.2 2080.4l37.3 37.3M4310.2 2117.7l37.3 -37.3M4313.8 2079.3l37.3 37.3M4313.8 2116.6l37.3 -37.3M4317.4 2078.6l37.3 37.3M4317.4 2115.9l37.3 -37.3M4321.1 2071l37.3 37.3M4321.1 2108.3l37.3 -37.3M767.4 2369.7l37.3 37.3M767.4 2407l37.3 -37.3M624.4 2376.3l37.3 37.3M624.4 2413.7l37.3 -37.3M882.4 2348.8l37.3 37.3M882.4 2386.1l37.3 -37.3M941.4 2341.3l37.3 37.3M941.4 2378.7l37.3 -37.3M1320 2365.3l37.3 37.3M1320 2402.7l37.3 -37.3M1222.3 2330.3l37.3 37.3M1222.3 2367.7l37.3 -37.3M1381 2351.3l37.3 37.3M1381 2388.7l37.3 -37.3M1410.3 2347.9l37.3 37.3M1410.3 2385.2l37.3 -37.3M1774.8 2156.3l37.3 37.3M1774.8 2193.7l37.3 -37.3M1865.3 2301.9l37.3 37.3M1865.3 2339.2l37.3 -37.3M1562.1 2288.8l37.3 37.3M1562.1 2326.1l37.3 -37.3M2108.5 2090.2l37.3 37.3M2108.5 2127.6l37.3 -37.3M2111.3 2112.2l37.3 37.3M2111.3 2149.5l37.3 -37.3M2117.7 2217.3l37.3 37.3M2117.7 2254.7l37.3 -37.3M2422.2 2269.7l37.3 37.3M2422.2 2307l37.3 -37.3M2423.3 2272.3l37.3 37.3M2423.3 2309.7l37.3 -37.3M3369.3 2256.7l37.3 37.3M3369.3 2294l37.3 -37.3M3373.3 2257.3l37.3 37.3M3373.3 2294.7l37.3 -37.3M3377.3 2256.7l37.3 37.3M3377.3 2294l37.3 -37.3M3310.3 2230.3l37.3 37.3M3310.3 2267.7l37.3 -37.3M3731.8 1957.9l37.3 37.3M3731.8 1995.2l37.3 -37.3M3736 1975.3l37.3 37.3M3736 2012.7l37.3 -37.3M3746.5 2081.7l37.3 37.3M3746.5 2119l37.3 -37.3M3970.5 2053.8l37.3 37.3M3970.5 2091.1l37.3 -37.3M4119.2 2118.9l37.3 37.3M4119.2 2156.2l37.3 -37.3M4279.4 2293.5l37.3 37.3M4279.4 2330.8l37.3 -37.3M4320.2 2042.3l37.3 37.3M4320.2 2079.7l37.3 -37.3M4275.9 2060.9l37.3 37.3M4275.9 2098.2l37.3 -37.3M2518.2 2654.8l37.3 37.3M2518.2 2692.1l37.3 -37.3M419.4 2324.3l37.3 37.3M419.4 2361.7l37.3 -37.3M423 2325.3l37.3 37.3M423 2362.7l37.3 -37.3M426.4 2324.3l37.3 37.3M426.4 2361.7l37.3 -37.3"/>
<path class="m" stroke="#2035fc" d="M343 1590.8h37.3m-18.6 -18.6v37.3m-18.6 0l37.3 -37.3m-37.3 0l37.3 37.3M346.6 1589.5h37.3m-18.6 -18.6v37.3m-18.6 0l37.3 -37.3m-37.3 0l37.3 37.3M350.3 1590.5h37.3m-18.6 -18.6v37.3m-18.6 0l37.3 -37.3m-37.3 0l37.3 37.3M353.9 1591h37.3m-18.6 -18.6v37.3m-18.6 0l37.3 -37.3m-37.3 0l37.3 37.3M357.5 1591.8h37.3m-18.6 -18.6v37.3m-18.6 0l37.3 -37.3m-37.3 0l37.3 37.3M361.2 1594.1h37.3m-18.6 -18.6v37.3m-18.6 0l37.3 -37.3m-37.3 0l37.3 37.3M364.8 1587.7h37.3m-18.6 -18.6v37.3m-18.6 0l37.3 -37.3m-37.3 0l37.3 37.3M368.5 1593.5h37.3m-18.6 -18.6v37.3m-18.6 0l37.3 -37.3m-37.3 0l37.3 37.3M372.1 1593.1h37.3m-18.6 -18.6v37.3m-18.6 0l37.3 -37.3m-37.3 0l37.3 37.3M375.7 1590.1h37.3m-18.6 -18.6v37.3m-18.6 0l37.3 -37.3m-37.3 0l37.3 37.3M379.4 1590.9h37.3m-18.6 -18.6v37.3m-18.6 0l37.3 -37.3m-37.3 0l37.3 37.3M383 1591.4h37.3m-18.6 -18.6v37.3m-18.6 0l37.3 -37.3m-37.3 0l37.3 37.3M386.7 1591.4h37.3m-18.6 -18.6v37.3m-18.6 0l37.3 -37.3m-37.3 0l37.3 37.3M390.3 1592.6h37.3m-18.6 -18.6v37.3m-18.6 0l37.3 -37.3m-37.3 0l37.3 37.3M393.9 1585.3h37.3m-18.6 -18.6v37.3m-18.6 0l37.3 -37.3m-37.3 0l37.3 37.3M397.6 1590.8h37.3m-18.6 -18.6v37.3m-18.6 0l37.3 -37.3m-37.3 0l37.3 37.3M401.2 1593.4h37.3m-18.6 -18.6v37.3m-18.6 0l37.3 -37.3m-37.3 0l37.3 37.3M404.9 1593.7h37.3m-18.6 -18.6v37.3m-18.6 0l37.3 -37.3m-37.3 0l37.3 37.3M408.5 1588.3h37.3m-18.6 -18.6v37.3m-18.6 0l37.3 -37.3m-37.3 0l37.3 37.3M412.1 1595h37.3m-18.6 -18.6v37.3m-18.6 0l37.3 -37.3m-37.3 0l37.3 37.3M415.8 1590.9h37.3m-18.6 -18.6v37.3m-18.6 0l37.3 -37.3m-37.3 0l37.3 37.3M419.4 1592h37.3m-18.6 -18.6v37.3m-18.6 0l37.3 -37.3m-37.3 0l37.3 37.3M423.1 1595.6h37.3m-18.6 -18.6v37.3m-18.6 0l37.3 -37.3m-37.3 0l37.3 37.3M426.7 1591.7h37.3m-18.6 -18.6v37.3m-18.6 0l37.3 -37.3m-37.3 0l37.3 37.3M430.3 1591.5h37.3m-18.6 -18.6v37.3m-18.6 0l37.3 -37.3m-37.3 0l37.3 37.3M434 1592.2h37.3m-18.6 -18.6v37.3m-18.6 0l37.3 -37.3m-37.3 0l37.3 37.3M437.6 1592.8h37.3m-18.6 -18.6v37.3m-18.6 0l37.3 -37.3m-37.3 0l37.3 37.3M441.3 1591h37.3m-18.6 -18.6v37.3m-18.6 0l37.3 -37.3m-37.3 0l37.3 37.3M444.9 1589.9h37.3m-18.6 -18.6v37.3m-18.6 0l37.3 -37.3m-37.3 0l37.3 37.3M448.5 1591.1h37.3m-18.6 -18.6v37.3m-18.6 0l37.3 -37.3m-37.3 0l37.3 37.3M452.2 1591.2h37.3m-18.6 -18.6v37.3m-18.6 0l37.3 -37.3m-37.3 0l37.3 37.3M455.8 1591.3h37.3m-18.6 -18.6v37.3m-18.6 0l37.3 -37.3m-37.3 0l37.3 37.3M459.5 1593.6h37.3m-18.6 -18.6v37.3m-18.6 0l37.3 -37.3m-37.3 0l37.3 37.3M463.1 1591.7h37.3m-18.6 -18.6v37.3m-18.6 0l37.3 -37.3m-37.3 0l37.3 37.3M466.7 1589.7h37.3m-18.6 -18.6v37.3m-18.6 0l37.3 -37.3m-37.3 0l37.3 37.3M470.4 1590h37.3m-18.6 -18.6v37.3m-18.6 0l37.3 -37.3m-37.3 0l37.3 37.3M474 1588.8h37.3m-18.6 -18.6v37.3m-18.6 0l37.3 -37.3m-37.3 0l37.3 37.3M477.7 1590.4h37.3m-18.6 -18.6v37.3m-18.6 0l37.3 -37.3m-37.3 0l37.3 37.3M481.3 1587h37.3m-18.6 -18.6v37.3m-18.6 0l37.3 -37.3m-37.3 0l37.3 37.3M484.9 1583.6h37.3m-18.6 -18.6v37.3m-18.6 0l37.3 -37.3m-37.3 0l37.3 37.3M488.6 1589.4h37.3m-18.6 -18.6v37.3m-18.6 0l37.3 -37.3m-37.3 0l37.3 37.3M492.2 1592.7h37.3m-18.6 -18.6v37.3m-18.6 0l37.3 -37.3m-37.3 0l37.3 37.3M495.9 1591h37.3m-18.6 -18.6v37.3m-18.6 0l37.3 -37.3m-37.3 0l37.3 37.3M499.5 1584.4h37.3m-18.6 -18.6v37.3m-18.6 0l37.3 -37.3m-37.3 0l37.3 37.3M503.1 1581.1h37.3m-18.6 -18.6v37.3m-18.6 0l37.3 -37.3m-37.3 0l37.3 37.3M506.8 1578.8h37.3m-18.6 -18.6v37.3m-18.6 0l37.3 -37.3m-37.3 0l37.3 37.3M510.4 1578.8h37.3m-18.6 -18.6v37.3m-18.6 0l37.3 -37.3m-37.3 0l37.3 37.3M514.1 1583.5h37.3m-18.6 -18.6v37.3m-18.6 0l37.3 -37.3m-37.3 0l37.3 37.3M517.7 1579.8h37.3m-18.6 -18.6v37.3m-18.6 0l37.3 -37.3m-37.3 0l37.3 37.3M521.3 1580h37.3m-18.6 -18.6v37.3m-18.6 0l37.3 -37.3m-37.3 0l37.3 37.3M525 1580.8h37.3m-18.6 -18.6v37.3m-18.6 0l37.3 -37.3m-37.3 0l37.3 37.3M528.6 1580.9h37.3m-18.6 -18.6v37.3m-18.6 0l37.3 -37.3m-37.3 0l37.3 37.3M532.2 1581.6h37.3m-18.6 -18.6v37.3m-18.6 0l37.3 -37.3m-37.3 0l37.3 37.3M535.9 1585.2h37.3m-18.6 -18.6v37.3m-18.6 0l37.3 -37.3m-37.3 0l37.3 37.3M539.5 1580.9h37.3m-18.6 -18.6v37.3m-18.6 0l37.3 -37.3m-37.3 0l37.3 37.3M543.2 1580.4h37.3m-18.6 -18.6v37.3m-18.6 0l37.3 -37.3m-37.3 0l37.3 37.3M546.8 1579.7h37.3m-18.6 -18.6v37.3m-18.6 0l37.3 -37.3m-37.3 0l37.3 37.3M550.4 1577.6h37.3m-18.6 -18.6v37.3m-18.6 0l37.3 -37.3m-37.3 0l37.3 37.3M554.1 1574.5h37.3m-18.6 -18.6v37.3m-18.6 0l37.3 -37.3m-37.3 0l37.3 37.3M557.7 1577.1h37.3m-18.6 -18.6v37.3m-18.6 0l37.3 -37.3m-37.3 0l37.3 37.3M561.4 1578.8h37.3m-18.6 -18.6v37.3m-18.6 0l37.3 -37.3m-37.3 0l37.3 37.3M565 1579.1h37.3m-18.6 -18.6v37.3m-18.6 0l37.3 -37.3m-37.3 0l37.3 37.3M568.6 1577.8h37.3m-18.6 -18.6v37.3m-18.6 0l37.3 -37.3m-37.3 0l37.3 37.3M572.3 1577.4h37.3m-18.6 -18.6v37.3m-18.6 0l37.3 -37.3m-37.3 0l37.3 37.3M575.9 1577.9h37.3m-18.6 -18.6v37.3m-18.6 0l37.3 -37.3m-37.3 0l37.3 37.3M579.6 1581.1h37.3m-18.6 -18.6v37.3m-18.6 0l37.3 -37.3m-37.3 0l37.3 37.3M583.2 1580.2h37.3m-18.6 -18.6v37.3m-18.6 0l37.3 -37.3m-37.3 0l37.3 37.3M586.8 1581.6h37.3m-18.6 -18.6v37.3m-18.6 0l37.3 -37.3m-37.3 0l37.3 37.3M590.5 1580.5h37.3m-18.6 -18.6v37.3m-18.6 0l37.3 -37.3m-37.3 0l37.3 37.3M594.1 1577.9h37.3m-18.6 -18.6v37.3m-18.6 0l37.3 -37.3m-37.3 0l37.3 37.3M597.8 1577.6h37.3m-18.6 -18.6v37.3m-18.6 0l37.3 -37.3m-37.3 0l37.3 37.3M601.4 1575.5h37.3m-18.6 -18.6v37.3m-18.6 0l37.3 -37.3m-37.3 0l37.3 37.3M605 1576.4h37.3m-18.6 -18.6v37.3m-18.6 0l37.3 -37.3m-37.3 0l37.3 37.3M608.7 1572.3h37.3m-18.6 -18.6v37.3m-18.6 0l37.3 -37.3m-37.3 0l37.3 37.3M612.3 1575.1h37.3m-18.6 -18.6v37.3m-18.6 0l37.3 -37.3m-37.3 0l37.3 37.3M616 1571.6h37.3m-18.6 -18.6v37.3m-18.6 0l37.3 -37.3m-37.3 0l37.3 37.3M619.6 1570.4h37.3m-18.6 -18.6v37.3m-18.6 0l37.3 -37.3m-37.3 0l37.3 37.3M623.2 1570.2h37.3m-18.6 -18.6v37.3m-18.6 0l37.3 -37.3m-37.3 0l37.3 37.3M626.9 1573.1h37.3m-18.6 -18.6v37.3m-18.6 0l37.3 -37.3m-37.3 0l37.3 37.3M630.5 1574.8h37.3m-18.6 -18.6v37.3m-18.6 0l37.3 -37.3m-37.3 0l37.3 37.3M634.2 1589.5h37.3m-18.6 -18.6v37.3m-18.6 0l37.3 -37.3m-37.3 0l37.3 37.3M637.8 1591.5h37.3m-18.6 -18.6v37.3m-18.6 0l37.3 -37.3m-37.3 0l37.3 37.3M641.4 1594.9h37.3m-18.6 -18.6v37.3m-18.6 0l37.3 -37.3m-37.3 0l37.3 37.3M645.1 1595h37.3m-18.6 -18.6v37.3m-18.6 0l37.3 -37.3m-37.3 0l37.3 37.3M648.7 1590.3h37.3m-18.6 -18.6v37.3m-18.6 0l37.3 -37.3m-37.3 0l37.3 37.3M652.4 1593.9h37.3m-18.6 -18.6v37.3m-18.6 0l37.3 -37.3m-37.3 0l37.3 37.3M656 1588.8h37.3m-18.6 -18.6v37.3m-18.6 0l37.3 -37.3m-37.3 0l37.3 37.3M659.6 1592.1h37.3m-18.6 -18.6v37.3m-18.6 0l37.3 -37.3m-37.3 0l37.3 37.3M663.3 1592.2h37.3m-18.6 -18.6v37.3m-18.6 0l37.3 -37.3m-37.3 0l37.3 37.3M666.9 1589.2h37.3m-18.6 -18.6v37.3m-18.6 0l37.3 -37.3m-37.3 0l37.3 37.3M670.6 1590.2h37.3m-18.6 -18.6v37.3m-18.6 0l37.3 -37.3m-37.3 0l37.3 37.3M674.2 1589.3h37.3m-18.6 -18.6v37.3m-18.6 0l37.3 -37.3m-37.3 0l37.3 37.3M677.8 1591.7h37.3m-18.6 -18.6v37.3m-18.6 0l37.3 -37.3m-37.3 0l37.3 37.3M681.5 1589.3h37.3m-18.6 -18.6v37.3m-18.6 0l37.3 -37.3m-37.3 0l37.3 37.3M685.1 1591.4h37.3m-18.6 -18.6v37.3m-18.6 0l37.3 -37.3m-37.3 0l37.3 37.3M688.8 1592.3h37.3m-18.6 -18.6v37.3m-18.6 0l37.3 -37.3m-37.3 0l37.3 37.3M692.4 1588.6h37.3m-18.6 -18.6v37.3m-18.6 0l37.3 -37.3m-37.3 0l37.3 37.3M696 1590.8h37.3m-18.6 -18.6v37.3m-18.6 0l37.3 -37.3m-37.3 0l37.3 37.3M699.7 1591.3h37.3m-18.6 -18.6v37.3m-18.6 0l37.3 -37.3m-37.3 0l37.3 37.3M703.3 1589h37.3m-18.6 -18.6v37.3m-18.6 0l37.3 -37.3m-37.3 0l37.3 37.3M707 1590.6h37.3m-18.6 -18.6v37.3m-18.6 0l37.3 -37.3m-37.3 0l37.3 37.3M710.6 1588.7h37.3m-18.6 -18.6v37.3m-18.6 0l37.3 -37.3m-37.3 0l37.3 37.3M714.2 1593.2h37.3m-18.6 -18.6v37.3m-18.6 0l37.3 -37.3m-37.3 0l37.3 37.3M717.9 1587.1h37.3m-18.6 -18.6v37.3m-18.6 0l37.3 -37.3m-37.3 0l37.3 37.3M721.5 1585.5h37.3m-18.6 -18.6v37.3m-18.6 0l37.3 -37.3m-37.3 0l37.3 37.3M725.1 1589.4h37.3m-18.6 -18.6v37.3m-18.6 0l37.3 -37.3m-37.3 0l37.3 37.3M728.8 1591.8h37.3m-18.6 -18.6v37.3m-18.6 0l37.3 -37.3m-37.3 0l37.3 37.3M732.4 1590.4h37.3m-18.6 -18.6v37.3m-18.6 0l37.3 -37.3m-37.3 0l37.3 37.3M736.1 1567.3h37.3m-18.6 -18.6v37.3m-18.6 0l37.3 -37.3m-37.3 0l37.3 37.3M739.7 1565.4h37.3m-18.6 -18.6v37.3m-18.6 0l37.3 -37.3m-37.3 0l37.3 37.3M743.3 1567.3h37.3m-18.6 -18.6v37.3m-18.6 0l37.3 -37.3m-37.3 0l37.3 37.3M747 1563.8h37.3m-18.6 -18.6v37.3m-18.6 0l37.3 -37.3m-37.3 0l37.3 37.3M750.6 1568.6h37.3m-18.6 -18.6v37.3m-18.6 0l37.3 -37.3m-37.3 0l37.3 37.3M754.3 1562h37.3m-18.6 -18.6v37.3m-18.6 0l37.3 -37.3m-37.3 0l37.3 37.3M757.9 1567.5h37.3m-18.6 -18.6v37.3m-18.6 0l37.3 -37.3m-37.3 0l37.3 37.3M761.5 1564.9h37.3m-18.6 -18.6v37.3m-18.6 0l37.3 -37.3m-37.3 0l37.3 37.3M765.2 1566h37.3m-18.6 -18.6v37.3m-18.6 0l37.3 -37.3m-37.3 0l37.3 37.3M768.8 1564.4h37.3m-18.6 -18.6v37.3m-18.6 0l37.3 -37.3m-37.3 0l37.3 37.3M772.5 1569.9h37.3m-18.6 -18.6v37.3m-18.6 0l37.3 -37.3m-37.3 0l37.3 37.3M776.1 1562.2h37.3m-18.6 -18.6v37.3m-18.6 0l37.3 -37.3m-37.3 0l37.3 37.3M779.7 1564.7h37.3m-18.6 -18.6v37.3m-18.6 0l37.3 -37.3m-37.3 0l37.3 37.3M783.4 1566.9h37.3m-18.6 -18.6v37.3m-18.6 0l37.3 -37.3m-37.3 0l37.3 37.3M787 1568.3h37.3m-18.6 -18.6v37.3m-18.6 0l37.3 -37.3m-37.3 0l37.3 37.3M790.7 1564.8h37.3m-18.6 -18.6v37.3m-18.6 0l37.3 -37.3m-37.3 0l37.3 37.3M794.3 1566.8h37.3m-18.6 -18.6v37.3m-18.6 0l37.3 -37.3m-37.3 0l37.3 37.3M797.9 1566.5h37.3m-18.6 -18.6v37.3m-18.6 0l37.3 -37.3m-37.3 0l37.3 37.3M801.6 1568.8h37.3m-18.6 -18.6v37.3m-18.6 0l37.3 -37.3m-37.3 0l37.3 37.3M805.2 1568.9h37.3m-18.6 -18.6v37.3m-18.6 0l37.3 -37.3m-37.3 0l37.3 37.3M808.9 1565.4h37.3m-18.6 -18.6v37.3m-18.6 0l37.3 -37.3m-37.3 0l37.3 37.3M812.5 1567.9h37.3m-18.6 -18.6v37.3m-18.6 0l37.3 -37.3m-37.3 0l37.3 37.3M816.1 1568.3h37.3m-18.6 -18.6v37.3m-18.6 0l37.3 -37.3m-37.3 0l37.3 37.3M819.8 1569h37.3m-18.6 -18.6v37.3m-18.6 0l37.3 -37.3m-37.3 0l37.3 37.3M823.4 1569.2h37.3m-18.6 -18.6v37.3m-18.6 0l37.3 -37.3m-37.3 0l37.3 37.3M827.1 1568h37.3m-18.6 -18.6v37.3m-18.6 0l37.3 -37.3m-37.3 0l37.3 37.3M830.7 1564.6h37.3m-18.6 -18.6v37.3m-18.6 0l37.3 -37.3m-37.3 0l37.3 37.3M834.3 1566h37.3m-18.6 -18.6v37.3m-18.6 0l37.3 -37.3m-37.3 0l37.3 37.3M838 1561.4h37.3m-18.6 -18.6v37.3m-18.6 0l37.3 -37.3m-37.3 0l37.3 37.3M841.6 1565.3h37.3m-18.6 -18.6v37.3m-18.6 0l37.3 -37.3m-37.3 0l37.3 37.3M845.3 1560.6h37.3m-18.6 -18.6v37.3m-18.6 0l37.3 -37.3m-37.3 0l37.3 37.3M848.9 1566.4h37.3m-18.6 -18.6v37.3m-18.6 0l37.3 -37.3m-37.3 0l37.3 37.3M852.5 1563.2h37.3m-18.6 -18.6v37.3m-18.6 0l37.3 -37.3m-37.3 0l37.3 37.3M856.2 1563.9h37.3m-18.6 -18.6v37.3m-18.6 0l37.3 -37.3m-37.3 0l37.3 37.3M859.8 1567.3h37.3m-18.6 -18.6v37.3m-18.6 0l37.3 -37.3m-37.3 0l37.3 37.3M863.5 1570.3h37.3m-18.6 -18.6v37.3m-18.6 0l37.3 -37.3m-37.3 0l37.3 37.3M867.1 1579.4h37.3m-18.6 -18.6v37.3m-18.6 0l37.3 -37.3m-37.3 0l37.3 37.3M870.7 1584.6h37.3m-18.6 -18.6v37.3m-18.6 0l37.3 -37.3m-37.3 0l37.3 37.3M874.4 1582.9h37.3m-18.6 -18.6v37.3m-18.6 0l37.3 -37.3m-37.3 0l37.3 37.3M878 1587.2h37.3m-18.6 -18.6v37.3m-18.6 0l37.3 -37.3m-37.3 0l37.3 37.3M881.7 1587.7h37.3m-18.6 -18.6v37.3m-18.6 0l37.3 -37.3m-37.3 0l37.3 37.3M885.3 1588.2h37.3m-18.6 -18.6v37.3m-18.6 0l37.3 -37.3m-37.3 0l37.3 37.3M888.9 1583.5h37.3m-18.6 -18.6v37.3m-18.6 0l37.3 -37.3m-37.3 0l37.3 37.3M892.6 1587.8h37.3m-18.6 -18.6v37.3m-18.6 0l37.3 -37.3m-37.3 0l37.3 37.3M896.2 1585.8h37.3m-18.6 -18.6v37.3m-18.6 0l37.3 -37.3m-37.3 0l37.3 37.3M899.8 1583.7h37.3m-18.6 -18.6v37.3m-18.6 0l37.3 -37.3m-37.3 0l37.3 37.3M903.5 1588.2h37.3m-18.6 -18.6v37.3m-18.6 0l37.3 -37.3m-37.3 0l37.3 37.3M907.1 1582.9h37.3m-18.6 -18.6v37.3m-18.6 0l37.3 -37.3m-37.3 0l37.3 37.3M910.8 1587h37.3m-18.6 -18.6v37.3m-18.6 0l37.3 -37.3m-37.3 0l37.3 37.3M914.4 1583.1h37.3m-18.6 -18.6v37.3m-18.6 0l37.3 -37.3m-37.3 0l37.3 37.3M918 1583h37.3m-18.6 -18.6v37.3m-18.6 0l37.3 -37.3m-37.3 0l37.3 37.3M921.7 1579.8h37.3m-18.6 -18.6v37.3m-18.6 0l37.3 -37.3m-37.3 0l37.3 37.3M925.3 1585.3h37.3m-18.6 -18.6v37.3m-18.6 0l37.3 -37.3m-37.3 0l37.3 37.3M929 1580.1h37.3m-18.6 -18.6v37.3m-18.6 0l37.3 -37.3m-37.3 0l37.3 37.3M932.6 1580.5h37.3m-18.6 -18.6v37.3m-18.6 0l37.3 -37.3m-37.3 0l37.3 37.3M936.2 1583h37.3m-18.6 -18.6v37.3m-18.6 0l37.3 -37.3m-37.3 0l37.3 37.3M939.9 1583.7h37.3m-18.6 -18.6v37.3m-18.6 0l37.3 -37.3m-37.3 0l37.3 37.3M943.5 1582.3h37.3m-18.6 -18.6v37.3m-18.6 0l37.3 -37.3m-37.3 0l37.3 37.3M947.2 1583.7h37.3m-18.6 -18.6v37.3m-18.6 0l37.3 -37.3m-37.3 0l37.3 37.3M950.8 1579.9h37.3m-18.6 -18.6v37.3m-18.6 0l37.3 -37.3m-37.3 0l37.3 37.3M954.4 1583.4h37.3m-18.6 -18.6v37.3m-18.6 0l37.3 -37.3m-37.3 0l37.3 37.3M958.1 1582.6h37.3m-18.6 -18.6v37.3m-18.6 0l37.3 -37.3m-37.3 0l37.3 37.3M961.7 1585.2h37.3m-18.6 -18.6v37.3m-18.6 0l37.3 -37.3m-37.3 0l37.3 37.3M965.4 1584.5h37.3m-18.6 -18.6v37.3m-18.6 0l37.3 -37.3m-37.3 0l37.3 37.3M969 1587.3h37.3m-18.6 -18.6v37.3m-18.6 0l37.3 -37.3m-37.3 0l37.3 37.3M972.6 1591.8h37.3m-18.6 -18.6v37.3m-18.6 0l37.3 -37.3m-37.3 0l37.3 37.3M976.3 1589h37.3m-18.6 -18.6v37.3m-18.6 0l37.3 -37.3m-37.3 0l37.3 37.3M979.9 1595h37.3m-18.6 -18.6v37.3m-18.6 0l37.3 -37.3m-37.3 0l37.3 37.3M983.6 1590.5h37.3m-18.6 -18.6v37.3m-18.6 0l37.3 -37.3m-37.3 0l37.3 37.3M987.2 1591.2h37.3m-18.6 -18.6v37.3m-18.6 0l37.3 -37.3m-37.3 0l37.3 37.3M990.8 1592.3h37.3m-18.6 -18.6v37.3m-18.6 0l37.3 -37.3m-37.3 0l37.3 37.3M994.5 1591.2h37.3m-18.6 -18.6v37.3m-18.6 0l37.3 -37.3m-37.3 0l37.3 37.3M998.1 1591.8h37.3m-18.6 -18.6v37.3m-18.6 0l37.3 -37.3m-37.3 0l37.3 37.3M1001.8 1594.7h37.3m-18.6 -18.6v37.3m-18.6 0l37.3 -37.3m-37.3 0l37.3 37.3M1005.4 1593.6h37.3m-18.6 -18.6v37.3m-18.6 0l37.3 -37.3m-37.3 0l37.3 37.3M1009 1587.9h37.3m-18.6 -18.6v37.3m-18.6 0l37.3 -37.3m-37.3 0l37.3 37.3M1012.7 1592h37.3m-18.6 -18.6v37.3m-18.6 0l37.3 -37.3m-37.3 0l37.3 37.3M1016.3 1592.8h37.3m-18.6 -18.6v37.3m-18.6 0l37.3 -37.3m-37.3 0l37.3 37.3M1020 1593.9h37.3m-18.6 -18.6v37.3m-18.6 0l37.3 -37.3m-37.3 0l37.3 37.3M1023.6 1594h37.3m-18.6 -18.6v37.3m-18.6 0l37.3 -37.3m-37.3 0l37.3 37.3M1027.2 1592.3h37.3m-18.6 -18.6v37.3m-18.6 0l37.3 -37.3m-37.3 0l37.3 37.3M1030.9 1594.7h37.3m-18.6 -18.6v37.3m-18.6 0l37.3 -37.3m-37.3 0l37.3 37.3M1034.5 1595.3h37.3m-18.6 -18.6v37.3m-18.6 0l37.3 -37.3m-37.3 0l37.3 37.3M1038.2 1592h37.3m-18.6 -18.6v37.3m-18.6 0l37.3 -37.3m-37.3 0l37.3 37.3M1041.8 1605.3h37.3m-18.6 -18.6v37.3m-18.6 0l37.3 -37.3m-37.3 0l37.3 37.3M1045.4 1625.1h37.3m-18.6 -18.6v37.3m-18.6 0l37.3 -37.3m-37.3 0l37.3 37.3M1049.1 1623.6h37.3m-18.6 -18.6v37.3m-18.6 0l37.3 -37.3m-37.3 0l37.3 37.3M1052.7 1624.7h37.3m-18.6 -18.6v37.3m-18.6 0l37.3 -37.3m-37.3 0l37.3 37.3M1056.4 1626.7h37.3m-18.6 -18.6v37.3m-18.6 0l37.3 -37.3m-37.3 0l37.3 37.3M1060 1627.3h37.3m-18.6 -18.6v37.3m-18.6 0l37.3 -37.3m-37.3 0l37.3 37.3M1063.6 1626.9h37.3m-18.6 -18.6v37.3m-18.6 0l37.3 -37.3m-37.3 0l37.3 37.3M1067.3 1628.2h37.3m-18.6 -18.6v37.3m-18.6 0l37.3 -37.3m-37.3 0l37.3 37.3M1070.9 1630.9h37.3m-18.6 -18.6v37.3m-18.6 0l37.3 -37.3m-37.3 0l37.3 37.3M1074.6 1630.7h37.3m-18.6 -18.6v37.3m-18.6 0l37.3 -37.3m-37.3 0l37.3 37.3M1078.2 1630.5h37.3m-18.6 -18.6v37.3m-18.6 0l37.3 -37.3m-37.3 0l37.3 37.3M1081.8 1630.9h37.3m-18.6 -18.6v37.3m-18.6 0l37.3 -37.3m-37.3 0l37.3 37.3M1085.5 1631h37.3m-18.6 -18.6v37.3m-18.6 0l37.3 -37.3m-37.3 0l37.3 37.3M1089.1 1629h37.3m-18.6 -18.6v37.3m-18.6 0l37.3 -37.3m-37.3 0l37.3 37.3M1092.7 1633.2h37.3m-18.6 -18.6v37.3m-18.6 0l37.3 -37.3m-37.3 0l37.3 37.3M1096.4 1635.1h37.3m-18.6 -18.6v37.3m-18.6 0l37.3 -37.3m-37.3 0l37.3 37.3M1100 1632.3h37.3m-18.6 -18.6v37.3m-18.6 0l37.3 -37.3m-37.3 0l37.3 37.3M1103.7 1635.8h37.3m-18.6 -18.6v37.3m-18.6 0l37.3 -37.3m-37.3 0l37.3 37.3M1107.3 1639.7h37.3m-18.6 -18.6v37.3m-18.6 0l37.3 -37.3m-37.3 0l37.3 37.3M1110.9 1645.1h37.3m-18.6 -18.6v37.3m-18.6 0l37.3 -37.3m-37.3 0l37.3 37.3M1114.6 1645.3h37.3m-18.6 -18.6v37.3m-18.6 0l37.3 -37.3m-37.3 0l37.3 37.3M1118.2 1643.2h37.3m-18.6 -18.6v37.3m-18.6 0l37.3 -37.3m-37.3 0l37.3 37.3M1121.9 1645.3h37.3m-18.6 -18.6v37.3m-18.6 0l37.3 -37.3m-37.3 0l37.3 37.3M1125.5 1644.3h37.3m-18.6 -18.6v37.3m-18.6 0l37.3 -37.3m-37.3 0l37.3 37.3M1129.1 1646.6h37.3m-18.6 -18.6v37.3m-18.6 0l37.3 -37.3m-37.3 0l37.3 37.3M1132.8 1643.5h37.3m-18.6 -18.6v37.3m-18.6 0l37.3 -37.3m-37.3 0l37.3 37.3M1136.4 1648.4h37.3m-18.6 -18.6v37.3m-18.6 0l37.3 -37.3m-37.3 0l37.3 37.3M1140.1 1649.3h37.3m-18.6 -18.6v37.3m-18.6 0l37.3 -37.3m-37.3 0l37.3 37.3M1143.7 1643.6h37.3m-18.6 -18.6v37.3m-18.6 0l37.3 -37.3m-37.3 0l37.3 37.3M1147.3 1645.6h37.3m-18.6 -18.6v37.3m-18.6 0l37.3 -37.3m-37.3 0l37.3 37.3M1151 1645.2h37.3m-18.6 -18.6v37.3m-18.6 0l37.3 -37.3m-37.3 0l37.3 37.3M1154.6 1641.5h37.3m-18.6 -18.6v37.3m-18.6 0l37.3 -37.3m-37.3 0l37.3 37.3M1158.3 1643.8h37.3m-18.6 -18.6v37.3m-18.6 0l37.3 -37.3m-37.3 0l37.3 37.3M1161.9 1642.9h37.3m-18.6 -18.6v37.3m-18.6 0l37.3 -37.3m-37.3 0l37.3 37.3M1165.5 1643.9h37.3m-18.6 -18.6v37.3m-18.6 0l37.3 -37.3m-37.3 0l37.3 37.3M1169.2 1641.9h37.3m-18.6 -18.6v37.3m-18.6 0l37.3 -37.3m-37.3 0l37.3 37.3M1172.8 1639.5h37.3m-18.6 -18.6v37.3m-18.6 0l37.3 -37.3m-37.3 0l37.3 37.3M1176.5 1644.9h37.3m-18.6 -18.6v37.3m-18.6 0l37.3 -37.3m-37.3 0l37.3 37.3M1180.1 1642.8h37.3m-18.6 -18.6v37.3m-18.6 0l37.3 -37.3m-37.3 0l37.3 37.3M1183.7 1642.6h37.3m-18.6 -18.6v37.3m-18.6 0l37.3 -37.3m-37.3 0l37.3 37.3M1187.4 1639.1h37.3m-18.6 -18.6v37.3m-18.6 0l37.3 -37.3m-37.3 0l37.3 37.3M1191 1641.7h37.3m-18.6 -18.6v37.3m-18.6 0l37.3 -37.3m-37.3 0l37.3 37.3M1194.7 1644.4h37.3m-18.6 -18.6v37.3m-18.6 0l37.3 -37.3m-37.3 0l37.3 37.3M1198.3 1644.7h37.3m-18.6 -18.6v37.3m-18.6 0l37.3 -37.3m-37.3 0l37.3 37.3M1201.9 1643.6h37.3m-18.6 -18.6v37.3m-18.6 0l37.3 -37.3m-37.3 0l37.3 37.3M1205.6 1643.5h37.3m-18.6 -18.6v37.3m-18.6 0l37.3 -37.3m-37.3 0l37.3 37.3M1209.2 1641.2h37.3m-18.6 -18.6v37.3m-18.6 0l37.3 -37.3m-37.3 0l37.3 37.3M1212.9 1644.6h37.3m-18.6 -18.6v37.3m-18.6 0l37.3 -37.3m-37.3 0l37.3 37.3M1216.5 1643.4h37.3m-18.6 -18.6v37.3m-18.6 0l37.3 -37.3m-37.3 0l37.3 37.3M1220.1 1642.9h37.3m-18.6 -18.6v37.3m-18.6 0l37.3 -37.3m-37.3 0l37.3 37.3M1223.8 1642.9h37.3m-18.6 -18.6v37.3m-18.6 0l37.3 -37.3m-37.3 0l37.3 37.3M1227.4 1644.5h37.3m-18.6 -18.6v37.3m-18.6 0l37.3 -37.3m-37.3 0l37.3 37.3M1231.1 1647.6h37.3m-18.6 -18.6v37.3m-18.6 0l37.3 -37.3m-37.3 0l37.3 37.3M1234.7 1648.9h37.3m-18.6 -18.6v37.3m-18.6 0l37.3 -37.3m-37.3 0l37.3 37.3M1238.3 1646.4h37.3m-18.6 -18.6v37.3m-18.6 0l37.3 -37.3m-37.3 0l37.3 37.3M1242 1645.6h37.3m-18.6 -18.6v37.3m-18.6 0l37.3 -37.3m-37.3 0l37.3 37.3M1245.6 1646.2h37.3m-18.6 -18.6v37.3m-18.6 0l37.3 -37.3m-37.3 0l37.3 37.3M1249.3 1643.7h37.3m-18.6 -18.6v37.3m-18.6 0l37.3 -37.3m-37.3 0l37.3 37.3M1252.9 1644.6h37.3m-18.6 -18.6v37.3m-18.6 0l37.3 -37.3m-37.3 0l37.3 37.3M1256.5 1647h37.3m-18.6 -18.6v37.3m-18.6 0l37.3 -37.3m-37.3 0l37.3 37.3M1260.2 1644.5h37.3m-18.6 -18.6v37.3m-18.6 0l37.3 -37.3m-37.3 0l37.3 37.3M1263.8 1646.1h37.3m-18.6 -18.6v37.3m-18.6 0l37.3 -37.3m-37.3 0l37.3 37.3M1267.4 1645.2h37.3m-18.6 -18.6v37.3m-18.6 0l37.3 -37.3m-37.3 0l37.3 37.3M1271.1 1646.5h37.3m-18.6 -18.6v37.3m-18.6 0l37.3 -37.3m-37.3 0l37.3 37.3M1274.7 1646.2h37.3m-18.6 -18.6v37.3m-18.6 0l37.3 -37.3m-37.3 0l37.3 37.3M1278.4 1647.3h37.3m-18.6 -18.6v37.3m-18.6 0l37.3 -37.3m-37.3 0l37.3 37.3M1282 1641.8h37.3m-18.6 -18.6v37.3m-18.6 0l37.3 -37.3m-37.3 0l37.3 37.3M1285.6 1646.4h37.3m-18.6 -18.6v37.3m-18.6 0l37.3 -37.3m-37.3 0l37.3 37.3M1289.3 1643.3h37.3m-18.6 -18.6v37.3m-18.6 0l37.3 -37.3m-37.3 0l37.3 37.3M1292.9 1646.4h37.3m-18.6 -18.6v37.3m-18.6 0l37.3 -37.3m-37.3 0l37.3 37.3M1296.6 1645.6h37.3m-18.6 -18.6v37.3m-18.6 0l37.3 -37.3m-37.3 0l37.3 37.3M1300.2 1643.6h37.3m-18.6 -18.6v37.3m-18.6 0l37.3 -37.3m-37.3 0l37.3 37.3M1303.8 1646.5h37.3m-18.6 -18.6v37.3m-18.6 0l37.3 -37.3m-37.3 0l37.3 37.3M1307.5 1641.2h37.3m-18.6 -18.6v37.3m-18.6 0l37.3 -37.3m-37.3 0l37.3 37.3M1311.1 1644.8h37.3m-18.6 -18.6v37.3m-18.6 0l37.3 -37.3m-37.3 0l37.3 37.3M1314.8 1637.7h37.3m-18.6 -18.6v37.3m-18.6 0l37.3 -37.3m-37.3 0l37.3 37.3M1318.4 1637.5h37.3m-18.6 -18.6v37.3m-18.6 0l37.3 -37.3m-37.3 0l37.3 37.3M1322 1636.1h37.3m-18.6 -18.6v37.3m-18.6 0l37.3 -37.3m-37.3 0l37.3 37.3M1325.7 1636h37.3m-18.6 -18.6v37.3m-18.6 0l37.3 -37.3m-37.3 0l37.3 37.3M1329.3 1631.5h37.3m-18.6 -18.6v37.3m-18.6 0l37.3 -37.3m-37.3 0l37.3 37.3M1333 1630.4h37.3m-18.6 -18.6v37.3m-18.6 0l37.3 -37.3m-37.3 0l37.3 37.3M1336.6 1630.3h37.3m-18.6 -18.6v37.3m-18.6 0l37.3 -37.3m-37.3 0l37.3 37.3M1340.2 1631h37.3m-18.6 -18.6v37.3m-18.6 0l37.3 -37.3m-37.3 0l37.3 37.3M1343.9 1629.6h37.3m-18.6 -18.6v37.3m-18.6 0l37.3 -37.3m-37.3 0l37.3 37.3M1347.5 1630.8h37.3m-18.6 -18.6v37.3m-18.6 0l37.3 -37.3m-37.3 0l37.3 37.3M1351.2 1626.7h37.3m-18.6 -18.6v37.3m-18.6 0l37.3 -37.3m-37.3 0l37.3 37.3M1354.8 1630.5h37.3m-18.6 -18.6v37.3m-18.6 0l37.3 -37.3m-37.3 0l37.3 37.3M1358.4 1626.8h37.3m-18.6 -18.6v37.3m-18.6 0l37.3 -37.3m-37.3 0l37.3 37.3M1362.1 1625.9h37.3m-18.6 -18.6v37.3m-18.6 0l37.3 -37.3m-37.3 0l37.3 37.3M1365.7 1628.8h37.3m-18.6 -18.6v37.3m-18.6 0l37.3 -37.3m-37.3 0l37.3 37.3M1369.4 1623.6h37.3m-18.6 -18.6v37.3m-18.6 0l37.3 -37.3m-37.3 0l37.3 37.3M1373 1619.8h37.3m-18.6 -18.6v37.3m-18.6 0l37.3 -37.3m-37.3 0l37.3 37.3M1376.6 1625.6h37.3m-18.6 -18.6v37.3m-18.6 0l37.3 -37.3m-37.3 0l37.3 37.3M1380.3 1621.1h37.3m-18.6 -18.6v37.3m-18.6 0l37.3 -37.3m-37.3 0l37.3 37.3M1383.9 1623.7h37.3m-18.6 -18.6v37.3m-18.6 0l37.3 -37.3m-37.3 0l37.3 37.3M1387.6 1619.7h37.3m-18.6 -18.6v37.3m-18.6 0l37.3 -37.3m-37.3 0l37.3 37.3M1391.2 1622h37.3m-18.6 -18.6v37.3m-18.6 0l37.3 -37.3m-37.3 0l37.3 37.3M1394.8 1618.3h37.3m-18.6 -18.6v37.3m-18.6 0l37.3 -37.3m-37.3 0l37.3 37.3M1398.5 1617.5h37.3m-18.6 -18.6v37.3m-18.6 0l37.3 -37.3m-37.3 0l37.3 37.3M1402.1 1622.5h37.3m-18.6 -18.6v37.3m-18.6 0l37.3 -37.3m-37.3 0l37.3 37.3M1405.8 1622.7h37.3m-18.6 -18.6v37.3m-18.6 0l37.3 -37.3m-37.3 0l37.3 37.3M1409.4 1620.6h37.3m-18.6 -18.6v37.3m-18.6 0l37.3 -37.3m-37.3 0l37.3 37.3M1413 1619.4h37.3m-18.6 -18.6v37.3m-18.6 0l37.3 -37.3m-37.3 0l37.3 37.3M1416.7 1620h37.3m-18.6 -18.6v37.3m-18.6 0l37.3 -37.3m-37.3 0l37.3 37.3M1420.3 1624.2h37.3m-18.6 -18.6v37.3m-18.6 0l37.3 -37.3m-37.3 0l37.3 37.3M1424 1623.2h37.3m-18.6 -18.6v37.3m-18.6 0l37.3 -37.3m-37.3 0l37.3 37.3M1427.6 1621.1h37.3m-18.6 -18.6v37.3m-18.6 0l37.3 -37.3m-37.3 0l37.3 37.3M1431.2 1622.9h37.3m-18.6 -18.6v37.3m-18.6 0l37.3 -37.3m-37.3 0l37.3 37.3M1434.9 1622.2h37.3m-18.6 -18.6v37.3m-18.6 0l37.3 -37.3m-37.3 0l37.3 37.3M1438.5 1620.5h37.3m-18.6 -18.6v37.3m-18.6 0l37.3 -37.3m-37.3 0l37.3 37.3M1442.2 1619.5h37.3m-18.6 -18.6v37.3m-18.6 0l37.3 -37.3m-37.3 0l37.3 37.3M1445.8 1623.7h37.3m-18.6 -18.6v37.3m-18.6 0l37.3 -37.3m-37.3 0l37.3 37.3M1449.4 1624.8h37.3m-18.6 -18.6v37.3m-18.6 0l37.3 -37.3m-37.3 0l37.3 37.3M1453.1 1628h37.3m-18.6 -18.6v37.3m-18.6 0l37.3 -37.3m-37.3 0l37.3 37.3M1456.7 1627.4h37.3m-18.6 -18.6v37.3m-18.6 0l37.3 -37.3m-37.3 0l37.3 37.3M1460.3 1623.9h37.3m-18.6 -18.6v37.3m-18.6 0l37.3 -37.3m-37.3 0l37.3 37.3M1464 1625.9h37.3m-18.6 -18.6v37.3m-18.6 0l37.3 -37.3m-37.3 0l37.3 37.3M1467.6 1625.8h37.3m-18.6 -18.6v37.3m-18.6 0l37.3 -37.3m-37.3 0l37.3 37.3M1471.3 1636.5h37.3m-18.6 -18.6v37.3m-18.6 0l37.3 -37.3m-37.3 0l37.3 37.3M1474.9 1635.7h37.3m-18.6 -18.6v37.3m-18.6 0l37.3 -37.3m-37.3 0l37.3 37.3M1478.5 1641.1h37.3m-18.6 -18.6v37.3m-18.6 0l37.3 -37.3m-37.3 0l37.3 37.3M1482.2 1642.4h37.3m-18.6 -18.6v37.3m-18.6 0l37.3 -37.3m-37.3 0l37.3 37.3M1485.8 1646h37.3m-18.6 -18.6v37.3m-18.6 0l37.3 -37.3m-37.3 0l37.3 37.3M1489.5 1647.7h37.3m-18.6 -18.6v37.3m-18.6 0l37.3 -37.3m-37.3 0l37.3 37.3M1493.1 1644.5h37.3m-18.6 -18.6v37.3m-18.6 0l37.3 -37.3m-37.3 0l37.3 37.3M1496.7 1645.7h37.3m-18.6 -18.6v37.3m-18.6 0l37.3 -37.3m-37.3 0l37.3 37.3M1500.4 1644.2h37.3m-18.6 -18.6v37.3m-18.6 0l37.3 -37.3m-37.3 0l37.3 37.3M1504 1646h37.3m-18.6 -18.6v37.3m-18.6 0l37.3 -37.3m-37.3 0l37.3 37.3M1507.7 1647.3h37.3m-18.6 -18.6v37.3m-18.6 0l37.3 -37.3m-37.3 0l37.3 37.3M1511.3 1647.9h37.3m-18.6 -18.6v37.3m-18.6 0l37.3 -37.3m-37.3 0l37.3 37.3M1514.9 1642.3h37.3m-18.6 -18.6v37.3m-18.6 0l37.3 -37.3m-37.3 0l37.3 37.3M1518.6 1647.3h37.3m-18.6 -18.6v37.3m-18.6 0l37.3 -37.3m-37.3 0l37.3 37.3M1522.2 1642.2h37.3m-18.6 -18.6v37.3m-18.6 0l37.3 -37.3m-37.3 0l37.3 37.3M1525.9 1642.2h37.3m-18.6 -18.6v37.3m-18.6 0l37.3 -37.3m-37.3 0l37.3 37.3M1529.5 1641h37.3m-18.6 -18.6v37.3m-18.6 0l37.3 -37.3m-37.3 0l37.3 37.3M1533.1 1641.1h37.3m-18.6 -18.6v37.3m-18.6 0l37.3 -37.3m-37.3 0l37.3 37.3M1536.8 1642.3h37.3m-18.6 -18.6v37.3m-18.6 0l37.3 -37.3m-37.3 0l37.3 37.3M1540.4 1645.5h37.3m-18.6 -18.6v37.3m-18.6 0l37.3 -37.3m-37.3 0l37.3 37.3M1544.1 1643.2h37.3m-18.6 -18.6v37.3m-18.6 0l37.3 -37.3m-37.3 0l37.3 37.3M1547.7 1643.1h37.3m-18.6 -18.6v37.3m-18.6 0l37.3 -37.3m-37.3 0l37.3 37.3M1551.3 1641.2h37.3m-18.6 -18.6v37.3m-18.6 0l37.3 -37.3m-37.3 0l37.3 37.3M1555 1638.9h37.3m-18.6 -18.6v37.3m-18.6 0l37.3 -37.3m-37.3 0l37.3 37.3M1558.6 1644.9h37.3m-18.6 -18.6v37.3m-18.6 0l37.3 -37.3m-37.3 0l37.3 37.3M1562.3 1638.5h37.3m-18.6 -18.6v37.3m-18.6 0l37.3 -37.3m-37.3 0l37.3 37.3M1565.9 1643h37.3m-18.6 -18.6v37.3m-18.6 0l37.3 -37.3m-37.3 0l37.3 37.3M1569.5 1639.9h37.3m-18.6 -18.6v37.3m-18.6 0l37.3 -37.3m-37.3 0l37.3 37.3M1573.2 1639.3h37.3m-18.6 -18.6v37.3m-18.6 0l37.3 -37.3m-37.3 0l37.3 37.3M1576.8 1638.5h37.3m-18.6 -18.6v37.3m-18.6 0l37.3 -37.3m-37.3 0l37.3 37.3M1580.5 1641.2h37.3m-18.6 -18.6v37.3m-18.6 0l37.3 -37.3m-37.3 0l37.3 37.3M1584.1 1644.4h37.3m-18.6 -18.6v37.3m-18.6 0l37.3 -37.3m-37.3 0l37.3 37.3M1587.7 1647.3h37.3m-18.6 -18.6v37.3m-18.6 0l37.3 -37.3m-37.3 0l37.3 37.3M1591.4 1651.3h37.3m-18.6 -18.6v37.3m-18.6 0l37.3 -37.3m-37.3 0l37.3 37.3M1595 1650.3h37.3m-18.6 -18.6v37.3m-18.6 0l37.3 -37.3m-37.3 0l37.3 37.3M1598.7 1656.2h37.3m-18.6 -18.6v37.3m-18.6 0l37.3 -37.3m-37.3 0l37.3 37.3M1602.3 1654.1h37.3m-18.6 -18.6v37.3m-18.6 0l37.3 -37.3m-37.3 0l37.3 37.3M1605.9 1657.8h37.3m-18.6 -18.6v37.3m-18.6 0l37.3 -37.3m-37.3 0l37.3 37.3M1609.6 1648.9h37.3m-18.6 -18.6v37.3m-18.6 0l37.3 -37.3m-37.3 0l37.3 37.3M1613.2 1654.7h37.3m-18.6 -18.6v37.3m-18.6 0l37.3 -37.3m-37.3 0l37.3 37.3M1616.9 1654.8h37.3m-18.6 -18.6v37.3m-18.6 0l37.3 -37.3m-37.3 0l37.3 37.3M1620.5 1654.2h37.3m-18.6 -18.6v37.3m-18.6 0l37.3 -37.3m-37.3 0l37.3 37.3M1624.1 1652.7h37.3m-18.6 -18.6v37.3m-18.6 0l37.3 -37.3m-37.3 0l37.3 37.3M1627.8 1655.3h37.3m-18.6 -18.6v37.3m-18.6 0l37.3 -37.3m-37.3 0l37.3 37.3M1631.4 1651h37.3m-18.6 -18.6v37.3m-18.6 0l37.3 -37.3m-37.3 0l37.3 37.3M1635.1 1651.6h37.3m-18.6 -18.6v37.3m-18.6 0l37.3 -37.3m-37.3 0l37.3 37.3M1638.7 1652.8h37.3m-18.6 -18.6v37.3m-18.6 0l37.3 -37.3m-37.3 0l37.3 37.3M1642.3 1649.4h37.3m-18.6 -18.6v37.3m-18.6 0l37.3 -37.3m-37.3 0l37.3 37.3M1646 1655.4h37.3m-18.6 -18.6v37.3m-18.6 0l37.3 -37.3m-37.3 0l37.3 37.3M1649.6 1652.5h37.3m-18.6 -18.6v37.3m-18.6 0l37.3 -37.3m-37.3 0l37.3 37.3M1653.2 1653.7h37.3m-18.6 -18.6v37.3m-18.6 0l37.3 -37.3m-37.3 0l37.3 37.3M1656.9 1662.2h37.3m-18.6 -18.6v37.3m-18.6 0l37.3 -37.3m-37.3 0l37.3 37.3M1660.5 1653h37.3m-18.6 -18.6v37.3m-18.6 0l37.3 -37.3m-37.3 0l37.3 37.3M1664.2 1656.7h37.3m-18.6 -18.6v37.3m-18.6 0l37.3 -37.3m-37.3 0l37.3 37.3M1667.8 1658h37.3m-18.6 -18.6v37.3m-18.6 0l37.3 -37.3m-37.3 0l37.3 37.3M1671.4 1656.2h37.3m-18.6 -18.6v37.3m-18.6 0l37.3 -37.3m-37.3 0l37.3 37.3M1675.1 1655.2h37.3m-18.6 -18.6v37.3m-18.6 0l37.3 -37.3m-37.3 0l37.3 37.3M1678.7 1655.7h37.3m-18.6 -18.6v37.3m-18.6 0l37.3 -37.3m-37.3 0l37.3 37.3M1682.4 1656.1h37.3m-18.6 -18.6v37.3m-18.6 0l37.3 -37.3m-37.3 0l37.3 37.3M1686 1654.9h37.3m-18.6 -18.6v37.3m-18.6 0l37.3 -37.3m-37.3 0l37.3 37.3M1689.6 1650.9h37.3m-18.6 -18.6v37.3m-18.6 0l37.3 -37.3m-37.3 0l37.3 37.3M1693.3 1658.9h37.3m-18.6 -18.6v37.3m-18.6 0l37.3 -37.3m-37.3 0l37.3 37.3M1696.9 1657.3h37.3m-18.6 -18.6v37.3m-18.6 0l37.3 -37.3m-37.3 0l37.3 37.3M1700.6 1656.7h37.3m-18.6 -18.6v37.3m-18.6 0l37.3 -37.3m-37.3 0l37.3 37.3M1704.2 1655.9h37.3m-18.6 -18.6v37.3m-18.6 0l37.3 -37.3m-37.3 0l37.3 37.3M1707.8 1657.1h37.3m-18.6 -18.6v37.3m-18.6 0l37.3 -37.3m-37.3 0l37.3 37.3M1711.5 1657.1h37.3m-18.6 -18.6v37.3m-18.6 0l37.3 -37.3m-37.3 0l37.3 37.3M1715.1 1656.3h37.3m-18.6 -18.6v37.3m-18.6 0l37.3 -37.3m-37.3 0l37.3 37.3M1718.8 1666.4h37.3m-18.6 -18.6v37.3m-18.6 0l37.3 -37.3m-37.3 0l37.3 37.3M1722.4 1662.6h37.3m-18.6 -18.6v37.3m-18.6 0l37.3 -37.3m-37.3 0l37.3 37.3M1726 1669.4h37.3m-18.6 -18.6v37.3m-18.6 0l37.3 -37.3m-37.3 0l37.3 37.3M1729.7 1669.8h37.3m-18.6 -18.6v37.3m-18.6 0l37.3 -37.3m-37.3 0l37.3 37.3M1733.3 1670.5h37.3m-18.6 -18.6v37.3m-18.6 0l37.3 -37.3m-37.3 0l37.3 37.3M1737 1669.6h37.3m-18.6 -18.6v37.3m-18.6 0l37.3 -37.3m-37.3 0l37.3 37.3M1740.6 1670.6h37.3m-18.6 -18.6v37.3m-18.6 0l37.3 -37.3m-37.3 0l37.3 37.3M1744.2 1674.2h37.3m-18.6 -18.6v37.3m-18.6 0l37.3 -37.3m-37.3 0l37.3 37.3M1747.9 1673.5h37.3m-18.6 -18.6v37.3m-18.6 0l37.3 -37.3m-37.3 0l37.3 37.3M1751.5 1675.9h37.3m-18.6 -18.6v37.3m-18.6 0l37.3 -37.3m-37.3 0l37.3 37.3M1755.2 1676.3h37.3m-18.6 -18.6v37.3m-18.6 0l37.3 -37.3m-37.3 0l37.3 37.3M1758.8 1680.4h37.3m-18.6 -18.6v37.3m-18.6 0l37.3 -37.3m-37.3 0l37.3 37.3M1762.4 1683.9h37.3m-18.6 -18.6v37.3m-18.6 0l37.3 -37.3m-37.3 0l37.3 37.3M1766.1 1688.1h37.3m-18.6 -18.6v37.3m-18.6 0l37.3 -37.3m-37.3 0l37.3 37.3M1769.7 1685.2h37.3m-18.6 -18.6v37.3m-18.6 0l37.3 -37.3m-37.3 0l37.3 37.3M1773.4 1690.3h37.3m-18.6 -18.6v37.3m-18.6 0l37.3 -37.3m-37.3 0l37.3 37.3M1777 1689.4h37.3m-18.6 -18.6v37.3m-18.6 0l37.3 -37.3m-37.3 0l37.3 37.3M1780.6 1696.8h37.3m-18.6 -18.6v37.3m-18.6 0l37.3 -37.3m-37.3 0l37.3 37.3M1784.3 1697.3h37.3m-18.6 -18.6v37.3m-18.6 0l37.3 -37.3m-37.3 0l37.3 37.3M1787.9 1698h37.3m-18.6 -18.6v37.3m-18.6 0l37.3 -37.3m-37.3 0l37.3 37.3M1791.6 1696.9h37.3m-18.6 -18.6v37.3m-18.6 0l37.3 -37.3m-37.3 0l37.3 37.3M1795.2 1700.5h37.3m-18.6 -18.6v37.3m-18.6 0l37.3 -37.3m-37.3 0l37.3 37.3M1798.8 1702.3h37.3m-18.6 -18.6v37.3m-18.6 0l37.3 -37.3m-37.3 0l37.3 37.3M1802.5 1702.6h37.3m-18.6 -18.6v37.3m-18.6 0l37.3 -37.3m-37.3 0l37.3 37.3M1806.1 1705.6h37.3m-18.6 -18.6v37.3m-18.6 0l37.3 -37.3m-37.3 0l37.3 37.3M1809.8 1706.2h37.3m-18.6 -18.6v37.3m-18.6 0l37.3 -37.3m-37.3 0l37.3 37.3M1813.4 1710h37.3m-18.6 -18.6v37.3m-18.6 0l37.3 -37.3m-37.3 0l37.3 37.3M1817 1710.9h37.3m-18.6 -18.6v37.3m-18.6 0l37.3 -37.3m-37.3 0l37.3 37.3M1820.7 1713.8h37.3m-18.6 -18.6v37.3m-18.6 0l37.3 -37.3m-37.3 0l37.3 37.3M1824.3 1712.1h37.3m-18.6 -18.6v37.3m-18.6 0l37.3 -37.3m-37.3 0l37.3 37.3M1827.9 1716.6h37.3m-18.6 -18.6v37.3m-18.6 0l37.3 -37.3m-37.3 0l37.3 37.3M1831.6 1723.9h37.3m-18.6 -18.6v37.3m-18.6 0l37.3 -37.3m-37.3 0l37.3 37.3M1835.2 1721.3h37.3m-18.6 -18.6v37.3m-18.6 0l37.3 -37.3m-37.3 0l37.3 37.3M1838.9 1722.1h37.3m-18.6 -18.6v37.3m-18.6 0l37.3 -37.3m-37.3 0l37.3 37.3M1842.5 1722.5h37.3m-18.6 -18.6v37.3m-18.6 0l37.3 -37.3m-37.3 0l37.3 37.3M1846.1 1725h37.3m-18.6 -18.6v37.3m-18.6 0l37.3 -37.3m-37.3 0l37.3 37.3M1849.8 1723.7h37.3m-18.6 -18.6v37.3m-18.6 0l37.3 -37.3m-37.3 0l37.3 37.3M1853.4 1724.1h37.3m-18.6 -18.6v37.3m-18.6 0l37.3 -37.3m-37.3 0l37.3 37.3M1857.1 1723.9h37.3m-18.6 -18.6v37.3m-18.6 0l37.3 -37.3m-37.3 0l37.3 37.3M1860.7 1724.7h37.3m-18.6 -18.6v37.3m-18.6 0l37.3 -37.3m-37.3 0l37.3 37.3M1864.3 1725h37.3m-18.6 -18.6v37.3m-18.6 0l37.3 -37.3m-37.3 0l37.3 37.3M1868 1728.3h37.3m-18.6 -18.6v37.3m-18.6 0l37.3 -37.3m-37.3 0l37.3 37.3M1871.6 1725.5h37.3m-18.6 -18.6v37.3m-18.6 0l37.3 -37.3m-37.3 0l37.3 37.3M1875.3 1730.5h37.3m-18.6 -18.6v37.3m-18.6 0l37.3 -37.3m-37.3 0l37.3 37.3M1878.9 1726.2h37.3m-18.6 -18.6v37.3m-18.6 0l37.3 -37.3m-37.3 0l37.3 37.3M1882.5 1727.1h37.3m-18.6 -18.6v37.3m-18.6 0l37.3 -37.3m-37.3 0l37.3 37.3M1886.2 1728.5h37.3m-18.6 -18.6v37.3m-18.6 0l37.3 -37.3m-37.3 0l37.3 37.3M1889.8 1732.2h37.3m-18.6 -18.6v37.3m-18.6 0l37.3 -37.3m-37.3 0l37.3 37.3M1893.5 1728.1h37.3m-18.6 -18.6v37.3m-18.6 0l37.3 -37.3m-37.3 0l37.3 37.3M1897.1 1729.9h37.3m-18.6 -18.6v37.3m-18.6 0l37.3 -37.3m-37.3 0l37.3 37.3M1900.7 1726.4h37.3m-18.6 -18.6v37.3m-18.6 0l37.3 -37.3m-37.3 0l37.3 37.3M1904.4 1727.9h37.3m-18.6 -18.6v37.3m-18.6 0l37.3 -37.3m-37.3 0l37.3 37.3M1908 1730.9h37.3m-18.6 -18.6v37.3m-18.6 0l37.3 -37.3m-37.3 0l37.3 37.3M1911.7 1731.2h37.3m-18.6 -18.6v37.3m-18.6 0l37.3 -37.3m-37.3 0l37.3 37.3M1915.3 1738.5h37.3m-18.6 -18.6v37.3m-18.6 0l37.3 -37.3m-37.3 0l37.3 37.3M1918.9 1731.4h37.3m-18.6 -18.6v37.3m-18.6 0l37.3 -37.3m-37.3 0l37.3 37.3M1922.6 1733.6h37.3m-18.6 -18.6v37.3m-18.6 0l37.3 -37.3m-37.3 0l37.3 37.3M1926.2 1730.8h37.3m-18.6 -18.6v37.3m-18.6 0l37.3 -37.3m-37.3 0l37.3 37.3M1929.9 1731h37.3m-18.6 -18.6v37.3m-18.6 0l37.3 -37.3m-37.3 0l37.3 37.3M1933.5 1736.1h37.3m-18.6 -18.6v37.3m-18.6 0l37.3 -37.3m-37.3 0l37.3 37.3M1937.1 1734.6h37.3m-18.6 -18.6v37.3m-18.6 0l37.3 -37.3m-37.3 0l37.3 37.3M1940.8 1734.7h37.3m-18.6 -18.6v37.3m-18.6 0l37.3 -37.3m-37.3 0l37.3 37.3M1944.4 1737.7h37.3m-18.6 -18.6v37.3m-18.6 0l37.3 -37.3m-37.3 0l37.3 37.3M1948.1 1738.4h37.3m-18.6 -18.6v37.3m-18.6 0l37.3 -37.3m-37.3 0l37.3 37.3M1951.7 1737h37.3m-18.6 -18.6v37.3m-18.6 0l37.3 -37.3m-37.3 0l37.3 37.3M1955.3 1736.2h37.3m-18.6 -18.6v37.3m-18.6 0l37.3 -37.3m-37.3 0l37.3 37.3M1959 1736.9h37.3m-18.6 -18.6v37.3m-18.6 0l37.3 -37.3m-37.3 0l37.3 37.3M1962.6 1735.6h37.3m-18.6 -18.6v37.3m-18.6 0l37.3 -37.3m-37.3 0l37.3 37.3M1966.3 1730.6h37.3m-18.6 -18.6v37.3m-18.6 0l37.3 -37.3m-37.3 0l37.3 37.3M1969.9 1731.2h37.3m-18.6 -18.6v37.3m-18.6 0l37.3 -37.3m-37.3 0l37.3 37.3M1973.5 1737.4h37.3m-18.6 -18.6v37.3m-18.6 0l37.3 -37.3m-37.3 0l37.3 37.3M1977.2 1739.3h37.3m-18.6 -18.6v37.3m-18.6 0l37.3 -37.3m-37.3 0l37.3 37.3M1980.8 1737.1h37.3m-18.6 -18.6v37.3m-18.6 0l37.3 -37.3m-37.3 0l37.3 37.3M1984.5 1738.9h37.3m-18.6 -18.6v37.3m-18.6 0l37.3 -37.3m-37.3 0l37.3 37.3M1988.1 1740.7h37.3m-18.6 -18.6v37.3m-18.6 0l37.3 -37.3m-37.3 0l37.3 37.3M1991.7 1738.8h37.3m-18.6 -18.6v37.3m-18.6 0l37.3 -37.3m-37.3 0l37.3 37.3M1995.4 1736.1h37.3m-18.6 -18.6v37.3m-18.6 0l37.3 -37.3m-37.3 0l37.3 37.3M1999 1740h37.3m-18.6 -18.6v37.3m-18.6 0l37.3 -37.3m-37.3 0l37.3 37.3M2002.7 1737.9h37.3m-18.6 -18.6v37.3m-18.6 0l37.3 -37.3m-37.3 0l37.3 37.3M2006.3 1735.7h37.3m-18.6 -18.6v37.3m-18.6 0l37.3 -37.3m-37.3 0l37.3 37.3M2009.9 1739.4h37.3m-18.6 -18.6v37.3m-18.6 0l37.3 -37.3m-37.3 0l37.3 37.3M2013.6 1738.9h37.3m-18.6 -18.6v37.3m-18.6 0l37.3 -37.3m-37.3 0l37.3 37.3M2017.2 1741.5h37.3m-18.6 -18.6v37.3m-18.6 0l37.3 -37.3m-37.3 0l37.3 37.3M2020.8 1737.9h37.3m-18.6 -18.6v37.3m-18.6 0l37.3 -37.3m-37.3 0l37.3 37.3M2024.5 1740.3h37.3m-18.6 -18.6v37.3m-18.6 0l37.3 -37.3m-37.3 0l37.3 37.3M2028.1 1742h37.3m-18.6 -18.6v37.3m-18.6 0l37.3 -37.3m-37.3 0l37.3 37.3M2031.8 1736.8h37.3m-18.6 -18.6v37.3m-18.6 0l37.3 -37.3m-37.3 0l37.3 37.3M2035.4 1742.5h37.3m-18.6 -18.6v37.3m-18.6 0l37.3 -37.3m-37.3 0l37.3 37.3M2039 1742.4h37.3m-18.6 -18.6v37.3m-18.6 0l37.3 -37.3m-37.3 0l37.3 37.3M2042.7 1751.2h37.3m-18.6 -18.6v37.3m-18.6 0l37.3 -37.3m-37.3 0l37.3 37.3M2046.3 1742.2h37.3m-18.6 -18.6v37.3m-18.6 0l37.3 -37.3m-37.3 0l37.3 37.3M2050 1740.6h37.3m-18.6 -18.6v37.3m-18.6 0l37.3 -37.3m-37.3 0l37.3 37.3M2053.6 1738.4h37.3m-18.6 -18.6v37.3m-18.6 0l37.3 -37.3m-37.3 0l37.3 37.3M2057.2 1738.7h37.3m-18.6 -18.6v37.3m-18.6 0l37.3 -37.3m-37.3 0l37.3 37.3M2060.9 1739.7h37.3m-18.6 -18.6v37.3m-18.6 0l37.3 -37.3m-37.3 0l37.3 37.3M2064.5 1738.3h37.3m-18.6 -18.6v37.3m-18.6 0l37.3 -37.3m-37.3 0l37.3 37.3M2068.2 1737.6h37.3m-18.6 -18.6v37.3m-18.6 0l37.3 -37.3m-37.3 0l37.3 37.3M2071.8 1742.1h37.3m-18.6 -18.6v37.3m-18.6 0l37.3 -37.3m-37.3 0l37.3 37.3M2075.4 1743.2h37.3m-18.6 -18.6v37.3m-18.6 0l37.3 -37.3m-37.3 0l37.3 37.3M2079.1 1739.5h37.3m-18.6 -18.6v37.3m-18.6 0l37.3 -37.3m-37.3 0l37.3 37.3M2082.7 1738.8h37.3m-18.6 -18.6v37.3m-18.6 0l37.3 -37.3m-37.3 0l37.3 37.3M2086.4 1739.9h37.3m-18.6 -18.6v37.3m-18.6 0l37.3 -37.3m-37.3 0l37.3 37.3M2090 1740.5h37.3m-18.6 -18.6v37.3m-18.6 0l37.3 -37.3m-37.3 0l37.3 37.3M2093.6 1738.4h37.3m-18.6 -18.6v37.3m-18.6 0l37.3 -37.3m-37.3 0l37.3 37.3M2097.3 1737.1h37.3m-18.6 -18.6v37.3m-18.6 0l37.3 -37.3m-37.3 0l37.3 37.3M2100.9 1739.8h37.3m-18.6 -18.6v37.3m-18.6 0l37.3 -37.3m-37.3 0l37.3 37.3M2104.6 1737.1h37.3m-18.6 -18.6v37.3m-18.6 0l37.3 -37.3m-37.3 0l37.3 37.3M2108.2 1738.7h37.3m-18.6 -18.6v37.3m-18.6 0l37.3 -37.3m-37.3 0l37.3 37.3M2111.8 1735.5h37.3m-18.6 -18.6v37.3m-18.6 0l37.3 -37.3m-37.3 0l37.3 37.3M2115.5 1737h37.3m-18.6 -18.6v37.3m-18.6 0l37.3 -37.3m-37.3 0l37.3 37.3M2119.1 1737.2h37.3m-18.6 -18.6v37.3m-18.6 0l37.3 -37.3m-37.3 0l37.3 37.3M2122.8 1736.3h37.3m-18.6 -18.6v37.3m-18.6 0l37.3 -37.3m-37.3 0l37.3 37.3M2126.4 1737h37.3m-18.6 -18.6v37.3m-18.6 0l37.3 -37.3m-37.3 0l37.3 37.3M2130 1738.3h37.3m-18.6 -18.6v37.3m-18.6 0l37.3 -37.3m-37.3 0l37.3 37.3M2133.7 1736h37.3m-18.6 -18.6v37.3m-18.6 0l37.3 -37.3m-37.3 0l37.3 37.3M2137.3 1737.8h37.3m-18.6 -18.6v37.3m-18.6 0l37.3 -37.3m-37.3 0l37.3 37.3M2141 1739h37.3m-18.6 -18.6v37.3m-18.6 0l37.3 -37.3m-37.3 0l37.3 37.3M2144.6 1741.1h37.3m-18.6 -18.6v37.3m-18.6 0l37.3 -37.3m-37.3 0l37.3 37.3M2148.2 1737.6h37.3m-18.6 -18.6v37.3m-18.6 0l37.3 -37.3m-37.3 0l37.3 37.3M2151.9 1738.1h37.3m-18.6 -18.6v37.3m-18.6 0l37.3 -37.3m-37.3 0l37.3 37.3M2155.5 1738h37.3m-18.6 -18.6v37.3m-18.6 0l37.3 -37.3m-37.3 0l37.3 37.3M2159.2 1740.8h37.3m-18.6 -18.6v37.3m-18.6 0l37.3 -37.3m-37.3 0l37.3 37.3M2162.8 1740.5h37.3m-18.6 -18.6v37.3m-18.6 0l37.3 -37.3m-37.3 0l37.3 37.3M2166.4 1741.3h37.3m-18.6 -18.6v37.3m-18.6 0l37.3 -37.3m-37.3 0l37.3 37.3M2170.1 1736.9h37.3m-18.6 -18.6v37.3m-18.6 0l37.3 -37.3m-37.3 0l37.3 37.3M2173.7 1740.3h37.3m-18.6 -18.6v37.3m-18.6 0l37.3 -37.3m-37.3 0l37.3 37.3M2177.4 1740.5h37.3m-18.6 -18.6v37.3m-18.6 0l37.3 -37.3m-37.3 0l37.3 37.3M2181 1741.4h37.3m-18.6 -18.6v37.3m-18.6 0l37.3 -37.3m-37.3 0l37.3 37.3M2184.6 1732.5h37.3m-18.6 -18.6v37.3m-18.6 0l37.3 -37.3m-37.3 0l37.3 37.3M2188.3 1739.2h37.3m-18.6 -18.6v37.3m-18.6 0l37.3 -37.3m-37.3 0l37.3 37.3M2191.9 1740.1h37.3m-18.6 -18.6v37.3m-18.6 0l37.3 -37.3m-37.3 0l37.3 37.3M2195.5 1741.3h37.3m-18.6 -18.6v37.3m-18.6 0l37.3 -37.3m-37.3 0l37.3 37.3M2199.2 1740.1h37.3m-18.6 -18.6v37.3m-18.6 0l37.3 -37.3m-37.3 0l37.3 37.3M2202.8 1742.1h37.3m-18.6 -18.6v37.3m-18.6 0l37.3 -37.3m-37.3 0l37.3 37.3M2206.5 1738h37.3m-18.6 -18.6v37.3m-18.6 0l37.3 -37.3m-37.3 0l37.3 37.3M2210.1 1741.3h37.3m-18.6 -18.6v37.3m-18.6 0l37.3 -37.3m-37.3 0l37.3 37.3M2213.7 1737.3h37.3m-18.6 -18.6v37.3m-18.6 0l37.3 -37.3m-37.3 0l37.3 37.3M2217.4 1742.4h37.3m-18.6 -18.6v37.3m-18.6 0l37.3 -37.3m-37.3 0l37.3 37.3M2221 1737.1h37.3m-18.6 -18.6v37.3m-18.6 0l37.3 -37.3m-37.3 0l37.3 37.3M2224.7 1739.2h37.3m-18.6 -18.6v37.3m-18.6 0l37.3 -37.3m-37.3 0l37.3 37.3M2228.3 1741.3h37.3m-18.6 -18.6v37.3m-18.6 0l37.3 -37.3m-37.3 0l37.3 37.3M2231.9 1741.9h37.3m-18.6 -18.6v37.3m-18.6 0l37.3 -37.3m-37.3 0l37.3 37.3M2235.6 1738.9h37.3m-18.6 -18.6v37.3m-18.6 0l37.3 -37.3m-37.3 0l37.3 37.3M2239.2 1737.7h37.3m-18.6 -18.6v37.3m-18.6 0l37.3 -37.3m-37.3 0l37.3 37.3M2242.9 1739.7h37.3m-18.6 -18.6v37.3m-18.6 0l37.3 -37.3m-37.3 0l37.3 37.3M2246.5 1739.8h37.3m-18.6 -18.6v37.3m-18.6 0l37.3 -37.3m-37.3 0l37.3 37.3M2250.1 1740.2h37.3m-18.6 -18.6v37.3m-18.6 0l37.3 -37.3m-37.3 0l37.3 37.3M2253.8 1737.3h37.3m-18.6 -18.6v37.3m-18.6 0l37.3 -37.3m-37.3 0l37.3 37.3M2257.4 1737.1h37.3m-18.6 -18.6v37.3m-18.6 0l37.3 -37.3m-37.3 0l37.3 37.3M2261.1 1741.7h37.3m-18.6 -18.6v37.3m-18.6 0l37.3 -37.3m-37.3 0l37.3 37.3M2264.7 1741.9h37.3m-18.6 -18.6v37.3m-18.6 0l37.3 -37.3m-37.3 0l37.3 37.3M2268.3 1740.6h37.3m-18.6 -18.6v37.3m-18.6 0l37.3 -37.3m-37.3 0l37.3 37.3M2272 1742.1h37.3m-18.6 -18.6v37.3m-18.6 0l37.3 -37.3m-37.3 0l37.3 37.3M2275.6 1738.7h37.3m-18.6 -18.6v37.3m-18.6 0l37.3 -37.3m-37.3 0l37.3 37.3M2279.3 1744.6h37.3m-18.6 -18.6v37.3m-18.6 0l37.3 -37.3m-37.3 0l37.3 37.3M2282.9 1743.3h37.3m-18.6 -18.6v37.3m-18.6 0l37.3 -37.3m-37.3 0l37.3 37.3M2286.5 1744.7h37.3m-18.6 -18.6v37.3m-18.6 0l37.3 -37.3m-37.3 0l37.3 37.3M2290.2 1743h37.3m-18.6 -18.6v37.3m-18.6 0l37.3 -37.3m-37.3 0l37.3 37.3M2293.8 1746.1h37.3m-18.6 -18.6v37.3m-18.6 0l37.3 -37.3m-37.3 0l37.3 37.3M2297.5 1745.4h37.3m-18.6 -18.6v37.3m-18.6 0l37.3 -37.3m-37.3 0l37.3 37.3M2301.1 1746.8h37.3m-18.6 -18.6v37.3m-18.6 0l37.3 -37.3m-37.3 0l37.3 37.3M2304.7 1742.2h37.3m-18.6 -18.6v37.3m-18.6 0l37.3 -37.3m-37.3 0l37.3 37.3M2308.4 1748.4h37.3m-18.6 -18.6v37.3m-18.6 0l37.3 -37.3m-37.3 0l37.3 37.3M2312 1744.5h37.3m-18.6 -18.6v37.3m-18.6 0l37.3 -37.3m-37.3 0l37.3 37.3M2315.7 1744.5h37.3m-18.6 -18.6v37.3m-18.6 0l37.3 -37.3m-37.3 0l37.3 37.3M2319.3 1744.9h37.3m-18.6 -18.6v37.3m-18.6 0l37.3 -37.3m-37.3 0l37.3 37.3M2322.9 1744.9h37.3m-18.6 -18.6v37.3m-18.6 0l37.3 -37.3m-37.3 0l37.3 37.3M2326.6 1745.3h37.3m-18.6 -18.6v37.3m-18.6 0l37.3 -37.3m-37.3 0l37.3 37.3M2330.2 1743.7h37.3m-18.6 -18.6v37.3m-18.6 0l37.3 -37.3m-37.3 0l37.3 37.3M2333.9 1749.2h37.3m-18.6 -18.6v37.3m-18.6 0l37.3 -37.3m-37.3 0l37.3 37.3M2337.5 1745.7h37.3m-18.6 -18.6v37.3m-18.6 0l37.3 -37.3m-37.3 0l37.3 37.3M2341.1 1747.1h37.3m-18.6 -18.6v37.3m-18.6 0l37.3 -37.3m-37.3 0l37.3 37.3M2344.8 1749.2h37.3m-18.6 -18.6v37.3m-18.6 0l37.3 -37.3m-37.3 0l37.3 37.3M2348.4 1747.1h37.3m-18.6 -18.6v37.3m-18.6 0l37.3 -37.3m-37.3 0l37.3 37.3M2352.1 1745.6h37.3m-18.6 -18.6v37.3m-18.6 0l37.3 -37.3m-37.3 0l37.3 37.3M2355.7 1748.7h37.3m-18.6 -18.6v37.3m-18.6 0l37.3 -37.3m-37.3 0l37.3 37.3M2359.3 1748.8h37.3m-18.6 -18.6v37.3m-18.6 0l37.3 -37.3m-37.3 0l37.3 37.3M2363 1746.3h37.3m-18.6 -18.6v37.3m-18.6 0l37.3 -37.3m-37.3 0l37.3 37.3M2366.6 1749.8h37.3m-18.6 -18.6v37.3m-18.6 0l37.3 -37.3m-37.3 0l37.3 37.3M2370.3 1751.8h37.3m-18.6 -18.6v37.3m-18.6 0l37.3 -37.3m-37.3 0l37.3 37.3M2373.9 1752.9h37.3m-18.6 -18.6v37.3m-18.6 0l37.3 -37.3m-37.3 0l37.3 37.3M2377.5 1752.9h37.3m-18.6 -18.6v37.3m-18.6 0l37.3 -37.3m-37.3 0l37.3 37.3M2381.2 1750.1h37.3m-18.6 -18.6v37.3m-18.6 0l37.3 -37.3m-37.3 0l37.3 37.3M2384.8 1752.5h37.3m-18.6 -18.6v37.3m-18.6 0l37.3 -37.3m-37.3 0l37.3 37.3M2388.4 1753.4h37.3m-18.6 -18.6v37.3m-18.6 0l37.3 -37.3m-37.3 0l37.3 37.3M2392.1 1751.3h37.3m-18.6 -18.6v37.3m-18.6 0l37.3 -37.3m-37.3 0l37.3 37.3M2395.7 1750.1h37.3m-18.6 -18.6v37.3m-18.6 0l37.3 -37.3m-37.3 0l37.3 37.3M2399.4 1755.5h37.3m-18.6 -18.6v37.3m-18.6 0l37.3 -37.3m-37.3 0l37.3 37.3M2403 1753.9h37.3m-18.6 -18.6v37.3m-18.6 0l37.3 -37.3m-37.3 0l37.3 37.3M2406.6 1754.5h37.3m-18.6 -18.6v37.3m-18.6 0l37.3 -37.3m-37.3 0l37.3 37.3M2410.3 1753h37.3m-18.6 -18.6v37.3m-18.6 0l37.3 -37.3m-37.3 0l37.3 37.3M2413.9 1754.6h37.3m-18.6 -18.6v37.3m-18.6 0l37.3 -37.3m-37.3 0l37.3 37.3M2417.6 1753.9h37.3m-18.6 -18.6v37.3m-18.6 0l37.3 -37.3m-37.3 0l37.3 37.3M2421.2 1755.3h37.3m-18.6 -18.6v37.3m-18.6 0l37.3 -37.3m-37.3 0l37.3 37.3M2424.8 1754.2h37.3m-18.6 -18.6v37.3m-18.6 0l37.3 -37.3m-37.3 0l37.3 37.3M2428.5 1752.6h37.3m-18.6 -18.6v37.3m-18.6 0l37.3 -37.3m-37.3 0l37.3 37.3M2432.1 1754.3h37.3m-18.6 -18.6v37.3m-18.6 0l37.3 -37.3m-37.3 0l37.3 37.3M2435.8 1753.4h37.3m-18.6 -18.6v37.3m-18.6 0l37.3 -37.3m-37.3 0l37.3 37.3M2439.4 1754h37.3m-18.6 -18.6v37.3m-18.6 0l37.3 -37.3m-37.3 0l37.3 37.3M2443 1755.2h37.3m-18.6 -18.6v37.3m-18.6 0l37.3 -37.3m-37.3 0l37.3 37.3M2446.7 1753.9h37.3m-18.6 -18.6v37.3m-18.6 0l37.3 -37.3m-37.3 0l37.3 37.3M2450.3 1753.3h37.3m-18.6 -18.6v37.3m-18.6 0l37.3 -37.3m-37.3 0l37.3 37.3M2454 1754h37.3m-18.6 -18.6v37.3m-18.6 0l37.3 -37.3m-37.3 0l37.3 37.3M2457.6 1752.3h37.3m-18.6 -18.6v37.3m-18.6 0l37.3 -37.3m-37.3 0l37.3 37.3M2461.2 1756.6h37.3m-18.6 -18.6v37.3m-18.6 0l37.3 -37.3m-37.3 0l37.3 37.3M2464.9 1753.4h37.3m-18.6 -18.6v37.3m-18.6 0l37.3 -37.3m-37.3 0l37.3 37.3M2468.5 1755.4h37.3m-18.6 -18.6v37.3m-18.6 0l37.3 -37.3m-37.3 0l37.3 37.3M2472.2 1750.9h37.3m-18.6 -18.6v37.3m-18.6 0l37.3 -37.3m-37.3 0l37.3 37.3M2515.8 1748.2h37.3m-18.6 -18.6v37.3m-18.6 0l37.3 -37.3m-37.3 0l37.3 37.3M2519.5 1750.5h37.3m-18.6 -18.6v37.3m-18.6 0l37.3 -37.3m-37.3 0l37.3 37.3M2523.1 1749.5h37.3m-18.6 -18.6v37.3m-18.6 0l37.3 -37.3m-37.3 0l37.3 37.3M2526.8 1747.8h37.3m-18.6 -18.6v37.3m-18.6 0l37.3 -37.3m-37.3 0l37.3 37.3M2530.4 1752h37.3m-18.6 -18.6v37.3m-18.6 0l37.3 -37.3m-37.3 0l37.3 37.3M2534 1748.4h37.3m-18.6 -18.6v37.3m-18.6 0l37.3 -37.3m-37.3 0l37.3 37.3M2537.7 1749.1h37.3m-18.6 -18.6v37.3m-18.6 0l37.3 -37.3m-37.3 0l37.3 37.3M2541.3 1751.3h37.3m-18.6 -18.6v37.3m-18.6 0l37.3 -37.3m-37.3 0l37.3 37.3M2545 1748.2h37.3m-18.6 -18.6v37.3m-18.6 0l37.3 -37.3m-37.3 0l37.3 37.3M2548.6 1751.7h37.3m-18.6 -18.6v37.3m-18.6 0l37.3 -37.3m-37.3 0l37.3 37.3M2552.2 1748.3h37.3m-18.6 -18.6v37.3m-18.6 0l37.3 -37.3m-37.3 0l37.3 37.3M2555.9 1749.8h37.3m-18.6 -18.6v37.3m-18.6 0l37.3 -37.3m-37.3 0l37.3 37.3M2559.5 1746.2h37.3m-18.6 -18.6v37.3m-18.6 0l37.3 -37.3m-37.3 0l37.3 37.3M2563.2 1746h37.3m-18.6 -18.6v37.3m-18.6 0l37.3 -37.3m-37.3 0l37.3 37.3M2566.8 1744.9h37.3m-18.6 -18.6v37.3m-18.6 0l37.3 -37.3m-37.3 0l37.3 37.3M2570.4 1746.4h37.3m-18.6 -18.6v37.3m-18.6 0l37.3 -37.3m-37.3 0l37.3 37.3M2574.1 1747.3h37.3m-18.6 -18.6v37.3m-18.6 0l37.3 -37.3m-37.3 0l37.3 37.3M2577.7 1753.1h37.3m-18.6 -18.6v37.3m-18.6 0l37.3 -37.3m-37.3 0l37.3 37.3M2581.3 1758.4h37.3m-18.6 -18.6v37.3m-18.6 0l37.3 -37.3m-37.3 0l37.3 37.3M2585 1758.3h37.3m-18.6 -18.6v37.3m-18.6 0l37.3 -37.3m-37.3 0l37.3 37.3M2588.6 1764.3h37.3m-18.6 -18.6v37.3m-18.6 0l37.3 -37.3m-37.3 0l37.3 37.3M2592.3 1762.8h37.3m-18.6 -18.6v37.3m-18.6 0l37.3 -37.3m-37.3 0l37.3 37.3M2595.9 1761.3h37.3m-18.6 -18.6v37.3m-18.6 0l37.3 -37.3m-37.3 0l37.3 37.3M2599.5 1764.2h37.3m-18.6 -18.6v37.3m-18.6 0l37.3 -37.3m-37.3 0l37.3 37.3M2603.2 1762.5h37.3m-18.6 -18.6v37.3m-18.6 0l37.3 -37.3m-37.3 0l37.3 37.3M2606.8 1762.5h37.3m-18.6 -18.6v37.3m-18.6 0l37.3 -37.3m-37.3 0l37.3 37.3M2610.5 1762.4h37.3m-18.6 -18.6v37.3m-18.6 0l37.3 -37.3m-37.3 0l37.3 37.3M2614.1 1762.5h37.3m-18.6 -18.6v37.3m-18.6 0l37.3 -37.3m-37.3 0l37.3 37.3M2617.7 1765h37.3m-18.6 -18.6v37.3m-18.6 0l37.3 -37.3m-37.3 0l37.3 37.3M2621.4 1759.4h37.3m-18.6 -18.6v37.3m-18.6 0l37.3 -37.3m-37.3 0l37.3 37.3M2625 1762.9h37.3m-18.6 -18.6v37.3m-18.6 0l37.3 -37.3m-37.3 0l37.3 37.3M2628.7 1763.9h37.3m-18.6 -18.6v37.3m-18.6 0l37.3 -37.3m-37.3 0l37.3 37.3M2632.3 1762.9h37.3m-18.6 -18.6v37.3m-18.6 0l37.3 -37.3m-37.3 0l37.3 37.3M2635.9 1765.9h37.3m-18.6 -18.6v37.3m-18.6 0l37.3 -37.3m-37.3 0l37.3 37.3M2639.6 1763.5h37.3m-18.6 -18.6v37.3m-18.6 0l37.3 -37.3m-37.3 0l37.3 37.3M2643.2 1761.9h37.3m-18.6 -18.6v37.3m-18.6 0l37.3 -37.3m-37.3 0l37.3 37.3M2646.9 1765h37.3m-18.6 -18.6v37.3m-18.6 0l37.3 -37.3m-37.3 0l37.3 37.3M2650.5 1762.1h37.3m-18.6 -18.6v37.3m-18.6 0l37.3 -37.3m-37.3 0l37.3 37.3M2654.1 1763.2h37.3m-18.6 -18.6v37.3m-18.6 0l37.3 -37.3m-37.3 0l37.3 37.3M2657.8 1769.6h37.3m-18.6 -18.6v37.3m-18.6 0l37.3 -37.3m-37.3 0l37.3 37.3M2661.4 1763.4h37.3m-18.6 -18.6v37.3m-18.6 0l37.3 -37.3m-37.3 0l37.3 37.3M2665.1 1764.9h37.3m-18.6 -18.6v37.3m-18.6 0l37.3 -37.3m-37.3 0l37.3 37.3M2668.7 1763.7h37.3m-18.6 -18.6v37.3m-18.6 0l37.3 -37.3m-37.3 0l37.3 37.3M2672.3 1766.2h37.3m-18.6 -18.6v37.3m-18.6 0l37.3 -37.3m-37.3 0l37.3 37.3M2676 1766h37.3m-18.6 -18.6v37.3m-18.6 0l37.3 -37.3m-37.3 0l37.3 37.3M2679.6 1765.4h37.3m-18.6 -18.6v37.3m-18.6 0l37.3 -37.3m-37.3 0l37.3 37.3M2683.3 1763.5h37.3m-18.6 -18.6v37.3m-18.6 0l37.3 -37.3m-37.3 0l37.3 37.3M2686.9 1766.1h37.3m-18.6 -18.6v37.3m-18.6 0l37.3 -37.3m-37.3 0l37.3 37.3M2690.5 1764.1h37.3m-18.6 -18.6v37.3m-18.6 0l37.3 -37.3m-37.3 0l37.3 37.3M2694.2 1761.4h37.3m-18.6 -18.6v37.3m-18.6 0l37.3 -37.3m-37.3 0l37.3 37.3M2697.8 1762.5h37.3m-18.6 -18.6v37.3m-18.6 0l37.3 -37.3m-37.3 0l37.3 37.3M2701.5 1764.1h37.3m-18.6 -18.6v37.3m-18.6 0l37.3 -37.3m-37.3 0l37.3 37.3M2705.1 1761.9h37.3m-18.6 -18.6v37.3m-18.6 0l37.3 -37.3m-37.3 0l37.3 37.3M2708.7 1766.6h37.3m-18.6 -18.6v37.3m-18.6 0l37.3 -37.3m-37.3 0l37.3 37.3M2712.4 1760.4h37.3m-18.6 -18.6v37.3m-18.6 0l37.3 -37.3m-37.3 0l37.3 37.3M2716 1767.5h37.3m-18.6 -18.6v37.3m-18.6 0l37.3 -37.3m-37.3 0l37.3 37.3M2719.7 1766.6h37.3m-18.6 -18.6v37.3m-18.6 0l37.3 -37.3m-37.3 0l37.3 37.3M2723.3 1763.4h37.3m-18.6 -18.6v37.3m-18.6 0l37.3 -37.3m-37.3 0l37.3 37.3M2726.9 1766.3h37.3m-18.6 -18.6v37.3m-18.6 0l37.3 -37.3m-37.3 0l37.3 37.3M2730.6 1764.6h37.3m-18.6 -18.6v37.3m-18.6 0l37.3 -37.3m-37.3 0l37.3 37.3M2734.2 1759.8h37.3m-18.6 -18.6v37.3m-18.6 0l37.3 -37.3m-37.3 0l37.3 37.3M2737.9 1762.2h37.3m-18.6 -18.6v37.3m-18.6 0l37.3 -37.3m-37.3 0l37.3 37.3M2741.5 1765.9h37.3m-18.6 -18.6v37.3m-18.6 0l37.3 -37.3m-37.3 0l37.3 37.3M2745.1 1762.8h37.3m-18.6 -18.6v37.3m-18.6 0l37.3 -37.3m-37.3 0l37.3 37.3M2748.8 1761.1h37.3m-18.6 -18.6v37.3m-18.6 0l37.3 -37.3m-37.3 0l37.3 37.3M2752.4 1758.8h37.3m-18.6 -18.6v37.3m-18.6 0l37.3 -37.3m-37.3 0l37.3 37.3M2756 1759.4h37.3m-18.6 -18.6v37.3m-18.6 0l37.3 -37.3m-37.3 0l37.3 37.3M2759.7 1754h37.3m-18.6 -18.6v37.3m-18.6 0l37.3 -37.3m-37.3 0l37.3 37.3M2763.3 1763.7h37.3m-18.6 -18.6v37.3m-18.6 0l37.3 -37.3m-37.3 0l37.3 37.3M2767 1761.7h37.3m-18.6 -18.6v37.3m-18.6 0l37.3 -37.3m-37.3 0l37.3 37.3M2770.6 1766.1h37.3m-18.6 -18.6v37.3m-18.6 0l37.3 -37.3m-37.3 0l37.3 37.3M2774.2 1764.9h37.3m-18.6 -18.6v37.3m-18.6 0l37.3 -37.3m-37.3 0l37.3 37.3M2777.9 1765.5h37.3m-18.6 -18.6v37.3m-18.6 0l37.3 -37.3m-37.3 0l37.3 37.3M2781.5 1763.8h37.3m-18.6 -18.6v37.3m-18.6 0l37.3 -37.3m-37.3 0l37.3 37.3M2785.2 1765.5h37.3m-18.6 -18.6v37.3m-18.6 0l37.3 -37.3m-37.3 0l37.3 37.3M2788.8 1768.9h37.3m-18.6 -18.6v37.3m-18.6 0l37.3 -37.3m-37.3 0l37.3 37.3M2792.4 1769.5h37.3m-18.6 -18.6v37.3m-18.6 0l37.3 -37.3m-37.3 0l37.3 37.3M2796.1 1770.4h37.3m-18.6 -18.6v37.3m-18.6 0l37.3 -37.3m-37.3 0l37.3 37.3M2799.7 1770.7h37.3m-18.6 -18.6v37.3m-18.6 0l37.3 -37.3m-37.3 0l37.3 37.3M2803.4 1767.8h37.3m-18.6 -18.6v37.3m-18.6 0l37.3 -37.3m-37.3 0l37.3 37.3M2807 1767h37.3m-18.6 -18.6v37.3m-18.6 0l37.3 -37.3m-37.3 0l37.3 37.3M2810.6 1769.1h37.3m-18.6 -18.6v37.3m-18.6 0l37.3 -37.3m-37.3 0l37.3 37.3M2814.3 1771.6h37.3m-18.6 -18.6v37.3m-18.6 0l37.3 -37.3m-37.3 0l37.3 37.3M2817.9 1770.8h37.3m-18.6 -18.6v37.3m-18.6 0l37.3 -37.3m-37.3 0l37.3 37.3M2821.6 1770h37.3m-18.6 -18.6v37.3m-18.6 0l37.3 -37.3m-37.3 0l37.3 37.3M2825.2 1775h37.3m-18.6 -18.6v37.3m-18.6 0l37.3 -37.3m-37.3 0l37.3 37.3M2828.8 1772.6h37.3m-18.6 -18.6v37.3m-18.6 0l37.3 -37.3m-37.3 0l37.3 37.3M2832.5 1775.8h37.3m-18.6 -18.6v37.3m-18.6 0l37.3 -37.3m-37.3 0l37.3 37.3M2836.1 1778.1h37.3m-18.6 -18.6v37.3m-18.6 0l37.3 -37.3m-37.3 0l37.3 37.3M2839.8 1775.3h37.3m-18.6 -18.6v37.3m-18.6 0l37.3 -37.3m-37.3 0l37.3 37.3M2843.4 1775.3h37.3m-18.6 -18.6v37.3m-18.6 0l37.3 -37.3m-37.3 0l37.3 37.3M2847 1777.7h37.3m-18.6 -18.6v37.3m-18.6 0l37.3 -37.3m-37.3 0l37.3 37.3M2850.7 1774.2h37.3m-18.6 -18.6v37.3m-18.6 0l37.3 -37.3m-37.3 0l37.3 37.3M2854.3 1776.5h37.3m-18.6 -18.6v37.3m-18.6 0l37.3 -37.3m-37.3 0l37.3 37.3M2858 1775h37.3m-18.6 -18.6v37.3m-18.6 0l37.3 -37.3m-37.3 0l37.3 37.3M2861.6 1775.6h37.3m-18.6 -18.6v37.3m-18.6 0l37.3 -37.3m-37.3 0l37.3 37.3M2865.2 1776.8h37.3m-18.6 -18.6v37.3m-18.6 0l37.3 -37.3m-37.3 0l37.3 37.3M2868.9 1773.8h37.3m-18.6 -18.6v37.3m-18.6 0l37.3 -37.3m-37.3 0l37.3 37.3M2872.5 1776.1h37.3m-18.6 -18.6v37.3m-18.6 0l37.3 -37.3m-37.3 0l37.3 37.3M2876.2 1775.2h37.3m-18.6 -18.6v37.3m-18.6 0l37.3 -37.3m-37.3 0l37.3 37.3M2879.8 1774.4h37.3m-18.6 -18.6v37.3m-18.6 0l37.3 -37.3m-37.3 0l37.3 37.3M2883.4 1779.3h37.3m-18.6 -18.6v37.3m-18.6 0l37.3 -37.3m-37.3 0l37.3 37.3M2887.1 1777h37.3m-18.6 -18.6v37.3m-18.6 0l37.3 -37.3m-37.3 0l37.3 37.3M2890.7 1775.8h37.3m-18.6 -18.6v37.3m-18.6 0l37.3 -37.3m-37.3 0l37.3 37.3M2894.4 1774.7h37.3m-18.6 -18.6v37.3m-18.6 0l37.3 -37.3m-37.3 0l37.3 37.3M2898 1782.8h37.3m-18.6 -18.6v37.3m-18.6 0l37.3 -37.3m-37.3 0l37.3 37.3M2901.6 1781.5h37.3m-18.6 -18.6v37.3m-18.6 0l37.3 -37.3m-37.3 0l37.3 37.3M2905.3 1779.7h37.3m-18.6 -18.6v37.3m-18.6 0l37.3 -37.3m-37.3 0l37.3 37.3M2908.9 1778.6h37.3m-18.6 -18.6v37.3m-18.6 0l37.3 -37.3m-37.3 0l37.3 37.3M2912.6 1780h37.3m-18.6 -18.6v37.3m-18.6 0l37.3 -37.3m-37.3 0l37.3 37.3M2916.2 1779.3h37.3m-18.6 -18.6v37.3m-18.6 0l37.3 -37.3m-37.3 0l37.3 37.3M2919.8 1782.3h37.3m-18.6 -18.6v37.3m-18.6 0l37.3 -37.3m-37.3 0l37.3 37.3M2923.5 1781.8h37.3m-18.6 -18.6v37.3m-18.6 0l37.3 -37.3m-37.3 0l37.3 37.3M2927.1 1782h37.3m-18.6 -18.6v37.3m-18.6 0l37.3 -37.3m-37.3 0l37.3 37.3M2930.8 1778.8h37.3m-18.6 -18.6v37.3m-18.6 0l37.3 -37.3m-37.3 0l37.3 37.3M2934.4 1787.9h37.3m-18.6 -18.6v37.3m-18.6 0l37.3 -37.3m-37.3 0l37.3 37.3M2938 1785.9h37.3m-18.6 -18.6v37.3m-18.6 0l37.3 -37.3m-37.3 0l37.3 37.3M2941.7 1782.1h37.3m-18.6 -18.6v37.3m-18.6 0l37.3 -37.3m-37.3 0l37.3 37.3M2945.3 1785.8h37.3m-18.6 -18.6v37.3m-18.6 0l37.3 -37.3m-37.3 0l37.3 37.3M2948.9 1781.9h37.3m-18.6 -18.6v37.3m-18.6 0l37.3 -37.3m-37.3 0l37.3 37.3M2952.6 1779.6h37.3m-18.6 -18.6v37.3m-18.6 0l37.3 -37.3m-37.3 0l37.3 37.3M2956.2 1781.3h37.3m-18.6 -18.6v37.3m-18.6 0l37.3 -37.3m-37.3 0l37.3 37.3M2959.9 1778.5h37.3m-18.6 -18.6v37.3m-18.6 0l37.3 -37.3m-37.3 0l37.3 37.3M2963.5 1783h37.3m-18.6 -18.6v37.3m-18.6 0l37.3 -37.3m-37.3 0l37.3 37.3M2967.1 1781.4h37.3m-18.6 -18.6v37.3m-18.6 0l37.3 -37.3m-37.3 0l37.3 37.3M2970.8 1781.5h37.3m-18.6 -18.6v37.3m-18.6 0l37.3 -37.3m-37.3 0l37.3 37.3M2974.4 1780.1h37.3m-18.6 -18.6v37.3m-18.6 0l37.3 -37.3m-37.3 0l37.3 37.3M2978.1 1785.1h37.3m-18.6 -18.6v37.3m-18.6 0l37.3 -37.3m-37.3 0l37.3 37.3M2981.7 1778h37.3m-18.6 -18.6v37.3m-18.6 0l37.3 -37.3m-37.3 0l37.3 37.3M2985.3 1781.1h37.3m-18.6 -18.6v37.3m-18.6 0l37.3 -37.3m-37.3 0l37.3 37.3M2989 1779.4h37.3m-18.6 -18.6v37.3m-18.6 0l37.3 -37.3m-37.3 0l37.3 37.3M2992.6 1779.5h37.3m-18.6 -18.6v37.3m-18.6 0l37.3 -37.3m-37.3 0l37.3 37.3M2996.3 1776.9h37.3m-18.6 -18.6v37.3m-18.6 0l37.3 -37.3m-37.3 0l37.3 37.3M2999.9 1778.3h37.3m-18.6 -18.6v37.3m-18.6 0l37.3 -37.3m-37.3 0l37.3 37.3M3003.5 1791.2h37.3m-18.6 -18.6v37.3m-18.6 0l37.3 -37.3m-37.3 0l37.3 37.3M3007.2 1782.5h37.3m-18.6 -18.6v37.3m-18.6 0l37.3 -37.3m-37.3 0l37.3 37.3M3010.8 1776.8h37.3m-18.6 -18.6v37.3m-18.6 0l37.3 -37.3m-37.3 0l37.3 37.3M3014.5 1776.1h37.3m-18.6 -18.6v37.3m-18.6 0l37.3 -37.3m-37.3 0l37.3 37.3M3018.1 1776.5h37.3m-18.6 -18.6v37.3m-18.6 0l37.3 -37.3m-37.3 0l37.3 37.3M3021.7 1776.4h37.3m-18.6 -18.6v37.3m-18.6 0l37.3 -37.3m-37.3 0l37.3 37.3M3025.4 1771.7h37.3m-18.6 -18.6v37.3m-18.6 0l37.3 -37.3m-37.3 0l37.3 37.3M3029 1773h37.3m-18.6 -18.6v37.3m-18.6 0l37.3 -37.3m-37.3 0l37.3 37.3M3032.7 1767.7h37.3m-18.6 -18.6v37.3m-18.6 0l37.3 -37.3m-37.3 0l37.3 37.3M3036.3 1765h37.3m-18.6 -18.6v37.3m-18.6 0l37.3 -37.3m-37.3 0l37.3 37.3M3039.9 1766.6h37.3m-18.6 -18.6v37.3m-18.6 0l37.3 -37.3m-37.3 0l37.3 37.3M3043.6 1765.6h37.3m-18.6 -18.6v37.3m-18.6 0l37.3 -37.3m-37.3 0l37.3 37.3M3047.2 1767h37.3m-18.6 -18.6v37.3m-18.6 0l37.3 -37.3m-37.3 0l37.3 37.3M3050.9 1768h37.3m-18.6 -18.6v37.3m-18.6 0l37.3 -37.3m-37.3 0l37.3 37.3M3054.5 1767.9h37.3m-18.6 -18.6v37.3m-18.6 0l37.3 -37.3m-37.3 0l37.3 37.3M3058.1 1763.1h37.3m-18.6 -18.6v37.3m-18.6 0l37.3 -37.3m-37.3 0l37.3 37.3M3061.8 1765.9h37.3m-18.6 -18.6v37.3m-18.6 0l37.3 -37.3m-37.3 0l37.3 37.3M3065.4 1766.7h37.3m-18.6 -18.6v37.3m-18.6 0l37.3 -37.3m-37.3 0l37.3 37.3M3069.1 1764.2h37.3m-18.6 -18.6v37.3m-18.6 0l37.3 -37.3m-37.3 0l37.3 37.3M3072.7 1766.4h37.3m-18.6 -18.6v37.3m-18.6 0l37.3 -37.3m-37.3 0l37.3 37.3M3076.3 1765.7h37.3m-18.6 -18.6v37.3m-18.6 0l37.3 -37.3m-37.3 0l37.3 37.3M3080 1764.7h37.3m-18.6 -18.6v37.3m-18.6 0l37.3 -37.3m-37.3 0l37.3 37.3M3083.6 1769.7h37.3m-18.6 -18.6v37.3m-18.6 0l37.3 -37.3m-37.3 0l37.3 37.3M3087.3 1769.2h37.3m-18.6 -18.6v37.3m-18.6 0l37.3 -37.3m-37.3 0l37.3 37.3M3090.9 1764.1h37.3m-18.6 -18.6v37.3m-18.6 0l37.3 -37.3m-37.3 0l37.3 37.3M3094.5 1765.4h37.3m-18.6 -18.6v37.3m-18.6 0l37.3 -37.3m-37.3 0l37.3 37.3M3098.2 1761.1h37.3m-18.6 -18.6v37.3m-18.6 0l37.3 -37.3m-37.3 0l37.3 37.3M3101.8 1762.1h37.3m-18.6 -18.6v37.3m-18.6 0l37.3 -37.3m-37.3 0l37.3 37.3M3105.5 1762.2h37.3m-18.6 -18.6v37.3m-18.6 0l37.3 -37.3m-37.3 0l37.3 37.3M3109.1 1762h37.3m-18.6 -18.6v37.3m-18.6 0l37.3 -37.3m-37.3 0l37.3 37.3M3112.7 1762.2h37.3m-18.6 -18.6v37.3m-18.6 0l37.3 -37.3m-37.3 0l37.3 37.3M3116.4 1761.7h37.3m-18.6 -18.6v37.3m-18.6 0l37.3 -37.3m-37.3 0l37.3 37.3M3120 1762.2h37.3m-18.6 -18.6v37.3m-18.6 0l37.3 -37.3m-37.3 0l37.3 37.3M3123.6 1764.1h37.3m-18.6 -18.6v37.3m-18.6 0l37.3 -37.3m-37.3 0l37.3 37.3M3127.3 1761.2h37.3m-18.6 -18.6v37.3m-18.6 0l37.3 -37.3m-37.3 0l37.3 37.3M3130.9 1761.9h37.3m-18.6 -18.6v37.3m-18.6 0l37.3 -37.3m-37.3 0l37.3 37.3M3134.6 1763.2h37.3m-18.6 -18.6v37.3m-18.6 0l37.3 -37.3m-37.3 0l37.3 37.3M3138.2 1764.2h37.3m-18.6 -18.6v37.3m-18.6 0l37.3 -37.3m-37.3 0l37.3 37.3M3141.8 1760.3h37.3m-18.6 -18.6v37.3m-18.6 0l37.3 -37.3m-37.3 0l37.3 37.3M3145.5 1762h37.3m-18.6 -18.6v37.3m-18.6 0l37.3 -37.3m-37.3 0l37.3 37.3M3149.1 1764.5h37.3m-18.6 -18.6v37.3m-18.6 0l37.3 -37.3m-37.3 0l37.3 37.3M3152.8 1761.9h37.3m-18.6 -18.6v37.3m-18.6 0l37.3 -37.3m-37.3 0l37.3 37.3M3156.4 1764.7h37.3m-18.6 -18.6v37.3m-18.6 0l37.3 -37.3m-37.3 0l37.3 37.3M3160 1769.5h37.3m-18.6 -18.6v37.3m-18.6 0l37.3 -37.3m-37.3 0l37.3 37.3M3163.7 1766.8h37.3m-18.6 -18.6v37.3m-18.6 0l37.3 -37.3m-37.3 0l37.3 37.3M3167.3 1767.5h37.3m-18.6 -18.6v37.3m-18.6 0l37.3 -37.3m-37.3 0l37.3 37.3M3171 1765.5h37.3m-18.6 -18.6v37.3m-18.6 0l37.3 -37.3m-37.3 0l37.3 37.3M3174.6 1762.4h37.3m-18.6 -18.6v37.3m-18.6 0l37.3 -37.3m-37.3 0l37.3 37.3M3258.3 1761.1h37.3m-18.6 -18.6v37.3m-18.6 0l37.3 -37.3m-37.3 0l37.3 37.3M3262 1758h37.3m-18.6 -18.6v37.3m-18.6 0l37.3 -37.3m-37.3 0l37.3 37.3M3265.6 1758.6h37.3m-18.6 -18.6v37.3m-18.6 0l37.3 -37.3m-37.3 0l37.3 37.3M3269.2 1758.9h37.3m-18.6 -18.6v37.3m-18.6 0l37.3 -37.3m-37.3 0l37.3 37.3M3272.9 1757.4h37.3m-18.6 -18.6v37.3m-18.6 0l37.3 -37.3m-37.3 0l37.3 37.3M3276.5 1761.5h37.3m-18.6 -18.6v37.3m-18.6 0l37.3 -37.3m-37.3 0l37.3 37.3M3280.2 1764h37.3m-18.6 -18.6v37.3m-18.6 0l37.3 -37.3m-37.3 0l37.3 37.3M3283.8 1762.4h37.3m-18.6 -18.6v37.3m-18.6 0l37.3 -37.3m-37.3 0l37.3 37.3M3287.4 1762.5h37.3m-18.6 -18.6v37.3m-18.6 0l37.3 -37.3m-37.3 0l37.3 37.3M3291.1 1764.5h37.3m-18.6 -18.6v37.3m-18.6 0l37.3 -37.3m-37.3 0l37.3 37.3M3294.7 1762.7h37.3m-18.6 -18.6v37.3m-18.6 0l37.3 -37.3m-37.3 0l37.3 37.3M3298.4 1766.8h37.3m-18.6 -18.6v37.3m-18.6 0l37.3 -37.3m-37.3 0l37.3 37.3M3302 1760.2h37.3m-18.6 -18.6v37.3m-18.6 0l37.3 -37.3m-37.3 0l37.3 37.3M3305.6 1760.6h37.3m-18.6 -18.6v37.3m-18.6 0l37.3 -37.3m-37.3 0l37.3 37.3M3309.3 1762.1h37.3m-18.6 -18.6v37.3m-18.6 0l37.3 -37.3m-37.3 0l37.3 37.3M3312.9 1760.6h37.3m-18.6 -18.6v37.3m-18.6 0l37.3 -37.3m-37.3 0l37.3 37.3M3316.5 1758.9h37.3m-18.6 -18.6v37.3m-18.6 0l37.3 -37.3m-37.3 0l37.3 37.3M3320.2 1760.4h37.3m-18.6 -18.6v37.3m-18.6 0l37.3 -37.3m-37.3 0l37.3 37.3M3323.8 1756.8h37.3m-18.6 -18.6v37.3m-18.6 0l37.3 -37.3m-37.3 0l37.3 37.3M3327.5 1760.9h37.3m-18.6 -18.6v37.3m-18.6 0l37.3 -37.3m-37.3 0l37.3 37.3M3331.1 1761.4h37.3m-18.6 -18.6v37.3m-18.6 0l37.3 -37.3m-37.3 0l37.3 37.3M3334.7 1758.7h37.3m-18.6 -18.6v37.3m-18.6 0l37.3 -37.3m-37.3 0l37.3 37.3M3338.4 1758.9h37.3m-18.6 -18.6v37.3m-18.6 0l37.3 -37.3m-37.3 0l37.3 37.3M3342 1766h37.3m-18.6 -18.6v37.3m-18.6 0l37.3 -37.3m-37.3 0l37.3 37.3M3345.7 1765.8h37.3m-18.6 -18.6v37.3m-18.6 0l37.3 -37.3m-37.3 0l37.3 37.3M3349.3 1766h37.3m-18.6 -18.6v37.3m-18.6 0l37.3 -37.3m-37.3 0l37.3 37.3M3352.9 1773.6h37.3m-18.6 -18.6v37.3m-18.6 0l37.3 -37.3m-37.3 0l37.3 37.3M3356.6 1773.9h37.3m-18.6 -18.6v37.3m-18.6 0l37.3 -37.3m-37.3 0l37.3 37.3M3360.2 1777.5h37.3m-18.6 -18.6v37.3m-18.6 0l37.3 -37.3m-37.3 0l37.3 37.3M3363.9 1775.2h37.3m-18.6 -18.6v37.3m-18.6 0l37.3 -37.3m-37.3 0l37.3 37.3M3367.5 1774.5h37.3m-18.6 -18.6v37.3m-18.6 0l37.3 -37.3m-37.3 0l37.3 37.3M3371.1 1777.1h37.3m-18.6 -18.6v37.3m-18.6 0l37.3 -37.3m-37.3 0l37.3 37.3M3374.8 1773.8h37.3m-18.6 -18.6v37.3m-18.6 0l37.3 -37.3m-37.3 0l37.3 37.3M3378.4 1771.4h37.3m-18.6 -18.6v37.3m-18.6 0l37.3 -37.3m-37.3 0l37.3 37.3M3382.1 1774.5h37.3m-18.6 -18.6v37.3m-18.6 0l37.3 -37.3m-37.3 0l37.3 37.3M3385.7 1779.7h37.3m-18.6 -18.6v37.3m-18.6 0l37.3 -37.3m-37.3 0l37.3 37.3M3389.3 1776.6h37.3m-18.6 -18.6v37.3m-18.6 0l37.3 -37.3m-37.3 0l37.3 37.3M3393 1773.1h37.3m-18.6 -18.6v37.3m-18.6 0l37.3 -37.3m-37.3 0l37.3 37.3M3396.6 1778.1h37.3m-18.6 -18.6v37.3m-18.6 0l37.3 -37.3m-37.3 0l37.3 37.3M3400.3 1778.2h37.3m-18.6 -18.6v37.3m-18.6 0l37.3 -37.3m-37.3 0l37.3 37.3M3403.9 1776.2h37.3m-18.6 -18.6v37.3m-18.6 0l37.3 -37.3m-37.3 0l37.3 37.3M3407.5 1777.5h37.3m-18.6 -18.6v37.3m-18.6 0l37.3 -37.3m-37.3 0l37.3 37.3M3411.2 1774.9h37.3m-18.6 -18.6v37.3m-18.6 0l37.3 -37.3m-37.3 0l37.3 37.3M3414.8 1774.6h37.3m-18.6 -18.6v37.3m-18.6 0l37.3 -37.3m-37.3 0l37.3 37.3M3418.5 1769.1h37.3m-18.6 -18.6v37.3m-18.6 0l37.3 -37.3m-37.3 0l37.3 37.3M3422.1 1773.8h37.3m-18.6 -18.6v37.3m-18.6 0l37.3 -37.3m-37.3 0l37.3 37.3M3425.7 1772.7h37.3m-18.6 -18.6v37.3m-18.6 0l37.3 -37.3m-37.3 0l37.3 37.3M3429.4 1773.9h37.3m-18.6 -18.6v37.3m-18.6 0l37.3 -37.3m-37.3 0l37.3 37.3M3433 1774.9h37.3m-18.6 -18.6v37.3m-18.6 0l37.3 -37.3m-37.3 0l37.3 37.3M3436.7 1777h37.3m-18.6 -18.6v37.3m-18.6 0l37.3 -37.3m-37.3 0l37.3 37.3M3440.3 1777.5h37.3m-18.6 -18.6v37.3m-18.6 0l37.3 -37.3m-37.3 0l37.3 37.3M3443.9 1775h37.3m-18.6 -18.6v37.3m-18.6 0l37.3 -37.3m-37.3 0l37.3 37.3M3447.6 1772h37.3m-18.6 -18.6v37.3m-18.6 0l37.3 -37.3m-37.3 0l37.3 37.3M3451.2 1778h37.3m-18.6 -18.6v37.3m-18.6 0l37.3 -37.3m-37.3 0l37.3 37.3M3454.9 1778.5h37.3m-18.6 -18.6v37.3m-18.6 0l37.3 -37.3m-37.3 0l37.3 37.3M3458.5 1774.9h37.3m-18.6 -18.6v37.3m-18.6 0l37.3 -37.3m-37.3 0l37.3 37.3M3462.1 1778.8h37.3m-18.6 -18.6v37.3m-18.6 0l37.3 -37.3m-37.3 0l37.3 37.3M3465.8 1777h37.3m-18.6 -18.6v37.3m-18.6 0l37.3 -37.3m-37.3 0l37.3 37.3M3469.4 1775.3h37.3m-18.6 -18.6v37.3m-18.6 0l37.3 -37.3m-37.3 0l37.3 37.3M3473.1 1780.5h37.3m-18.6 -18.6v37.3m-18.6 0l37.3 -37.3m-37.3 0l37.3 37.3M3476.7 1778.1h37.3m-18.6 -18.6v37.3m-18.6 0l37.3 -37.3m-37.3 0l37.3 37.3M3480.3 1778.7h37.3m-18.6 -18.6v37.3m-18.6 0l37.3 -37.3m-37.3 0l37.3 37.3M3484 1778.9h37.3m-18.6 -18.6v37.3m-18.6 0l37.3 -37.3m-37.3 0l37.3 37.3M3487.6 1780.5h37.3m-18.6 -18.6v37.3m-18.6 0l37.3 -37.3m-37.3 0l37.3 37.3M3491.3 1780.3h37.3m-18.6 -18.6v37.3m-18.6 0l37.3 -37.3m-37.3 0l37.3 37.3M3494.9 1777.7h37.3m-18.6 -18.6v37.3m-18.6 0l37.3 -37.3m-37.3 0l37.3 37.3M3498.5 1780.4h37.3m-18.6 -18.6v37.3m-18.6 0l37.3 -37.3m-37.3 0l37.3 37.3M3502.2 1783.3h37.3m-18.6 -18.6v37.3m-18.6 0l37.3 -37.3m-37.3 0l37.3 37.3M3505.8 1782.1h37.3m-18.6 -18.6v37.3m-18.6 0l37.3 -37.3m-37.3 0l37.3 37.3M3509.4 1784h37.3m-18.6 -18.6v37.3m-18.6 0l37.3 -37.3m-37.3 0l37.3 37.3M3513.1 1789h37.3m-18.6 -18.6v37.3m-18.6 0l37.3 -37.3m-37.3 0l37.3 37.3M3516.7 1782.1h37.3m-18.6 -18.6v37.3m-18.6 0l37.3 -37.3m-37.3 0l37.3 37.3M3520.4 1785.4h37.3m-18.6 -18.6v37.3m-18.6 0l37.3 -37.3m-37.3 0l37.3 37.3M3524 1786.8h37.3m-18.6 -18.6v37.3m-18.6 0l37.3 -37.3m-37.3 0l37.3 37.3M3527.6 1788.6h37.3m-18.6 -18.6v37.3m-18.6 0l37.3 -37.3m-37.3 0l37.3 37.3M3531.3 1792.3h37.3m-18.6 -18.6v37.3m-18.6 0l37.3 -37.3m-37.3 0l37.3 37.3M3534.9 1786.5h37.3m-18.6 -18.6v37.3m-18.6 0l37.3 -37.3m-37.3 0l37.3 37.3M3538.6 1788.4h37.3m-18.6 -18.6v37.3m-18.6 0l37.3 -37.3m-37.3 0l37.3 37.3M3542.2 1786.1h37.3m-18.6 -18.6v37.3m-18.6 0l37.3 -37.3m-37.3 0l37.3 37.3M3545.8 1789.5h37.3m-18.6 -18.6v37.3m-18.6 0l37.3 -37.3m-37.3 0l37.3 37.3M3549.5 1789.6h37.3m-18.6 -18.6v37.3m-18.6 0l37.3 -37.3m-37.3 0l37.3 37.3M3553.1 1792.5h37.3m-18.6 -18.6v37.3m-18.6 0l37.3 -37.3m-37.3 0l37.3 37.3M3556.8 1794.3h37.3m-18.6 -18.6v37.3m-18.6 0l37.3 -37.3m-37.3 0l37.3 37.3M3560.4 1792.3h37.3m-18.6 -18.6v37.3m-18.6 0l37.3 -37.3m-37.3 0l37.3 37.3M3564 1792.4h37.3m-18.6 -18.6v37.3m-18.6 0l37.3 -37.3m-37.3 0l37.3 37.3M3567.7 1793.5h37.3m-18.6 -18.6v37.3m-18.6 0l37.3 -37.3m-37.3 0l37.3 37.3M3571.3 1792.5h37.3m-18.6 -18.6v37.3m-18.6 0l37.3 -37.3m-37.3 0l37.3 37.3M3575 1792.1h37.3m-18.6 -18.6v37.3m-18.6 0l37.3 -37.3m-37.3 0l37.3 37.3M3578.6 1791.3h37.3m-18.6 -18.6v37.3m-18.6 0l37.3 -37.3m-37.3 0l37.3 37.3M3582.2 1792.8h37.3m-18.6 -18.6v37.3m-18.6 0l37.3 -37.3m-37.3 0l37.3 37.3M3585.9 1782.8h37.3m-18.6 -18.6v37.3m-18.6 0l37.3 -37.3m-37.3 0l37.3 37.3M3589.5 1791.1h37.3m-18.6 -18.6v37.3m-18.6 0l37.3 -37.3m-37.3 0l37.3 37.3M3593.2 1789.2h37.3m-18.6 -18.6v37.3m-18.6 0l37.3 -37.3m-37.3 0l37.3 37.3M3596.8 1789.2h37.3m-18.6 -18.6v37.3m-18.6 0l37.3 -37.3m-37.3 0l37.3 37.3M3600.4 1785h37.3m-18.6 -18.6v37.3m-18.6 0l37.3 -37.3m-37.3 0l37.3 37.3M3604.1 1793.1h37.3m-18.6 -18.6v37.3m-18.6 0l37.3 -37.3m-37.3 0l37.3 37.3M3607.7 1790.6h37.3m-18.6 -18.6v37.3m-18.6 0l37.3 -37.3m-37.3 0l37.3 37.3M3611.4 1791.1h37.3m-18.6 -18.6v37.3m-18.6 0l37.3 -37.3m-37.3 0l37.3 37.3M3615 1790.3h37.3m-18.6 -18.6v37.3m-18.6 0l37.3 -37.3m-37.3 0l37.3 37.3M3618.6 1792.8h37.3m-18.6 -18.6v37.3m-18.6 0l37.3 -37.3m-37.3 0l37.3 37.3M3622.3 1788.7h37.3m-18.6 -18.6v37.3m-18.6 0l37.3 -37.3m-37.3 0l37.3 37.3M3625.9 1788.9h37.3m-18.6 -18.6v37.3m-18.6 0l37.3 -37.3m-37.3 0l37.3 37.3M3629.6 1795.3h37.3m-18.6 -18.6v37.3m-18.6 0l37.3 -37.3m-37.3 0l37.3 37.3M3633.2 1793.2h37.3m-18.6 -18.6v37.3m-18.6 0l37.3 -37.3m-37.3 0l37.3 37.3M3636.8 1856.8h37.3m-18.6 -18.6v37.3m-18.6 0l37.3 -37.3m-37.3 0l37.3 37.3M3640.5 1853.7h37.3m-18.6 -18.6v37.3m-18.6 0l37.3 -37.3m-37.3 0l37.3 37.3M3644.1 1857.1h37.3m-18.6 -18.6v37.3m-18.6 0l37.3 -37.3m-37.3 0l37.3 37.3M3647.8 1856.6h37.3m-18.6 -18.6v37.3m-18.6 0l37.3 -37.3m-37.3 0l37.3 37.3M3651.4 1856.7h37.3m-18.6 -18.6v37.3m-18.6 0l37.3 -37.3m-37.3 0l37.3 37.3M3655 1858.2h37.3m-18.6 -18.6v37.3m-18.6 0l37.3 -37.3m-37.3 0l37.3 37.3M3658.7 1856.2h37.3m-18.6 -18.6v37.3m-18.6 0l37.3 -37.3m-37.3 0l37.3 37.3M3662.3 1855.3h37.3m-18.6 -18.6v37.3m-18.6 0l37.3 -37.3m-37.3 0l37.3 37.3M3666 1857.6h37.3m-18.6 -18.6v37.3m-18.6 0l37.3 -37.3m-37.3 0l37.3 37.3M3669.6 1850.1h37.3m-18.6 -18.6v37.3m-18.6 0l37.3 -37.3m-37.3 0l37.3 37.3M3673.2 1854h37.3m-18.6 -18.6v37.3m-18.6 0l37.3 -37.3m-37.3 0l37.3 37.3M3676.9 1854.8h37.3m-18.6 -18.6v37.3m-18.6 0l37.3 -37.3m-37.3 0l37.3 37.3M3680.5 1856.3h37.3m-18.6 -18.6v37.3m-18.6 0l37.3 -37.3m-37.3 0l37.3 37.3M3684.1 1853.8h37.3m-18.6 -18.6v37.3m-18.6 0l37.3 -37.3m-37.3 0l37.3 37.3M3687.8 1856.7h37.3m-18.6 -18.6v37.3m-18.6 0l37.3 -37.3m-37.3 0l37.3 37.3M3691.4 1855.4h37.3m-18.6 -18.6v37.3m-18.6 0l37.3 -37.3m-37.3 0l37.3 37.3M3695.1 1855.1h37.3m-18.6 -18.6v37.3m-18.6 0l37.3 -37.3m-37.3 0l37.3 37.3M3698.7 1856.7h37.3m-18.6 -18.6v37.3m-18.6 0l37.3 -37.3m-37.3 0l37.3 37.3M3702.3 1852.9h37.3m-18.6 -18.6v37.3m-18.6 0l37.3 -37.3m-37.3 0l37.3 37.3M3706 1855.3h37.3m-18.6 -18.6v37.3m-18.6 0l37.3 -37.3m-37.3 0l37.3 37.3M3709.6 1861.8h37.3m-18.6 -18.6v37.3m-18.6 0l37.3 -37.3m-37.3 0l37.3 37.3M3713.3 1857.1h37.3m-18.6 -18.6v37.3m-18.6 0l37.3 -37.3m-37.3 0l37.3 37.3M3716.9 1856.3h37.3m-18.6 -18.6v37.3m-18.6 0l37.3 -37.3m-37.3 0l37.3 37.3M3720.5 1854.5h37.3m-18.6 -18.6v37.3m-18.6 0l37.3 -37.3m-37.3 0l37.3 37.3M3724.2 1855h37.3m-18.6 -18.6v37.3m-18.6 0l37.3 -37.3m-37.3 0l37.3 37.3M3727.8 1858.6h37.3m-18.6 -18.6v37.3m-18.6 0l37.3 -37.3m-37.3 0l37.3 37.3M3731.5 1857.7h37.3m-18.6 -18.6v37.3m-18.6 0l37.3 -37.3m-37.3 0l37.3 37.3M3735.1 1855.8h37.3m-18.6 -18.6v37.3m-18.6 0l37.3 -37.3m-37.3 0l37.3 37.3M3738.7 1864.1h37.3m-18.6 -18.6v37.3m-18.6 0l37.3 -37.3m-37.3 0l37.3 37.3M3742.4 1865.5h37.3m-18.6 -18.6v37.3m-18.6 0l37.3 -37.3m-37.3 0l37.3 37.3M3746 1873.2h37.3m-18.6 -18.6v37.3m-18.6 0l37.3 -37.3m-37.3 0l37.3 37.3M3749.7 1876.8h37.3m-18.6 -18.6v37.3m-18.6 0l37.3 -37.3m-37.3 0l37.3 37.3M3753.3 1876.7h37.3m-18.6 -18.6v37.3m-18.6 0l37.3 -37.3m-37.3 0l37.3 37.3M3756.9 1877.7h37.3m-18.6 -18.6v37.3m-18.6 0l37.3 -37.3m-37.3 0l37.3 37.3M3760.6 1880.3h37.3m-18.6 -18.6v37.3m-18.6 0l37.3 -37.3m-37.3 0l37.3 37.3M3764.2 1876.9h37.3m-18.6 -18.6v37.3m-18.6 0l37.3 -37.3m-37.3 0l37.3 37.3M3767.9 1878.3h37.3m-18.6 -18.6v37.3m-18.6 0l37.3 -37.3m-37.3 0l37.3 37.3M3771.5 1876.9h37.3m-18.6 -18.6v37.3m-18.6 0l37.3 -37.3m-37.3 0l37.3 37.3M3775.1 1875.3h37.3m-18.6 -18.6v37.3m-18.6 0l37.3 -37.3m-37.3 0l37.3 37.3M3778.8 1881h37.3m-18.6 -18.6v37.3m-18.6 0l37.3 -37.3m-37.3 0l37.3 37.3M3782.4 1879.4h37.3m-18.6 -18.6v37.3m-18.6 0l37.3 -37.3m-37.3 0l37.3 37.3M3786.1 1880.7h37.3m-18.6 -18.6v37.3m-18.6 0l37.3 -37.3m-37.3 0l37.3 37.3M3789.7 1882.8h37.3m-18.6 -18.6v37.3m-18.6 0l37.3 -37.3m-37.3 0l37.3 37.3M3793.3 1881.6h37.3m-18.6 -18.6v37.3m-18.6 0l37.3 -37.3m-37.3 0l37.3 37.3M3797 1879.5h37.3m-18.6 -18.6v37.3m-18.6 0l37.3 -37.3m-37.3 0l37.3 37.3M3800.6 1883.6h37.3m-18.6 -18.6v37.3m-18.6 0l37.3 -37.3m-37.3 0l37.3 37.3M3804.3 1884.6h37.3m-18.6 -18.6v37.3m-18.6 0l37.3 -37.3m-37.3 0l37.3 37.3M3807.9 1884.5h37.3m-18.6 -18.6v37.3m-18.6 0l37.3 -37.3m-37.3 0l37.3 37.3M3811.5 1882.5h37.3m-18.6 -18.6v37.3m-18.6 0l37.3 -37.3m-37.3 0l37.3 37.3M3815.2 1884.1h37.3m-18.6 -18.6v37.3m-18.6 0l37.3 -37.3m-37.3 0l37.3 37.3M3818.8 1885.6h37.3m-18.6 -18.6v37.3m-18.6 0l37.3 -37.3m-37.3 0l37.3 37.3M3822.5 1885.9h37.3m-18.6 -18.6v37.3m-18.6 0l37.3 -37.3m-37.3 0l37.3 37.3M3826.1 1884.4h37.3m-18.6 -18.6v37.3m-18.6 0l37.3 -37.3m-37.3 0l37.3 37.3M3829.7 1886.5h37.3m-18.6 -18.6v37.3m-18.6 0l37.3 -37.3m-37.3 0l37.3 37.3M3833.4 1888h37.3m-18.6 -18.6v37.3m-18.6 0l37.3 -37.3m-37.3 0l37.3 37.3M3837 1888.9h37.3m-18.6 -18.6v37.3m-18.6 0l37.3 -37.3m-37.3 0l37.3 37.3M3840.7 1887.9h37.3m-18.6 -18.6v37.3m-18.6 0l37.3 -37.3m-37.3 0l37.3 37.3M3844.3 1889.9h37.3m-18.6 -18.6v37.3m-18.6 0l37.3 -37.3m-37.3 0l37.3 37.3M3847.9 1890.6h37.3m-18.6 -18.6v37.3m-18.6 0l37.3 -37.3m-37.3 0l37.3 37.3M3851.6 1893.9h37.3m-18.6 -18.6v37.3m-18.6 0l37.3 -37.3m-37.3 0l37.3 37.3M3855.2 1896h37.3m-18.6 -18.6v37.3m-18.6 0l37.3 -37.3m-37.3 0l37.3 37.3M3858.9 1900.6h37.3m-18.6 -18.6v37.3m-18.6 0l37.3 -37.3m-37.3 0l37.3 37.3M3862.5 1901.4h37.3m-18.6 -18.6v37.3m-18.6 0l37.3 -37.3m-37.3 0l37.3 37.3M3866.1 1903.5h37.3m-18.6 -18.6v37.3m-18.6 0l37.3 -37.3m-37.3 0l37.3 37.3M3869.8 1908.5h37.3m-18.6 -18.6v37.3m-18.6 0l37.3 -37.3m-37.3 0l37.3 37.3M3873.4 1905h37.3m-18.6 -18.6v37.3m-18.6 0l37.3 -37.3m-37.3 0l37.3 37.3M3877 1906.5h37.3m-18.6 -18.6v37.3m-18.6 0l37.3 -37.3m-37.3 0l37.3 37.3M3880.7 1903.8h37.3m-18.6 -18.6v37.3m-18.6 0l37.3 -37.3m-37.3 0l37.3 37.3M3884.3 1909.7h37.3m-18.6 -18.6v37.3m-18.6 0l37.3 -37.3m-37.3 0l37.3 37.3M3888 1910h37.3m-18.6 -18.6v37.3m-18.6 0l37.3 -37.3m-37.3 0l37.3 37.3M3891.6 1900.9h37.3m-18.6 -18.6v37.3m-18.6 0l37.3 -37.3m-37.3 0l37.3 37.3M3895.2 1905.1h37.3m-18.6 -18.6v37.3m-18.6 0l37.3 -37.3m-37.3 0l37.3 37.3M3898.9 1902.6h37.3m-18.6 -18.6v37.3m-18.6 0l37.3 -37.3m-37.3 0l37.3 37.3M3902.5 1902.9h37.3m-18.6 -18.6v37.3m-18.6 0l37.3 -37.3m-37.3 0l37.3 37.3M3906.2 1903h37.3m-18.6 -18.6v37.3m-18.6 0l37.3 -37.3m-37.3 0l37.3 37.3M3909.8 1895.9h37.3m-18.6 -18.6v37.3m-18.6 0l37.3 -37.3m-37.3 0l37.3 37.3M3913.4 1892.8h37.3m-18.6 -18.6v37.3m-18.6 0l37.3 -37.3m-37.3 0l37.3 37.3M3917.1 1887.3h37.3m-18.6 -18.6v37.3m-18.6 0l37.3 -37.3m-37.3 0l37.3 37.3M3920.7 1881.6h37.3m-18.6 -18.6v37.3m-18.6 0l37.3 -37.3m-37.3 0l37.3 37.3M3924.4 1883h37.3m-18.6 -18.6v37.3m-18.6 0l37.3 -37.3m-37.3 0l37.3 37.3M3928 1883.7h37.3m-18.6 -18.6v37.3m-18.6 0l37.3 -37.3m-37.3 0l37.3 37.3M3931.6 1884h37.3m-18.6 -18.6v37.3m-18.6 0l37.3 -37.3m-37.3 0l37.3 37.3M3935.3 1884.4h37.3m-18.6 -18.6v37.3m-18.6 0l37.3 -37.3m-37.3 0l37.3 37.3M3938.9 1885.5h37.3m-18.6 -18.6v37.3m-18.6 0l37.3 -37.3m-37.3 0l37.3 37.3M3942.6 1883.9h37.3m-18.6 -18.6v37.3m-18.6 0l37.3 -37.3m-37.3 0l37.3 37.3M3946.2 1883.4h37.3m-18.6 -18.6v37.3m-18.6 0l37.3 -37.3m-37.3 0l37.3 37.3M3949.8 1882.4h37.3m-18.6 -18.6v37.3m-18.6 0l37.3 -37.3m-37.3 0l37.3 37.3M3953.5 1881.4h37.3m-18.6 -18.6v37.3m-18.6 0l37.3 -37.3m-37.3 0l37.3 37.3M3957.1 1881h37.3m-18.6 -18.6v37.3m-18.6 0l37.3 -37.3m-37.3 0l37.3 37.3M3960.8 1885.7h37.3m-18.6 -18.6v37.3m-18.6 0l37.3 -37.3m-37.3 0l37.3 37.3M3964.4 1886.8h37.3m-18.6 -18.6v37.3m-18.6 0l37.3 -37.3m-37.3 0l37.3 37.3M3968 1883.8h37.3m-18.6 -18.6v37.3m-18.6 0l37.3 -37.3m-37.3 0l37.3 37.3M3971.7 1884.5h37.3m-18.6 -18.6v37.3m-18.6 0l37.3 -37.3m-37.3 0l37.3 37.3M3975.3 1883.2h37.3m-18.6 -18.6v37.3m-18.6 0l37.3 -37.3m-37.3 0l37.3 37.3M3979 1883.4h37.3m-18.6 -18.6v37.3m-18.6 0l37.3 -37.3m-37.3 0l37.3 37.3M3982.6 1883h37.3m-18.6 -18.6v37.3m-18.6 0l37.3 -37.3m-37.3 0l37.3 37.3M3986.2 1886h37.3m-18.6 -18.6v37.3m-18.6 0l37.3 -37.3m-37.3 0l37.3 37.3M3989.9 1885.6h37.3m-18.6 -18.6v37.3m-18.6 0l37.3 -37.3m-37.3 0l37.3 37.3M3993.5 1878.4h37.3m-18.6 -18.6v37.3m-18.6 0l37.3 -37.3m-37.3 0l37.3 37.3M3997.2 1881.2h37.3m-18.6 -18.6v37.3m-18.6 0l37.3 -37.3m-37.3 0l37.3 37.3M4000.8 1882h37.3m-18.6 -18.6v37.3m-18.6 0l37.3 -37.3m-37.3 0l37.3 37.3M4004.4 1881.3h37.3m-18.6 -18.6v37.3m-18.6 0l37.3 -37.3m-37.3 0l37.3 37.3M4008.1 1880h37.3m-18.6 -18.6v37.3m-18.6 0l37.3 -37.3m-37.3 0l37.3 37.3M4011.7 1881.9h37.3m-18.6 -18.6v37.3m-18.6 0l37.3 -37.3m-37.3 0l37.3 37.3M4015.4 1879.2h37.3m-18.6 -18.6v37.3m-18.6 0l37.3 -37.3m-37.3 0l37.3 37.3M4019 1881.3h37.3m-18.6 -18.6v37.3m-18.6 0l37.3 -37.3m-37.3 0l37.3 37.3M4022.6 1878.8h37.3m-18.6 -18.6v37.3m-18.6 0l37.3 -37.3m-37.3 0l37.3 37.3M4026.3 1881.8h37.3m-18.6 -18.6v37.3m-18.6 0l37.3 -37.3m-37.3 0l37.3 37.3M4029.9 1881.4h37.3m-18.6 -18.6v37.3m-18.6 0l37.3 -37.3m-37.3 0l37.3 37.3M4033.6 1880.1h37.3m-18.6 -18.6v37.3m-18.6 0l37.3 -37.3m-37.3 0l37.3 37.3M4037.2 1885.5h37.3m-18.6 -18.6v37.3m-18.6 0l37.3 -37.3m-37.3 0l37.3 37.3M4040.8 1885.8h37.3m-18.6 -18.6v37.3m-18.6 0l37.3 -37.3m-37.3 0l37.3 37.3M4044.5 1884.1h37.3m-18.6 -18.6v37.3m-18.6 0l37.3 -37.3m-37.3 0l37.3 37.3M4048.1 1884.6h37.3m-18.6 -18.6v37.3m-18.6 0l37.3 -37.3m-37.3 0l37.3 37.3M4051.7 1884.7h37.3m-18.6 -18.6v37.3m-18.6 0l37.3 -37.3m-37.3 0l37.3 37.3M4055.4 1884.2h37.3m-18.6 -18.6v37.3m-18.6 0l37.3 -37.3m-37.3 0l37.3 37.3M4059 1886.2h37.3m-18.6 -18.6v37.3m-18.6 0l37.3 -37.3m-37.3 0l37.3 37.3M4062.7 1886.7h37.3m-18.6 -18.6v37.3m-18.6 0l37.3 -37.3m-37.3 0l37.3 37.3M4066.3 1884.1h37.3m-18.6 -18.6v37.3m-18.6 0l37.3 -37.3m-37.3 0l37.3 37.3M4069.9 1883.6h37.3m-18.6 -18.6v37.3m-18.6 0l37.3 -37.3m-37.3 0l37.3 37.3M4073.6 1884.5h37.3m-18.6 -18.6v37.3m-18.6 0l37.3 -37.3m-37.3 0l37.3 37.3M4077.2 1883.9h37.3m-18.6 -18.6v37.3m-18.6 0l37.3 -37.3m-37.3 0l37.3 37.3M4080.9 1877.9h37.3m-18.6 -18.6v37.3m-18.6 0l37.3 -37.3m-37.3 0l37.3 37.3M4084.5 1881.3h37.3m-18.6 -18.6v37.3m-18.6 0l37.3 -37.3m-37.3 0l37.3 37.3M4088.1 1883.8h37.3m-18.6 -18.6v37.3m-18.6 0l37.3 -37.3m-37.3 0l37.3 37.3M4091.8 1874.7h37.3m-18.6 -18.6v37.3m-18.6 0l37.3 -37.3m-37.3 0l37.3 37.3M4095.4 1879.9h37.3m-18.6 -18.6v37.3m-18.6 0l37.3 -37.3m-37.3 0l37.3 37.3M4099.1 1878.8h37.3m-18.6 -18.6v37.3m-18.6 0l37.3 -37.3m-37.3 0l37.3 37.3M4102.7 1881.6h37.3m-18.6 -18.6v37.3m-18.6 0l37.3 -37.3m-37.3 0l37.3 37.3M4106.3 1881.3h37.3m-18.6 -18.6v37.3m-18.6 0l37.3 -37.3m-37.3 0l37.3 37.3M4110 1884.1h37.3m-18.6 -18.6v37.3m-18.6 0l37.3 -37.3m-37.3 0l37.3 37.3M4113.6 1883.2h37.3m-18.6 -18.6v37.3m-18.6 0l37.3 -37.3m-37.3 0l37.3 37.3M4117.3 1881.9h37.3m-18.6 -18.6v37.3m-18.6 0l37.3 -37.3m-37.3 0l37.3 37.3M4120.9 1878.3h37.3m-18.6 -18.6v37.3m-18.6 0l37.3 -37.3m-37.3 0l37.3 37.3M4124.5 1878.4h37.3m-18.6 -18.6v37.3m-18.6 0l37.3 -37.3m-37.3 0l37.3 37.3M4128.2 1875.6h37.3m-18.6 -18.6v37.3m-18.6 0l37.3 -37.3m-37.3 0l37.3 37.3M4131.8 1877.2h37.3m-18.6 -18.6v37.3m-18.6 0l37.3 -37.3m-37.3 0l37.3 37.3M4135.5 1884.7h37.3m-18.6 -18.6v37.3m-18.6 0l37.3 -37.3m-37.3 0l37.3 37.3M4139.1 1877.6h37.3m-18.6 -18.6v37.3m-18.6 0l37.3 -37.3m-37.3 0l37.3 37.3M4142.7 1879h37.3m-18.6 -18.6v37.3m-18.6 0l37.3 -37.3m-37.3 0l37.3 37.3M4146.4 1880.1h37.3m-18.6 -18.6v37.3m-18.6 0l37.3 -37.3m-37.3 0l37.3 37.3M4150 1879h37.3m-18.6 -18.6v37.3m-18.6 0l37.3 -37.3m-37.3 0l37.3 37.3M4153.7 1876.4h37.3m-18.6 -18.6v37.3m-18.6 0l37.3 -37.3m-37.3 0l37.3 37.3M4157.3 1877.6h37.3m-18.6 -18.6v37.3m-18.6 0l37.3 -37.3m-37.3 0l37.3 37.3M4160.9 1880.7h37.3m-18.6 -18.6v37.3m-18.6 0l37.3 -37.3m-37.3 0l37.3 37.3M4164.6 1879.7h37.3m-18.6 -18.6v37.3m-18.6 0l37.3 -37.3m-37.3 0l37.3 37.3M4168.2 1877.9h37.3m-18.6 -18.6v37.3m-18.6 0l37.3 -37.3m-37.3 0l37.3 37.3M4171.9 1874.9h37.3m-18.6 -18.6v37.3m-18.6 0l37.3 -37.3m-37.3 0l37.3 37.3M4175.5 1877.7h37.3m-18.6 -18.6v37.3m-18.6 0l37.3 -37.3m-37.3 0l37.3 37.3M4179.1 1874.5h37.3m-18.6 -18.6v37.3m-18.6 0l37.3 -37.3m-37.3 0l37.3 37.3M4182.8 1875.7h37.3m-18.6 -18.6v37.3m-18.6 0l37.3 -37.3m-37.3 0l37.3 37.3M4186.4 1874h37.3m-18.6 -18.6v37.3m-18.6 0l37.3 -37.3m-37.3 0l37.3 37.3M4190.1 1873.4h37.3m-18.6 -18.6v37.3m-18.6 0l37.3 -37.3m-37.3 0l37.3 37.3M4193.7 1878.8h37.3m-18.6 -18.6v37.3m-18.6 0l37.3 -37.3m-37.3 0l37.3 37.3M4197.3 1880.1h37.3m-18.6 -18.6v37.3m-18.6 0l37.3 -37.3m-37.3 0l37.3 37.3M4201 1879.3h37.3m-18.6 -18.6v37.3m-18.6 0l37.3 -37.3m-37.3 0l37.3 37.3M4204.6 1877.6h37.3m-18.6 -18.6v37.3m-18.6 0l37.3 -37.3m-37.3 0l37.3 37.3M4208.3 1875.2h37.3m-18.6 -18.6v37.3m-18.6 0l37.3 -37.3m-37.3 0l37.3 37.3M4211.9 1876.2h37.3m-18.6 -18.6v37.3m-18.6 0l37.3 -37.3m-37.3 0l37.3 37.3M4215.5 1877.5h37.3m-18.6 -18.6v37.3m-18.6 0l37.3 -37.3m-37.3 0l37.3 37.3M4219.2 1877.1h37.3m-18.6 -18.6v37.3m-18.6 0l37.3 -37.3m-37.3 0l37.3 37.3M4222.8 1874.3h37.3m-18.6 -18.6v37.3m-18.6 0l37.3 -37.3m-37.3 0l37.3 37.3M4226.5 1878.8h37.3m-18.6 -18.6v37.3m-18.6 0l37.3 -37.3m-37.3 0l37.3 37.3M4230.1 1878.2h37.3m-18.6 -18.6v37.3m-18.6 0l37.3 -37.3m-37.3 0l37.3 37.3M4233.7 1878.6h37.3m-18.6 -18.6v37.3m-18.6 0l37.3 -37.3m-37.3 0l37.3 37.3M4237.4 1874.2h37.3m-18.6 -18.6v37.3m-18.6 0l37.3 -37.3m-37.3 0l37.3 37.3M4241 1875.8h37.3m-18.6 -18.6v37.3m-18.6 0l37.3 -37.3m-37.3 0l37.3 37.3M4244.6 1873.9h37.3m-18.6 -18.6v37.3m-18.6 0l37.3 -37.3m-37.3 0l37.3 37.3M4248.3 1877.3h37.3m-18.6 -18.6v37.3m-18.6 0l37.3 -37.3m-37.3 0l37.3 37.3M4251.9 1878.1h37.3m-18.6 -18.6v37.3m-18.6 0l37.3 -37.3m-37.3 0l37.3 37.3M4255.6 1875.9h37.3m-18.6 -18.6v37.3m-18.6 0l37.3 -37.3m-37.3 0l37.3 37.3M4259.2 1876.4h37.3m-18.6 -18.6v37.3m-18.6 0l37.3 -37.3m-37.3 0l37.3 37.3M4262.8 1878.8h37.3m-18.6 -18.6v37.3m-18.6 0l37.3 -37.3m-37.3 0l37.3 37.3M4266.5 1877.7h37.3m-18.6 -18.6v37.3m-18.6 0l37.3 -37.3m-37.3 0l37.3 37.3M4270.1 1879.3h37.3m-18.6 -18.6v37.3m-18.6 0l37.3 -37.3m-37.3 0l37.3 37.3M4273.8 1876.1h37.3m-18.6 -18.6v37.3m-18.6 0l37.3 -37.3m-37.3 0l37.3 37.3M4277.4 1875.3h37.3m-18.6 -18.6v37.3m-18.6 0l37.3 -37.3m-37.3 0l37.3 37.3M4281 1872.3h37.3m-18.6 -18.6v37.3m-18.6 0l37.3 -37.3m-37.3 0l37.3 37.3M4284.7 1877.5h37.3m-18.6 -18.6v37.3m-18.6 0l37.3 -37.3m-37.3 0l37.3 37.3M4288.3 1875.4h37.3m-18.6 -18.6v37.3m-18.6 0l37.3 -37.3m-37.3 0l37.3 37.3M4292 1876.6h37.3m-18.6 -18.6v37.3m-18.6 0l37.3 -37.3m-37.3 0l37.3 37.3M4295.6 1875h37.3m-18.6 -18.6v37.3m-18.6 0l37.3 -37.3m-37.3 0l37.3 37.3M4299.2 1875.1h37.3m-18.6 -18.6v37.3m-18.6 0l37.3 -37.3m-37.3 0l37.3 37.3M4302.9 1870.8h37.3m-18.6 -18.6v37.3m-18.6 0l37.3 -37.3m-37.3 0l37.3 37.3M4306.5 1879.1h37.3m-18.6 -18.6v37.3m-18.6 0l37.3 -37.3m-37.3 0l37.3 37.3M4310.2 1881.2h37.3m-18.6 -18.6v37.3m-18.6 0l37.3 -37.3m-37.3 0l37.3 37.3M4313.8 1875.2h37.3m-18.6 -18.6v37.3m-18.6 0l37.3 -37.3m-37.3 0l37.3 37.3M4317.4 1880.6h37.3m-18.6 -18.6v37.3m-18.6 0l37.3 -37.3m-37.3 0l37.3 37.3M4321.1 1877.5h37.3m-18.6 -18.6v37.3m-18.6 0l37.3 -37.3m-37.3 0l37.3 37.3M739.4 1522.9h37.3m-18.6 -18.6v37.3m-18.6 0l37.3 -37.3m-37.3 0l37.3 37.3M767.4 1519.4h37.3m-18.6 -18.6v37.3m-18.6 0l37.3 -37.3m-37.3 0l37.3 37.3M878.9 1535h37.3m-18.6 -18.6v37.3m-18.6 0l37.3 -37.3m-37.3 0l37.3 37.3M891.1 1547h37.3m-18.6 -18.6v37.3m-18.6 0l37.3 -37.3m-37.3 0l37.3 37.3M943.4 1689h37.3m-18.6 -18.6v37.3m-18.6 0l37.3 -37.3m-37.3 0l37.3 37.3M1320 1420.8h37.3m-18.6 -18.6v37.3m-18.6 0l37.3 -37.3m-37.3 0l37.3 37.3M1381.6 1555.3h37.3m-18.6 -18.6v37.3m-18.6 0l37.3 -37.3m-37.3 0l37.3 37.3M1410.6 1599.5h37.3m-18.6 -18.6v37.3m-18.6 0l37.3 -37.3m-37.3 0l37.3 37.3M1403.3 1651.8h37.3m-18.6 -18.6v37.3m-18.6 0l37.3 -37.3m-37.3 0l37.3 37.3M1325.3 1655h37.3m-18.6 -18.6v37.3m-18.6 0l37.3 -37.3m-37.3 0l37.3 37.3M1220.3 1624h37.3m-18.6 -18.6v37.3m-18.6 0l37.3 -37.3m-37.3 0l37.3 37.3M1865.3 1670.2h37.3m-18.6 -18.6v37.3m-18.6 0l37.3 -37.3m-37.3 0l37.3 37.3M1610.9 1669h37.3m-18.6 -18.6v37.3m-18.6 0l37.3 -37.3m-37.3 0l37.3 37.3M1912 1658.7h37.3m-18.6 -18.6v37.3m-18.6 0l37.3 -37.3m-37.3 0l37.3 37.3M1932.9 1688.4h37.3m-18.6 -18.6v37.3m-18.6 0l37.3 -37.3m-37.3 0l37.3 37.3M2107.3 1789.4h37.3m-18.6 -18.6v37.3m-18.6 0l37.3 -37.3m-37.3 0l37.3 37.3M2111.3 1790h37.3m-18.6 -18.6v37.3m-18.6 0l37.3 -37.3m-37.3 0l37.3 37.3M2420.8 1588h37.3m-18.6 -18.6v37.3m-18.6 0l37.3 -37.3m-37.3 0l37.3 37.3M2423.2 1623.6h37.3m-18.6 -18.6v37.3m-18.6 0l37.3 -37.3m-37.3 0l37.3 37.3M2479.3 1693.2h37.3m-18.6 -18.6v37.3m-18.6 0l37.3 -37.3m-37.3 0l37.3 37.3M2482.9 1693.5h37.3m-18.6 -18.6v37.3m-18.6 0l37.3 -37.3m-37.3 0l37.3 37.3M2486.7 1693h37.3m-18.6 -18.6v37.3m-18.6 0l37.3 -37.3m-37.3 0l37.3 37.3M2490.2 1693.2h37.3m-18.6 -18.6v37.3m-18.6 0l37.3 -37.3m-37.3 0l37.3 37.3M2512 1695h37.3m-18.6 -18.6v37.3m-18.6 0l37.3 -37.3m-37.3 0l37.3 37.3M2518.2 543.7h37.3m-18.6 -18.6v37.3m-18.6 0l37.3 -37.3m-37.3 0l37.3 37.3M3369.3 1605.4h37.3m-18.6 -18.6v37.3m-18.6 0l37.3 -37.3m-37.3 0l37.3 37.3M3373.3 1605h37.3m-18.6 -18.6v37.3m-18.6 0l37.3 -37.3m-37.3 0l37.3 37.3M3377.3 1605.4h37.3m-18.6 -18.6v37.3m-18.6 0l37.3 -37.3m-37.3 0l37.3 37.3M3830.2 1859.7h37.3m-18.6 -18.6v37.3m-18.6 0l37.3 -37.3m-37.3 0l37.3 37.3M3970.5 1859.7h37.3m-18.6 -18.6v37.3m-18.6 0l37.3 -37.3m-37.3 0l37.3 37.3M4278.9 1382.5h37.3m-18.6 -18.6v37.3m-18.6 0l37.3 -37.3m-37.3 0l37.3 37.3M4119.4 1709.2h37.3m-18.6 -18.6v37.3m-18.6 0l37.3 -37.3m-37.3 0l37.3 37.3M4150.7 1895h37.3m-18.6 -18.6v37.3m-18.6 0l37.3 -37.3m-37.3 0l37.3 37.3M1593.3 1668h37.3m-18.6 -18.6v37.3m-18.6 0l37.3 -37.3m-37.3 0l37.3 37.3M1603.3 1669.5h37.3m-18.6 -18.6v37.3m-18.6 0l37.3 -37.3m-37.3 0l37.3 37.3M1621.3 1669h37.3m-18.6 -18.6v37.3m-18.6 0l37.3 -37.3m-37.3 0l37.3 37.3M1629.3 1668h37.3m-18.6 -18.6v37.3m-18.6 0l37.3 -37.3m-37.3 0l37.3 37.3M446.4 1570h37.3m-18.6 -18.6v37.3m-18.6 0l37.3 -37.3m-37.3 0l37.3 37.3M442.4 1571h37.3m-18.6 -18.6v37.3m-18.6 0l37.3 -37.3m-37.3 0l37.3 37.3M449.4 1570h37.3m-18.6 -18.6v37.3m-18.6 0l37.3 -37.3m-37.3 0l37.3 37.3M429.4 1601h37.3m-18.6 -18.6v37.3m-18.6 0l37.3 -37.3m-37.3 0l37.3 37.3M433.4 1601h37.3m-18.6 -18.6v37.3m-18.6 0l37.3 -37.3m-37.3 0l37.3 37.3M955.9 1522.9h37.3m-18.6 -18.6v37.3m-18.6 0l37.3 -37.3m-37.3 0l37.3 37.3M959.5 1525.4h37.3m-18.6 -18.6v37.3m-18.6 0l37.3 -37.3m-37.3 0l37.3 37.3M963.1 1520.9h37.3m-18.6 -18.6v37.3m-18.6 0l37.3 -37.3m-37.3 0l37.3 37.3M966.8 1524.4h37.3m-18.6 -18.6v37.3m-18.6 0l37.3 -37.3m-37.3 0l37.3 37.3M970.4 1519.9h37.3m-18.6 -18.6v37.3m-18.6 0l37.3 -37.3m-37.3 0l37.3 37.3M974.1 1524.9h37.3m-18.6 -18.6v37.3m-18.6 0l37.3 -37.3m-37.3 0l37.3 37.3M977.7 1522.9h37.3m-18.6 -18.6v37.3m-18.6 0l37.3 -37.3m-37.3 0l37.3 37.3M981.3 1521.4h37.3m-18.6 -18.6v37.3m-18.6 0l37.3 -37.3m-37.3 0l37.3 37.3M985 1525.9h37.3m-18.6 -18.6v37.3m-18.6 0l37.3 -37.3m-37.3 0l37.3 37.3"/>
<path class="m" stroke="#dd2a00" d="M4130.9 423.2h37.3M4149.5 404.6v37.3"/>
<path class="m" stroke="#89f739" d="M4130.9 515.6l37.3 37.3M4130.9 552.9l37.3 -37.3"/>
<path class="m" stroke="#2035fc" d="M4130.9 645.2h37.3m-18.6 -18.6v37.3m-18.6 0l37.3 -37.3m-37.3 0l37.3 37.3"/>
<rect x="358" y="330.9" width="3988.1" height="2453.8" fill="none" stroke="#000" stroke-width="5.7" stroke-linejoin="round"/>
<g font-size="74">
<text transform="translate(2353.8 182.8) scale(1 1.033)" text-anchor="middle">Relative Proporitions of More Specifics</text>
<text transform="translate(320.8 2803.3) scale(1 1.033)" text-anchor="end">15</text>
<text transform="translate(317 2496.6) scale(1 1.033)" text-anchor="end">20</text>
<text transform="translate(317 2189.8) scale(1 1.033)" text-anchor="end">25</text>
<text transform="translate(317 1883.1) scale(1 1.033)" text-anchor="end">30</text>
<text transform="translate(317 1576.4) scale(1 1.033)" text-anchor="end">35</text>
<text transform="translate(317 1269.7) scale(1 1.033)" text-anchor="end">40</text>
<text transform="translate(317 962.9) scale(1 1.033)" text-anchor="end">45</text>
<text transform="translate(317 656.2) scale(1 1.033)" text-anchor="end">50</text>
<text transform="translate(317 349.5) scale(1 1.033)" text-anchor="end">55</text>
<text transform="translate(358 2914.2) scale(1 1.033)" text-anchor="middle">2011</text>
<text transform="translate(1022.7 2914.2) scale(1 1.033)" text-anchor="middle">2011.5</text>
<text transform="translate(1687.4 2914.2) scale(1 1.033)" text-anchor="middle">2012</text>
<text transform="translate(2352.1 2914.2) scale(1 1.033)" text-anchor="middle">2012.5</text>
<text transform="translate(3016.7 2914.2) scale(1 1.033)" text-anchor="middle">2013</text>
<text transform="translate(3681.4 2914.2) scale(1 1.033)" text-anchor="middle">2013.5</text>
<text transform="translate(4346.1 2914.2) scale(1 1.033)" text-anchor="middle">2014</text>
<text transform="translate(2354.8 3081) scale(1 1.033)" text-anchor="middle">Date</text>
<text transform="translate(99.1 1555) rotate(-90) scale(1 1.033)" text-anchor="middle">% of More Specifics</text>
<text transform="translate(4003 442.8) scale(1 1.033)" text-anchor="end">Same Path</text>
<text transform="translate(4003 553.3) scale(1 1.033)" text-anchor="end">Same Origin</text>
<text transform="translate(4003 664.4) scale(1 1.033)" text-anchor="end">Different Origin</text>
</g>
</svg>
</body></html>
